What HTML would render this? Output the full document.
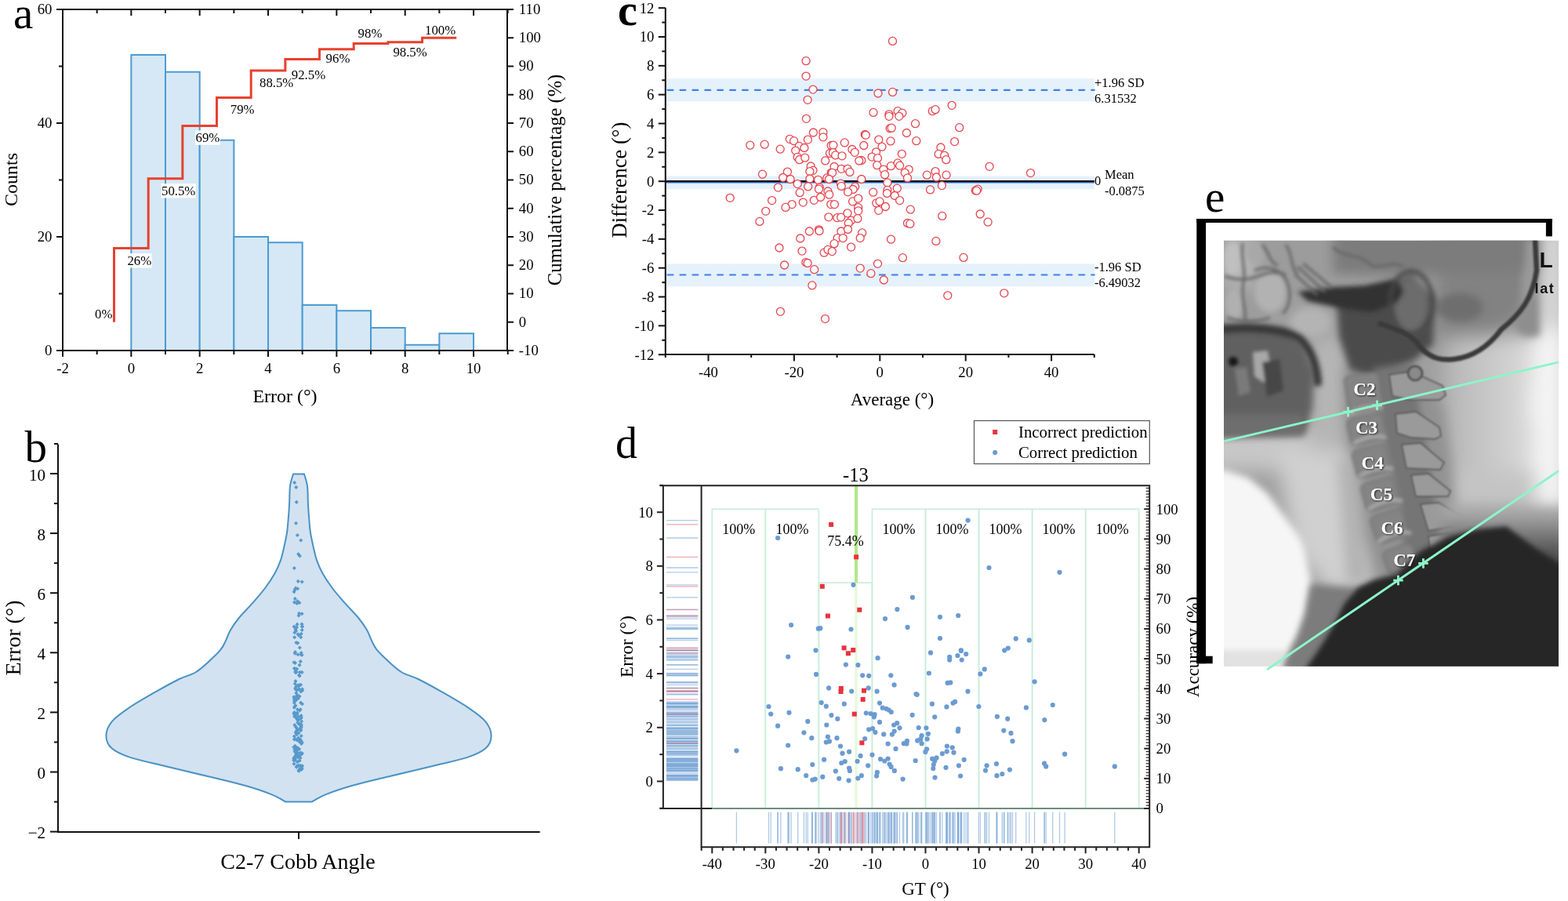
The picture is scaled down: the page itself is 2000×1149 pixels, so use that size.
<!DOCTYPE html>
<html><head><meta charset="utf-8"><title>Figure</title>
<style>html,body{margin:0;padding:0;background:#fff;} svg{display:block;}</style></head>
<body><svg width="2000" height="1149" viewBox="0 0 2000 1149">
<rect width="2000" height="1149" fill="#fff"/>
<rect x="167.34" y="70" width="43.67" height="377" fill="#d6e8f5" stroke="#4b9bd2" stroke-width="2"/>
<rect x="211.01" y="91.75" width="43.67" height="355.25" fill="#d6e8f5" stroke="#4b9bd2" stroke-width="2"/>
<rect x="254.68" y="178.75" width="43.67" height="268.25" fill="#d6e8f5" stroke="#4b9bd2" stroke-width="2"/>
<rect x="298.35" y="302" width="43.67" height="145" fill="#d6e8f5" stroke="#4b9bd2" stroke-width="2"/>
<rect x="342.02" y="309.25" width="43.67" height="137.75" fill="#d6e8f5" stroke="#4b9bd2" stroke-width="2"/>
<rect x="385.69" y="389" width="43.67" height="58" fill="#d6e8f5" stroke="#4b9bd2" stroke-width="2"/>
<rect x="429.36" y="396.25" width="43.67" height="50.75" fill="#d6e8f5" stroke="#4b9bd2" stroke-width="2"/>
<rect x="473.03" y="418" width="43.67" height="29" fill="#d6e8f5" stroke="#4b9bd2" stroke-width="2"/>
<rect x="516.7" y="439.75" width="43.67" height="7.25" fill="#d6e8f5" stroke="#4b9bd2" stroke-width="2"/>
<rect x="560.37" y="425.25" width="43.67" height="21.75" fill="#d6e8f5" stroke="#4b9bd2" stroke-width="2"/>
<path d="M80.0 12.0H647.0V447.0H80.0Z" fill="none" stroke="#111" stroke-width="2"/>
<line x1="80" y1="447.0" x2="80" y2="455.0" stroke="#111" stroke-width="2"/>
<line x1="80" y1="12.0" x2="80" y2="20.0" stroke="#111" stroke-width="2"/>
<text x="80" y="475.7" font-size="18.8" text-anchor="middle" font-family="'Liberation Serif','Times New Roman',serif">-2</text>
<line x1="123.67" y1="447.0" x2="123.67" y2="452.0" stroke="#111" stroke-width="2"/>
<line x1="123.67" y1="12.0" x2="123.67" y2="17.0" stroke="#111" stroke-width="2"/>
<line x1="167.34" y1="447.0" x2="167.34" y2="455.0" stroke="#111" stroke-width="2"/>
<line x1="167.34" y1="12.0" x2="167.34" y2="20.0" stroke="#111" stroke-width="2"/>
<text x="167.34" y="475.7" font-size="18.8" text-anchor="middle" font-family="'Liberation Serif','Times New Roman',serif">0</text>
<line x1="211.01" y1="447.0" x2="211.01" y2="452.0" stroke="#111" stroke-width="2"/>
<line x1="211.01" y1="12.0" x2="211.01" y2="17.0" stroke="#111" stroke-width="2"/>
<line x1="254.68" y1="447.0" x2="254.68" y2="455.0" stroke="#111" stroke-width="2"/>
<line x1="254.68" y1="12.0" x2="254.68" y2="20.0" stroke="#111" stroke-width="2"/>
<text x="254.68" y="475.7" font-size="18.8" text-anchor="middle" font-family="'Liberation Serif','Times New Roman',serif">2</text>
<line x1="298.35" y1="447.0" x2="298.35" y2="452.0" stroke="#111" stroke-width="2"/>
<line x1="298.35" y1="12.0" x2="298.35" y2="17.0" stroke="#111" stroke-width="2"/>
<line x1="342.02" y1="447.0" x2="342.02" y2="455.0" stroke="#111" stroke-width="2"/>
<line x1="342.02" y1="12.0" x2="342.02" y2="20.0" stroke="#111" stroke-width="2"/>
<text x="342.02" y="475.7" font-size="18.8" text-anchor="middle" font-family="'Liberation Serif','Times New Roman',serif">4</text>
<line x1="385.69" y1="447.0" x2="385.69" y2="452.0" stroke="#111" stroke-width="2"/>
<line x1="385.69" y1="12.0" x2="385.69" y2="17.0" stroke="#111" stroke-width="2"/>
<line x1="429.36" y1="447.0" x2="429.36" y2="455.0" stroke="#111" stroke-width="2"/>
<line x1="429.36" y1="12.0" x2="429.36" y2="20.0" stroke="#111" stroke-width="2"/>
<text x="429.36" y="475.7" font-size="18.8" text-anchor="middle" font-family="'Liberation Serif','Times New Roman',serif">6</text>
<line x1="473.03" y1="447.0" x2="473.03" y2="452.0" stroke="#111" stroke-width="2"/>
<line x1="473.03" y1="12.0" x2="473.03" y2="17.0" stroke="#111" stroke-width="2"/>
<line x1="516.7" y1="447.0" x2="516.7" y2="455.0" stroke="#111" stroke-width="2"/>
<line x1="516.7" y1="12.0" x2="516.7" y2="20.0" stroke="#111" stroke-width="2"/>
<text x="516.7" y="475.7" font-size="18.8" text-anchor="middle" font-family="'Liberation Serif','Times New Roman',serif">8</text>
<line x1="560.37" y1="447.0" x2="560.37" y2="452.0" stroke="#111" stroke-width="2"/>
<line x1="560.37" y1="12.0" x2="560.37" y2="17.0" stroke="#111" stroke-width="2"/>
<line x1="604.04" y1="447.0" x2="604.04" y2="455.0" stroke="#111" stroke-width="2"/>
<line x1="604.04" y1="12.0" x2="604.04" y2="20.0" stroke="#111" stroke-width="2"/>
<text x="604.04" y="475.7" font-size="18.8" text-anchor="middle" font-family="'Liberation Serif','Times New Roman',serif">10</text>
<line x1="647.71" y1="447.0" x2="647.71" y2="452.0" stroke="#111" stroke-width="2"/>
<line x1="647.71" y1="12.0" x2="647.71" y2="17.0" stroke="#111" stroke-width="2"/>
<line x1="72.0" y1="447" x2="80.0" y2="447" stroke="#111" stroke-width="2"/>
<text x="66.5" y="453.2" font-size="18.8" text-anchor="end" font-family="'Liberation Serif','Times New Roman',serif">0</text>
<line x1="75.0" y1="374.5" x2="80.0" y2="374.5" stroke="#111" stroke-width="2"/>
<line x1="72.0" y1="302" x2="80.0" y2="302" stroke="#111" stroke-width="2"/>
<text x="66.5" y="308.2" font-size="18.8" text-anchor="end" font-family="'Liberation Serif','Times New Roman',serif">20</text>
<line x1="75.0" y1="229.5" x2="80.0" y2="229.5" stroke="#111" stroke-width="2"/>
<line x1="72.0" y1="157" x2="80.0" y2="157" stroke="#111" stroke-width="2"/>
<text x="66.5" y="163.2" font-size="18.8" text-anchor="end" font-family="'Liberation Serif','Times New Roman',serif">40</text>
<line x1="75.0" y1="84.5" x2="80.0" y2="84.5" stroke="#111" stroke-width="2"/>
<line x1="72.0" y1="12" x2="80.0" y2="12" stroke="#111" stroke-width="2"/>
<text x="66.5" y="18.2" font-size="18.8" text-anchor="end" font-family="'Liberation Serif','Times New Roman',serif">60</text>
<line x1="647.0" y1="447" x2="655.0" y2="447" stroke="#111" stroke-width="2"/>
<text x="661.8" y="452.8" font-size="18.8" font-family="'Liberation Serif','Times New Roman',serif">-10</text>
<line x1="647.0" y1="410.75" x2="655.0" y2="410.75" stroke="#111" stroke-width="2"/>
<text x="661.8" y="416.55" font-size="18.8" font-family="'Liberation Serif','Times New Roman',serif">0</text>
<line x1="647.0" y1="374.5" x2="655.0" y2="374.5" stroke="#111" stroke-width="2"/>
<text x="661.8" y="380.3" font-size="18.8" font-family="'Liberation Serif','Times New Roman',serif">10</text>
<line x1="647.0" y1="338.25" x2="655.0" y2="338.25" stroke="#111" stroke-width="2"/>
<text x="661.8" y="344.05" font-size="18.8" font-family="'Liberation Serif','Times New Roman',serif">20</text>
<line x1="647.0" y1="302" x2="655.0" y2="302" stroke="#111" stroke-width="2"/>
<text x="661.8" y="307.8" font-size="18.8" font-family="'Liberation Serif','Times New Roman',serif">30</text>
<line x1="647.0" y1="265.75" x2="655.0" y2="265.75" stroke="#111" stroke-width="2"/>
<text x="661.8" y="271.55" font-size="18.8" font-family="'Liberation Serif','Times New Roman',serif">40</text>
<line x1="647.0" y1="229.5" x2="655.0" y2="229.5" stroke="#111" stroke-width="2"/>
<text x="661.8" y="235.3" font-size="18.8" font-family="'Liberation Serif','Times New Roman',serif">50</text>
<line x1="647.0" y1="193.25" x2="655.0" y2="193.25" stroke="#111" stroke-width="2"/>
<text x="661.8" y="199.05" font-size="18.8" font-family="'Liberation Serif','Times New Roman',serif">60</text>
<line x1="647.0" y1="157" x2="655.0" y2="157" stroke="#111" stroke-width="2"/>
<text x="661.8" y="162.8" font-size="18.8" font-family="'Liberation Serif','Times New Roman',serif">70</text>
<line x1="647.0" y1="120.75" x2="655.0" y2="120.75" stroke="#111" stroke-width="2"/>
<text x="661.8" y="126.55" font-size="18.8" font-family="'Liberation Serif','Times New Roman',serif">80</text>
<line x1="647.0" y1="84.5" x2="655.0" y2="84.5" stroke="#111" stroke-width="2"/>
<text x="661.8" y="90.3" font-size="18.8" font-family="'Liberation Serif','Times New Roman',serif">90</text>
<line x1="647.0" y1="48.25" x2="655.0" y2="48.25" stroke="#111" stroke-width="2"/>
<text x="661.8" y="54.05" font-size="18.8" font-family="'Liberation Serif','Times New Roman',serif">100</text>
<line x1="647.0" y1="12" x2="655.0" y2="12" stroke="#111" stroke-width="2"/>
<text x="661.8" y="17.8" font-size="18.8" font-family="'Liberation Serif','Times New Roman',serif">110</text>
<path d="M145.5 410.75V316.5H189.18V227.69H232.84V160.62H276.51V124.38H320.19V89.94H363.86V75.44H407.53V62.75H451.19V55.5H494.87V53.69H538.54V48.25H582.21" fill="none" stroke="#e8412f" stroke-width="3" stroke-linejoin="miter"/>
<text x="121" y="405.6" font-size="16.8" font-family="'Liberation Serif','Times New Roman',serif">0%</text>
<rect x="162" y="323.2" width="31.59" height="18.3" fill="#fff"/>
<text x="162.4" y="338" font-size="16.8" font-family="'Liberation Serif','Times New Roman',serif">26%</text>
<rect x="205.6" y="234.2" width="44.19" height="18.3" fill="#fff"/>
<text x="206" y="249" font-size="16.8" font-family="'Liberation Serif','Times New Roman',serif">50.5%</text>
<rect x="249.1" y="166.5" width="31.59" height="18.3" fill="#fff"/>
<text x="249.5" y="181.3" font-size="16.8" font-family="'Liberation Serif','Times New Roman',serif">69%</text>
<text x="293.8" y="145.3" font-size="16.8" font-family="'Liberation Serif','Times New Roman',serif">79%</text>
<text x="331" y="110.7" font-size="16.8" font-family="'Liberation Serif','Times New Roman',serif">88.5%</text>
<text x="371.8" y="100.5" font-size="16.8" font-family="'Liberation Serif','Times New Roman',serif">92.5%</text>
<text x="415.6" y="79.8" font-size="16.8" font-family="'Liberation Serif','Times New Roman',serif">96%</text>
<text x="456.6" y="48.4" font-size="16.8" font-family="'Liberation Serif','Times New Roman',serif">98%</text>
<text x="501.4" y="72.4" font-size="16.8" font-family="'Liberation Serif','Times New Roman',serif">98.5%</text>
<text x="542" y="43.8" font-size="16.8" font-family="'Liberation Serif','Times New Roman',serif">100%</text>
<text x="363.5" y="513" font-size="24" text-anchor="middle" font-family="'Liberation Serif','Times New Roman',serif">Error (°)</text>
<text transform="translate(21.5 229) rotate(-90)" font-size="24" text-anchor="middle" font-family="'Liberation Serif','Times New Roman',serif">Counts</text>
<text transform="translate(715.5 229.5) rotate(-90)" font-size="24.5" text-anchor="middle" font-family="'Liberation Serif','Times New Roman',serif">Cumulative percentage (%)</text>
<text x="17" y="36" font-size="57" font-family="'Liberation Serif','Times New Roman',serif">a</text>
<path d="M374 604.5C373.33 607.08 370.83 613.42 370 620C369.17 626.58 369.45 636.17 369 644C368.55 651.83 367.82 661 367.3 667C366.78 673 366.67 675.22 365.9 680C365.13 684.78 364.02 689.97 362.7 695.7C361.38 701.43 360.08 708.4 358 714.4C355.92 720.4 353.58 725.68 350.2 731.7C346.82 737.72 342.4 744.25 337.7 750.5C333 756.75 327.48 762.95 322 769.2C316.52 775.45 309.5 782.25 304.8 788C300.1 793.75 296.67 798.73 293.8 803.7C290.93 808.67 289.68 813.63 287.6 817.8C285.52 821.97 284.43 824.78 281.3 828.7C278.17 832.62 274.02 836.58 268.8 841.3C263.58 846.02 256.7 852.88 250 857C243.3 861.12 237.07 861.85 228.6 866C220.13 870.15 209.75 875.87 199.2 881.9C188.65 887.93 174.73 895.8 165.3 902.2C155.87 908.6 147.58 914.27 142.6 920.3C137.62 926.33 135.4 932.73 135.4 938.4C135.4 944.07 137.62 949.77 142.6 954.3C147.58 958.83 153.98 961.82 165.3 965.6C176.62 969.38 193.53 972.85 210.5 977C227.47 981.15 250.12 986.37 267.1 990.5C284.08 994.63 299.2 998.03 312.4 1001.8C325.6 1005.57 337.62 1009.63 346.3 1013.1C354.98 1016.57 361.47 1021.02 364.5 1022.6L397.5 1022.6C400.53 1021.02 407.02 1016.57 415.7 1013.1C424.38 1009.63 436.4 1005.57 449.6 1001.8C462.8 998.03 477.92 994.63 494.9 990.5C511.88 986.37 534.53 981.15 551.5 977C568.47 972.85 585.38 969.38 596.7 965.6C608.02 961.82 614.42 958.83 619.4 954.3C624.38 949.77 626.6 944.07 626.6 938.4C626.6 932.73 624.38 926.33 619.4 920.3C614.42 914.27 606.13 908.6 596.7 902.2C587.27 895.8 573.35 887.93 562.8 881.9C552.25 875.87 541.87 870.15 533.4 866C524.93 861.85 518.7 861.12 512 857C505.3 852.88 498.42 846.02 493.2 841.3C487.98 836.58 483.83 832.62 480.7 828.7C477.57 824.78 476.48 821.97 474.4 817.8C472.32 813.63 471.07 808.67 468.2 803.7C465.33 798.73 461.9 793.75 457.2 788C452.5 782.25 445.48 775.45 440 769.2C434.52 762.95 429 756.75 424.3 750.5C419.6 744.25 415.18 737.72 411.8 731.7C408.42 725.68 406.08 720.4 404 714.4C401.92 708.4 400.62 701.43 399.3 695.7C397.98 689.97 396.87 684.78 396.1 680C395.33 675.22 395.22 673 394.7 667C394.18 661 393.45 651.83 393 644C392.55 636.17 392.83 626.58 392 620C391.17 613.42 388.67 607.08 388 604.5Z" fill="#d2e2f1" stroke="#4a92c4" stroke-width="2"/>
<rect x="376.46" y="638.56" width="3.6" height="3.6" fill="#5799cb" transform="rotate(45 378.26 640.36)"/>
<rect x="374.56" y="761.74" width="3.6" height="3.6" fill="#5799cb" transform="rotate(45 376.36 763.54)"/>
<rect x="380.06" y="766.84" width="3.6" height="3.6" fill="#5799cb" transform="rotate(45 381.86 768.64)"/>
<rect x="373.7" y="766.29" width="3.6" height="3.6" fill="#5799cb" transform="rotate(45 375.5 768.09)"/>
<rect x="378.79" y="704.86" width="3.6" height="3.6" fill="#5799cb" transform="rotate(45 380.59 706.66)"/>
<rect x="376.92" y="767.73" width="3.6" height="3.6" fill="#5799cb" transform="rotate(45 378.72 769.53)"/>
<rect x="373.54" y="722.71" width="3.6" height="3.6" fill="#5799cb" transform="rotate(45 375.34 724.51)"/>
<rect x="378.48" y="739.57" width="3.6" height="3.6" fill="#5799cb" transform="rotate(45 380.28 741.37)"/>
<rect x="373.31" y="752.87" width="3.6" height="3.6" fill="#5799cb" transform="rotate(45 375.11 754.67)"/>
<rect x="377.67" y="764.84" width="3.6" height="3.6" fill="#5799cb" transform="rotate(45 379.47 766.64)"/>
<rect x="373.67" y="797.44" width="3.6" height="3.6" fill="#5799cb" transform="rotate(45 375.47 799.24)"/>
<rect x="373.9" y="613.73" width="3.6" height="3.6" fill="#5799cb" transform="rotate(45 375.7 615.53)"/>
<rect x="377.57" y="680.69" width="3.6" height="3.6" fill="#5799cb" transform="rotate(45 379.37 682.49)"/>
<rect x="382" y="687.13" width="3.6" height="3.6" fill="#5799cb" transform="rotate(45 383.8 688.93)"/>
<rect x="374.26" y="750.32" width="3.6" height="3.6" fill="#5799cb" transform="rotate(45 376.06 752.12)"/>
<rect x="375.36" y="748.32" width="3.6" height="3.6" fill="#5799cb" transform="rotate(45 377.16 750.12)"/>
<rect x="379.8" y="780.48" width="3.6" height="3.6" fill="#5799cb" transform="rotate(45 381.6 782.28)"/>
<rect x="383.32" y="780.92" width="3.6" height="3.6" fill="#5799cb" transform="rotate(45 385.12 782.72)"/>
<rect x="379.25" y="783.14" width="3.6" height="3.6" fill="#5799cb" transform="rotate(45 381.05 784.94)"/>
<rect x="377.26" y="794.33" width="3.6" height="3.6" fill="#5799cb" transform="rotate(45 379.06 796.13)"/>
<rect x="383.64" y="797.44" width="3.6" height="3.6" fill="#5799cb" transform="rotate(45 385.44 799.24)"/>
<rect x="373.41" y="797.44" width="3.6" height="3.6" fill="#5799cb" transform="rotate(45 375.21 799.24)"/>
<rect x="382.34" y="806.53" width="3.6" height="3.6" fill="#5799cb" transform="rotate(45 384.14 808.33)"/>
<rect x="376.09" y="817.73" width="3.6" height="3.6" fill="#5799cb" transform="rotate(45 377.89 819.53)"/>
<rect x="374.49" y="831.36" width="3.6" height="3.6" fill="#5799cb" transform="rotate(45 376.29 833.16)"/>
<rect x="374.2" y="850.77" width="3.6" height="3.6" fill="#5799cb" transform="rotate(45 376 852.57)"/>
<rect x="376.29" y="855.31" width="3.6" height="3.6" fill="#5799cb" transform="rotate(45 378.09 857.11)"/>
<rect x="381.88" y="871.5" width="3.6" height="3.6" fill="#5799cb" transform="rotate(45 383.68 873.3)"/>
<rect x="374.89" y="876.6" width="3.6" height="3.6" fill="#5799cb" transform="rotate(45 376.69 878.4)"/>
<rect x="379.3" y="873.27" width="3.6" height="3.6" fill="#5799cb" transform="rotate(45 381.1 875.07)"/>
<rect x="379.93" y="876.93" width="3.6" height="3.6" fill="#5799cb" transform="rotate(45 381.73 878.73)"/>
<rect x="377" y="887.58" width="3.6" height="3.6" fill="#5799cb" transform="rotate(45 378.8 889.38)"/>
<rect x="378.93" y="885.58" width="3.6" height="3.6" fill="#5799cb" transform="rotate(45 380.73 887.38)"/>
<rect x="373.59" y="889.24" width="3.6" height="3.6" fill="#5799cb" transform="rotate(45 375.39 891.04)"/>
<rect x="373.56" y="894.34" width="3.6" height="3.6" fill="#5799cb" transform="rotate(45 375.36 896.14)"/>
<rect x="375.17" y="897.89" width="3.6" height="3.6" fill="#5799cb" transform="rotate(45 376.97 899.69)"/>
<rect x="380.38" y="904.32" width="3.6" height="3.6" fill="#5799cb" transform="rotate(45 382.18 906.12)"/>
<rect x="377.6" y="902.99" width="3.6" height="3.6" fill="#5799cb" transform="rotate(45 379.4 904.79)"/>
<rect x="376.36" y="913.85" width="3.6" height="3.6" fill="#5799cb" transform="rotate(45 378.16 915.65)"/>
<rect x="379.34" y="921.5" width="3.6" height="3.6" fill="#5799cb" transform="rotate(45 381.14 923.3)"/>
<rect x="377.89" y="919.73" width="3.6" height="3.6" fill="#5799cb" transform="rotate(45 379.69 921.53)"/>
<rect x="376.2" y="926.16" width="3.6" height="3.6" fill="#5799cb" transform="rotate(45 378 927.96)"/>
<rect x="381.64" y="927.38" width="3.6" height="3.6" fill="#5799cb" transform="rotate(45 383.44 929.18)"/>
<rect x="380.59" y="921.5" width="3.6" height="3.6" fill="#5799cb" transform="rotate(45 382.39 923.3)"/>
<rect x="375.59" y="931.81" width="3.6" height="3.6" fill="#5799cb" transform="rotate(45 377.39 933.61)"/>
<rect x="379.22" y="932.92" width="3.6" height="3.6" fill="#5799cb" transform="rotate(45 381.02 934.72)"/>
<rect x="378.68" y="939.35" width="3.6" height="3.6" fill="#5799cb" transform="rotate(45 380.48 941.15)"/>
<rect x="382.53" y="943.12" width="3.6" height="3.6" fill="#5799cb" transform="rotate(45 384.33 944.92)"/>
<rect x="380.92" y="940.9" width="3.6" height="3.6" fill="#5799cb" transform="rotate(45 382.72 942.7)"/>
<rect x="376.07" y="951.99" width="3.6" height="3.6" fill="#5799cb" transform="rotate(45 377.87 953.79)"/>
<rect x="383.68" y="958.97" width="3.6" height="3.6" fill="#5799cb" transform="rotate(45 385.48 960.77)"/>
<rect x="374.2" y="956.76" width="3.6" height="3.6" fill="#5799cb" transform="rotate(45 376 958.56)"/>
<rect x="377.5" y="954.54" width="3.6" height="3.6" fill="#5799cb" transform="rotate(45 379.3 956.34)"/>
<rect x="381.23" y="964.74" width="3.6" height="3.6" fill="#5799cb" transform="rotate(45 383.03 966.54)"/>
<rect x="374.57" y="965.85" width="3.6" height="3.6" fill="#5799cb" transform="rotate(45 376.37 967.65)"/>
<rect x="378.28" y="964.07" width="3.6" height="3.6" fill="#5799cb" transform="rotate(45 380.08 965.87)"/>
<rect x="373.33" y="967.73" width="3.6" height="3.6" fill="#5799cb" transform="rotate(45 375.13 969.53)"/>
<rect x="380.25" y="968.29" width="3.6" height="3.6" fill="#5799cb" transform="rotate(45 382.05 970.09)"/>
<rect x="381.31" y="974.5" width="3.6" height="3.6" fill="#5799cb" transform="rotate(45 383.11 976.3)"/>
<rect x="379.2" y="980.59" width="3.6" height="3.6" fill="#5799cb" transform="rotate(45 381 982.39)"/>
<rect x="382.53" y="979.6" width="3.6" height="3.6" fill="#5799cb" transform="rotate(45 384.33 981.4)"/>
<rect x="376.35" y="976.38" width="3.6" height="3.6" fill="#5799cb" transform="rotate(45 378.15 978.18)"/>
<rect x="380.55" y="978.71" width="3.6" height="3.6" fill="#5799cb" transform="rotate(45 382.35 980.51)"/>
<rect x="379.44" y="981.48" width="3.6" height="3.6" fill="#5799cb" transform="rotate(45 381.24 983.28)"/>
<rect x="379.28" y="808.42" width="3.6" height="3.6" fill="#5799cb" transform="rotate(45 381.08 810.22)"/>
<rect x="377.92" y="818.28" width="3.6" height="3.6" fill="#5799cb" transform="rotate(45 379.72 820.08)"/>
<rect x="382.14" y="832.92" width="3.6" height="3.6" fill="#5799cb" transform="rotate(45 383.94 834.72)"/>
<rect x="383.29" y="833.47" width="3.6" height="3.6" fill="#5799cb" transform="rotate(45 385.09 835.27)"/>
<rect x="378.12" y="832.92" width="3.6" height="3.6" fill="#5799cb" transform="rotate(45 379.92 834.72)"/>
<rect x="380.21" y="846.33" width="3.6" height="3.6" fill="#5799cb" transform="rotate(45 382.01 848.13)"/>
<rect x="373.57" y="850.77" width="3.6" height="3.6" fill="#5799cb" transform="rotate(45 375.37 852.57)"/>
<rect x="380.62" y="855.53" width="3.6" height="3.6" fill="#5799cb" transform="rotate(45 382.42 857.33)"/>
<rect x="380.02" y="872.05" width="3.6" height="3.6" fill="#5799cb" transform="rotate(45 381.82 873.85)"/>
<rect x="383.82" y="878.82" width="3.6" height="3.6" fill="#5799cb" transform="rotate(45 385.62 880.62)"/>
<rect x="381.94" y="880.04" width="3.6" height="3.6" fill="#5799cb" transform="rotate(45 383.74 881.84)"/>
<rect x="376.03" y="881.92" width="3.6" height="3.6" fill="#5799cb" transform="rotate(45 377.83 883.72)"/>
<rect x="377.14" y="884.69" width="3.6" height="3.6" fill="#5799cb" transform="rotate(45 378.94 886.49)"/>
<rect x="380.26" y="886.13" width="3.6" height="3.6" fill="#5799cb" transform="rotate(45 382.06 887.93)"/>
<rect x="373.15" y="887.02" width="3.6" height="3.6" fill="#5799cb" transform="rotate(45 374.95 888.82)"/>
<rect x="377.98" y="888.02" width="3.6" height="3.6" fill="#5799cb" transform="rotate(45 379.78 889.82)"/>
<rect x="374.75" y="891.68" width="3.6" height="3.6" fill="#5799cb" transform="rotate(45 376.55 893.48)"/>
<rect x="374.19" y="898.99" width="3.6" height="3.6" fill="#5799cb" transform="rotate(45 375.99 900.79)"/>
<rect x="373.55" y="900.44" width="3.6" height="3.6" fill="#5799cb" transform="rotate(45 375.35 902.24)"/>
<rect x="381.35" y="902.99" width="3.6" height="3.6" fill="#5799cb" transform="rotate(45 383.15 904.79)"/>
<rect x="374.32" y="907.2" width="3.6" height="3.6" fill="#5799cb" transform="rotate(45 376.12 909)"/>
<rect x="375.62" y="909.42" width="3.6" height="3.6" fill="#5799cb" transform="rotate(45 377.42 911.22)"/>
<rect x="377.2" y="908.09" width="3.6" height="3.6" fill="#5799cb" transform="rotate(45 379 909.89)"/>
<rect x="382.49" y="913.3" width="3.6" height="3.6" fill="#5799cb" transform="rotate(45 384.29 915.1)"/>
<rect x="373.79" y="911.86" width="3.6" height="3.6" fill="#5799cb" transform="rotate(45 375.59 913.66)"/>
<rect x="377.84" y="916.4" width="3.6" height="3.6" fill="#5799cb" transform="rotate(45 379.64 918.2)"/>
<rect x="378.94" y="916.18" width="3.6" height="3.6" fill="#5799cb" transform="rotate(45 380.74 917.98)"/>
<rect x="382.62" y="922.39" width="3.6" height="3.6" fill="#5799cb" transform="rotate(45 384.42 924.19)"/>
<rect x="381.91" y="929.59" width="3.6" height="3.6" fill="#5799cb" transform="rotate(45 383.71 931.39)"/>
<rect x="382.4" y="936.69" width="3.6" height="3.6" fill="#5799cb" transform="rotate(45 384.2 938.49)"/>
<rect x="375.96" y="925.6" width="3.6" height="3.6" fill="#5799cb" transform="rotate(45 377.76 927.4)"/>
<rect x="377.47" y="929.26" width="3.6" height="3.6" fill="#5799cb" transform="rotate(45 379.27 931.06)"/>
<rect x="376.85" y="929.59" width="3.6" height="3.6" fill="#5799cb" transform="rotate(45 378.65 931.39)"/>
<rect x="382.63" y="946.67" width="3.6" height="3.6" fill="#5799cb" transform="rotate(45 384.43 948.47)"/>
<rect x="383.44" y="945.23" width="3.6" height="3.6" fill="#5799cb" transform="rotate(45 385.24 947.03)"/>
<rect x="374.56" y="954.32" width="3.6" height="3.6" fill="#5799cb" transform="rotate(45 376.36 956.12)"/>
<rect x="374.84" y="951.21" width="3.6" height="3.6" fill="#5799cb" transform="rotate(45 376.64 953.01)"/>
<rect x="375.45" y="953.99" width="3.6" height="3.6" fill="#5799cb" transform="rotate(45 377.25 955.79)"/>
<rect x="375.47" y="950.66" width="3.6" height="3.6" fill="#5799cb" transform="rotate(45 377.27 952.46)"/>
<rect x="378.23" y="958.53" width="3.6" height="3.6" fill="#5799cb" transform="rotate(45 380.03 960.33)"/>
<rect x="379.38" y="962.19" width="3.6" height="3.6" fill="#5799cb" transform="rotate(45 381.18 963.99)"/>
<rect x="375.79" y="960.42" width="3.6" height="3.6" fill="#5799cb" transform="rotate(45 377.59 962.22)"/>
<rect x="372.95" y="967.73" width="3.6" height="3.6" fill="#5799cb" transform="rotate(45 374.75 969.53)"/>
<rect x="377.51" y="969.95" width="3.6" height="3.6" fill="#5799cb" transform="rotate(45 379.31 971.75)"/>
<rect x="376.96" y="975.05" width="3.6" height="3.6" fill="#5799cb" transform="rotate(45 378.76 976.85)"/>
<rect x="379.13" y="974.5" width="3.6" height="3.6" fill="#5799cb" transform="rotate(45 380.93 976.3)"/>
<rect x="383.38" y="978.38" width="3.6" height="3.6" fill="#5799cb" transform="rotate(45 385.18 980.18)"/>
<rect x="380.5" y="979.6" width="3.6" height="3.6" fill="#5799cb" transform="rotate(45 382.3 981.4)"/>
<rect x="378.57" y="888.91" width="3.6" height="3.6" fill="#5799cb" transform="rotate(45 380.37 890.71)"/>
<rect x="379.69" y="859.19" width="3.6" height="3.6" fill="#5799cb" transform="rotate(45 381.49 860.99)"/>
<rect x="380.34" y="860.08" width="3.6" height="3.6" fill="#5799cb" transform="rotate(45 382.14 861.88)"/>
<rect x="373.49" y="906.87" width="3.6" height="3.6" fill="#5799cb" transform="rotate(45 375.29 908.67)"/>
<rect x="382.79" y="918.17" width="3.6" height="3.6" fill="#5799cb" transform="rotate(45 384.59 919.97)"/>
<rect x="381.48" y="922.83" width="3.6" height="3.6" fill="#5799cb" transform="rotate(45 383.28 924.63)"/>
<rect x="382.52" y="925.05" width="3.6" height="3.6" fill="#5799cb" transform="rotate(45 384.32 926.85)"/>
<rect x="381.68" y="929.26" width="3.6" height="3.6" fill="#5799cb" transform="rotate(45 383.48 931.06)"/>
<rect x="377.22" y="907.2" width="3.6" height="3.6" fill="#5799cb" transform="rotate(45 379.02 909)"/>
<rect x="377.29" y="915.51" width="3.6" height="3.6" fill="#5799cb" transform="rotate(45 379.09 917.31)"/>
<rect x="374.04" y="922.83" width="3.6" height="3.6" fill="#5799cb" transform="rotate(45 375.84 924.63)"/>
<rect x="379.88" y="953.43" width="3.6" height="3.6" fill="#5799cb" transform="rotate(45 381.68 955.23)"/>
<rect x="373.58" y="937.13" width="3.6" height="3.6" fill="#5799cb" transform="rotate(45 375.38 938.93)"/>
<rect x="373.64" y="941.12" width="3.6" height="3.6" fill="#5799cb" transform="rotate(45 375.44 942.92)"/>
<rect x="375.2" y="800.88" width="3.6" height="3.6" fill="#5799cb" transform="rotate(45 377 802.68)"/>
<rect x="374.69" y="829.81" width="3.6" height="3.6" fill="#5799cb" transform="rotate(45 376.49 831.61)"/>
<rect x="376.64" y="873.27" width="3.6" height="3.6" fill="#5799cb" transform="rotate(45 378.44 875.07)"/>
<rect x="373.48" y="891.68" width="3.6" height="3.6" fill="#5799cb" transform="rotate(45 375.28 893.48)"/>
<rect x="372.9" y="950.88" width="3.6" height="3.6" fill="#5799cb" transform="rotate(45 374.7 952.68)"/>
<rect x="374.56" y="949.44" width="3.6" height="3.6" fill="#5799cb" transform="rotate(45 376.36 951.24)"/>
<rect x="374.02" y="953.99" width="3.6" height="3.6" fill="#5799cb" transform="rotate(45 375.82 955.79)"/>
<rect x="376.9" y="959.09" width="3.6" height="3.6" fill="#5799cb" transform="rotate(45 378.7 960.89)"/>
<rect x="373.18" y="964.63" width="3.6" height="3.6" fill="#5799cb" transform="rotate(45 374.98 966.43)"/>
<rect x="382.52" y="977.27" width="3.6" height="3.6" fill="#5799cb" transform="rotate(45 384.32 979.07)"/>
<rect x="379.65" y="943.56" width="3.6" height="3.6" fill="#5799cb" transform="rotate(45 381.45 945.36)"/>
<rect x="374.53" y="940.46" width="3.6" height="3.6" fill="#5799cb" transform="rotate(45 376.33 942.26)"/>
<rect x="375.67" y="932.92" width="3.6" height="3.6" fill="#5799cb" transform="rotate(45 377.47 934.72)"/>
<rect x="376.72" y="934.92" width="3.6" height="3.6" fill="#5799cb" transform="rotate(45 378.52 936.72)"/>
<rect x="376.91" y="942.01" width="3.6" height="3.6" fill="#5799cb" transform="rotate(45 378.71 943.81)"/>
<rect x="374.25" y="963.19" width="3.6" height="3.6" fill="#5799cb" transform="rotate(45 376.05 964.99)"/>
<rect x="382.24" y="960.42" width="3.6" height="3.6" fill="#5799cb" transform="rotate(45 384.04 962.22)"/>
<rect x="383.82" y="975.05" width="3.6" height="3.6" fill="#5799cb" transform="rotate(45 385.62 976.85)"/>
<rect x="378.03" y="952.1" width="3.6" height="3.6" fill="#5799cb" transform="rotate(45 379.83 953.9)"/>
<rect x="378.22" y="806.97" width="3.6" height="3.6" fill="#5799cb" transform="rotate(45 380.02 808.77)"/>
<rect x="373.84" y="810.97" width="3.6" height="3.6" fill="#5799cb" transform="rotate(45 375.64 812.77)"/>
<rect x="374.02" y="804.87" width="3.6" height="3.6" fill="#5799cb" transform="rotate(45 375.82 806.67)"/>
<rect x="376.67" y="798.1" width="3.6" height="3.6" fill="#5799cb" transform="rotate(45 378.47 799.9)"/>
<rect x="375.81" y="802.76" width="3.6" height="3.6" fill="#5799cb" transform="rotate(45 377.61 804.56)"/>
<rect x="382.02" y="810.97" width="3.6" height="3.6" fill="#5799cb" transform="rotate(45 383.82 812.77)"/>
<rect x="374.68" y="843.56" width="3.6" height="3.6" fill="#5799cb" transform="rotate(45 376.48 845.36)"/>
<rect x="373.15" y="843.01" width="3.6" height="3.6" fill="#5799cb" transform="rotate(45 374.95 844.81)"/>
<rect x="383.36" y="855.53" width="3.6" height="3.6" fill="#5799cb" transform="rotate(45 385.16 857.33)"/>
<rect x="378.71" y="872.05" width="3.6" height="3.6" fill="#5799cb" transform="rotate(45 380.51 873.85)"/>
<rect x="374.51" y="870.17" width="3.6" height="3.6" fill="#5799cb" transform="rotate(45 376.31 871.97)"/>
<rect x="378.87" y="877.38" width="3.6" height="3.6" fill="#5799cb" transform="rotate(45 380.67 879.18)"/>
<rect x="373.2" y="908.64" width="3.6" height="3.6" fill="#5799cb" transform="rotate(45 375 910.44)"/>
<rect x="378.71" y="911.86" width="3.6" height="3.6" fill="#5799cb" transform="rotate(45 380.51 913.66)"/>
<rect x="383.66" y="876.93" width="3.6" height="3.6" fill="#5799cb" transform="rotate(45 385.46 878.73)"/>
<rect x="382.4" y="830.81" width="3.6" height="3.6" fill="#5799cb" transform="rotate(45 384.2 832.61)"/>
<rect x="380.56" y="824.16" width="3.6" height="3.6" fill="#5799cb" transform="rotate(45 382.36 825.96)"/>
<rect x="375.77" y="891.12" width="3.6" height="3.6" fill="#5799cb" transform="rotate(45 377.57 892.92)"/>
<rect x="376.93" y="960.42" width="3.6" height="3.6" fill="#5799cb" transform="rotate(45 378.73 962.22)"/>
<rect x="374.74" y="967.4" width="3.6" height="3.6" fill="#5799cb" transform="rotate(45 376.54 969.2)"/>
<rect x="381.39" y="957.98" width="3.6" height="3.6" fill="#5799cb" transform="rotate(45 383.19 959.78)"/>
<rect x="378.76" y="974.72" width="3.6" height="3.6" fill="#5799cb" transform="rotate(45 380.56 976.52)"/>
<rect x="381.47" y="841.79" width="3.6" height="3.6" fill="#5799cb" transform="rotate(45 383.27 843.59)"/>
<rect x="376.53" y="878.48" width="3.6" height="3.6" fill="#5799cb" transform="rotate(45 378.33 880.28)"/>
<rect x="375.35" y="874.71" width="3.6" height="3.6" fill="#5799cb" transform="rotate(45 377.15 876.51)"/>
<rect x="381.83" y="894.34" width="3.6" height="3.6" fill="#5799cb" transform="rotate(45 383.63 896.14)"/>
<rect x="383.73" y="895.89" width="3.6" height="3.6" fill="#5799cb" transform="rotate(45 385.53 897.69)"/>
<rect x="382.28" y="910.86" width="3.6" height="3.6" fill="#5799cb" transform="rotate(45 384.08 912.66)"/>
<rect x="381.77" y="914.52" width="3.6" height="3.6" fill="#5799cb" transform="rotate(45 383.57 916.32)"/>
<rect x="381.9" y="925.94" width="3.6" height="3.6" fill="#5799cb" transform="rotate(45 383.7 927.74)"/>
<rect x="381.04" y="944.23" width="3.6" height="3.6" fill="#5799cb" transform="rotate(45 382.84 946.03)"/>
<rect x="375.39" y="957.31" width="3.6" height="3.6" fill="#5799cb" transform="rotate(45 377.19 959.11)"/>
<rect x="378.59" y="961.64" width="3.6" height="3.6" fill="#5799cb" transform="rotate(45 380.39 963.44)"/>
<rect x="376.81" y="961.64" width="3.6" height="3.6" fill="#5799cb" transform="rotate(45 378.61 963.44)"/>
<rect x="373.22" y="966.29" width="3.6" height="3.6" fill="#5799cb" transform="rotate(45 375.02 968.09)"/>
<rect x="373.21" y="972.28" width="3.6" height="3.6" fill="#5799cb" transform="rotate(45 375.01 974.08)"/>
<rect x="375.97" y="619.61" width="3.6" height="3.6" fill="#5799cb" transform="rotate(45 377.77 621.41)"/>
<rect x="375.75" y="665.51" width="3.6" height="3.6" fill="#5799cb" transform="rotate(45 377.55 667.31)"/>
<rect x="380.52" y="707.08" width="3.6" height="3.6" fill="#5799cb" transform="rotate(45 382.32 708.88)"/>
<rect x="383.42" y="740.23" width="3.6" height="3.6" fill="#5799cb" transform="rotate(45 385.22 742.03)"/>
<rect x="377.82" y="748.88" width="3.6" height="3.6" fill="#5799cb" transform="rotate(45 379.62 750.68)"/>
<rect x="383.21" y="794.11" width="3.6" height="3.6" fill="#5799cb" transform="rotate(45 385.01 795.91)"/>
<rect x="383.77" y="797.11" width="3.6" height="3.6" fill="#5799cb" transform="rotate(45 385.57 798.91)"/>
<rect x="383.41" y="801.76" width="3.6" height="3.6" fill="#5799cb" transform="rotate(45 385.21 803.56)"/>
<rect x="376.91" y="851.32" width="3.6" height="3.6" fill="#5799cb" transform="rotate(45 378.71 853.12)"/>
<rect x="375.33" y="855.87" width="3.6" height="3.6" fill="#5799cb" transform="rotate(45 377.13 857.67)"/>
<rect x="375.4" y="887.58" width="3.6" height="3.6" fill="#5799cb" transform="rotate(45 377.2 889.38)"/>
<rect x="375.06" y="854.43" width="3.6" height="3.6" fill="#5799cb" transform="rotate(45 376.86 856.23)"/>
<rect x="375.15" y="866.84" width="3.6" height="3.6" fill="#5799cb" transform="rotate(45 376.95 868.64)"/>
<rect x="379.76" y="928.26" width="3.6" height="3.6" fill="#5799cb" transform="rotate(45 381.56 930.06)"/>
<path d="M74.0 566.5V1061.0H688.6" fill="none" stroke="#111" stroke-width="2"/>
<line x1="64.0" y1="1060.6" x2="74.0" y2="1060.6" stroke="#111" stroke-width="2"/>
<text x="58" y="1069.2" font-size="21" text-anchor="end" font-family="'Liberation Serif','Times New Roman',serif">−2</text>
<line x1="69.0" y1="1022.55" x2="74.0" y2="1022.55" stroke="#111" stroke-width="2"/>
<line x1="64.0" y1="984.5" x2="74.0" y2="984.5" stroke="#111" stroke-width="2"/>
<text x="58" y="993.1" font-size="21" text-anchor="end" font-family="'Liberation Serif','Times New Roman',serif">0</text>
<line x1="69.0" y1="946.45" x2="74.0" y2="946.45" stroke="#111" stroke-width="2"/>
<line x1="64.0" y1="908.4" x2="74.0" y2="908.4" stroke="#111" stroke-width="2"/>
<text x="58" y="917" font-size="21" text-anchor="end" font-family="'Liberation Serif','Times New Roman',serif">2</text>
<line x1="69.0" y1="870.35" x2="74.0" y2="870.35" stroke="#111" stroke-width="2"/>
<line x1="64.0" y1="832.3" x2="74.0" y2="832.3" stroke="#111" stroke-width="2"/>
<text x="58" y="840.9" font-size="21" text-anchor="end" font-family="'Liberation Serif','Times New Roman',serif">4</text>
<line x1="69.0" y1="794.25" x2="74.0" y2="794.25" stroke="#111" stroke-width="2"/>
<line x1="64.0" y1="756.2" x2="74.0" y2="756.2" stroke="#111" stroke-width="2"/>
<text x="58" y="764.8" font-size="21" text-anchor="end" font-family="'Liberation Serif','Times New Roman',serif">6</text>
<line x1="69.0" y1="718.15" x2="74.0" y2="718.15" stroke="#111" stroke-width="2"/>
<line x1="64.0" y1="680.1" x2="74.0" y2="680.1" stroke="#111" stroke-width="2"/>
<text x="58" y="688.7" font-size="21" text-anchor="end" font-family="'Liberation Serif','Times New Roman',serif">8</text>
<line x1="69.0" y1="642.05" x2="74.0" y2="642.05" stroke="#111" stroke-width="2"/>
<line x1="64.0" y1="604" x2="74.0" y2="604" stroke="#111" stroke-width="2"/>
<text x="58" y="612.6" font-size="21" text-anchor="end" font-family="'Liberation Serif','Times New Roman',serif">10</text>
<line x1="69.0" y1="565.95" x2="74.0" y2="565.95" stroke="#111" stroke-width="2"/>
<line x1="381.0" y1="1061.0" x2="381.0" y2="1070.0" stroke="#111" stroke-width="2"/>
<text x="380" y="1107.6" font-size="28" text-anchor="middle" font-family="'Liberation Serif','Times New Roman',serif">C2-7 Cobb Angle</text>
<text transform="translate(25.5 813.5) rotate(-90)" font-size="28" text-anchor="middle" font-family="'Liberation Serif','Times New Roman',serif">Error (°)</text>
<text x="31.5" y="588.5" font-size="57" font-family="'Liberation Serif','Times New Roman',serif">b</text>
<rect x="848.8" y="100.4" width="547" height="28.8" fill="#e5f1fb"/>
<rect x="848.8" y="224.5" width="547" height="16.7" fill="#e5f1fb"/>
<rect x="848.8" y="336.5" width="547" height="28.8" fill="#e5f1fb"/>
<line x1="848.8" y1="114.8" x2="1395.8" y2="114.8" stroke="#3f7fe6" stroke-width="2.2" stroke-dasharray="6.9 9" stroke-dashoffset="13.1" stroke-linecap="round"/>
<line x1="848.8" y1="350.5" x2="1395.8" y2="350.5" stroke="#3f7fe6" stroke-width="2.2" stroke-dasharray="6.9 9" stroke-dashoffset="13.1" stroke-linecap="round"/>
<line x1="848.8" y1="232.6" x2="1395.8" y2="232.6" stroke="#2d6fd6" stroke-width="2"/>
<line x1="848.8" y1="231.2" x2="1395.8" y2="231.2" stroke="#111" stroke-width="2.2"/>
<circle cx="1028.1" cy="77.7" r="5" fill="#fff" stroke="#e5454f" stroke-width="1.3"/>
<circle cx="1028.1" cy="97.1" r="5" fill="#fff" stroke="#e5454f" stroke-width="1.3"/>
<circle cx="1037" cy="114.1" r="5" fill="#fff" stroke="#e5454f" stroke-width="1.3"/>
<circle cx="1030.1" cy="127.3" r="5" fill="#fff" stroke="#e5454f" stroke-width="1.3"/>
<circle cx="1028.4" cy="151.3" r="5" fill="#fff" stroke="#e5454f" stroke-width="1.3"/>
<circle cx="1037.4" cy="169" r="5" fill="#fff" stroke="#e5454f" stroke-width="1.3"/>
<circle cx="1049.9" cy="168.7" r="5" fill="#fff" stroke="#e5454f" stroke-width="1.3"/>
<circle cx="1049.9" cy="174.8" r="5" fill="#fff" stroke="#e5454f" stroke-width="1.3"/>
<circle cx="1030.4" cy="178.1" r="5" fill="#fff" stroke="#e5454f" stroke-width="1.3"/>
<circle cx="1007.3" cy="177.3" r="5" fill="#fff" stroke="#e5454f" stroke-width="1.3"/>
<circle cx="1012.6" cy="179.7" r="5" fill="#fff" stroke="#e5454f" stroke-width="1.3"/>
<circle cx="956.8" cy="185.2" r="5" fill="#fff" stroke="#e5454f" stroke-width="1.3"/>
<circle cx="975.2" cy="184.2" r="5" fill="#fff" stroke="#e5454f" stroke-width="1.3"/>
<circle cx="995.2" cy="190.2" r="5" fill="#fff" stroke="#e5454f" stroke-width="1.3"/>
<circle cx="1019.3" cy="186.4" r="5" fill="#fff" stroke="#e5454f" stroke-width="1.3"/>
<circle cx="1025.9" cy="188.5" r="5" fill="#fff" stroke="#e5454f" stroke-width="1.3"/>
<circle cx="1014.7" cy="192.1" r="5" fill="#fff" stroke="#e5454f" stroke-width="1.3"/>
<circle cx="1017.2" cy="200.4" r="5" fill="#fff" stroke="#e5454f" stroke-width="1.3"/>
<circle cx="1019.7" cy="203.7" r="5" fill="#fff" stroke="#e5454f" stroke-width="1.3"/>
<circle cx="1026.8" cy="201.2" r="5" fill="#fff" stroke="#e5454f" stroke-width="1.3"/>
<circle cx="1052.7" cy="204.9" r="5" fill="#fff" stroke="#e5454f" stroke-width="1.3"/>
<circle cx="1060.2" cy="185.5" r="5" fill="#fff" stroke="#e5454f" stroke-width="1.3"/>
<circle cx="1058.5" cy="195.4" r="5" fill="#fff" stroke="#e5454f" stroke-width="1.3"/>
<circle cx="1034.2" cy="212" r="5" fill="#fff" stroke="#e5454f" stroke-width="1.3"/>
<circle cx="1037" cy="217.3" r="5" fill="#fff" stroke="#e5454f" stroke-width="1.3"/>
<circle cx="1032.9" cy="218.6" r="5" fill="#fff" stroke="#e5454f" stroke-width="1.3"/>
<circle cx="972.5" cy="222.2" r="5" fill="#fff" stroke="#e5454f" stroke-width="1.3"/>
<circle cx="1004.4" cy="219.1" r="5" fill="#fff" stroke="#e5454f" stroke-width="1.3"/>
<circle cx="998.7" cy="226.5" r="5" fill="#fff" stroke="#e5454f" stroke-width="1.3"/>
<circle cx="1008.1" cy="228.5" r="5" fill="#fff" stroke="#e5454f" stroke-width="1.3"/>
<circle cx="1032.9" cy="228" r="5" fill="#fff" stroke="#e5454f" stroke-width="1.3"/>
<circle cx="1043.6" cy="229.3" r="5" fill="#fff" stroke="#e5454f" stroke-width="1.3"/>
<circle cx="1054.9" cy="226.9" r="5" fill="#fff" stroke="#e5454f" stroke-width="1.3"/>
<circle cx="1060.2" cy="220.3" r="5" fill="#fff" stroke="#e5454f" stroke-width="1.3"/>
<circle cx="1138.5" cy="52.4" r="5" fill="#fff" stroke="#e5454f" stroke-width="1.3"/>
<circle cx="1120" cy="119" r="5" fill="#fff" stroke="#e5454f" stroke-width="1.3"/>
<circle cx="1138.5" cy="117.4" r="5" fill="#fff" stroke="#e5454f" stroke-width="1.3"/>
<circle cx="1114" cy="143.4" r="5" fill="#fff" stroke="#e5454f" stroke-width="1.3"/>
<circle cx="1134" cy="145.8" r="5" fill="#fff" stroke="#e5454f" stroke-width="1.3"/>
<circle cx="1134" cy="148.3" r="5" fill="#fff" stroke="#e5454f" stroke-width="1.3"/>
<circle cx="1145.1" cy="141.7" r="5" fill="#fff" stroke="#e5454f" stroke-width="1.3"/>
<circle cx="1150.9" cy="144.2" r="5" fill="#fff" stroke="#e5454f" stroke-width="1.3"/>
<circle cx="1146.8" cy="148.3" r="5" fill="#fff" stroke="#e5454f" stroke-width="1.3"/>
<circle cx="1189.3" cy="141.7" r="5" fill="#fff" stroke="#e5454f" stroke-width="1.3"/>
<circle cx="1193.1" cy="139.7" r="5" fill="#fff" stroke="#e5454f" stroke-width="1.3"/>
<circle cx="1214.1" cy="134.3" r="5" fill="#fff" stroke="#e5454f" stroke-width="1.3"/>
<circle cx="1167.5" cy="157.7" r="5" fill="#fff" stroke="#e5454f" stroke-width="1.3"/>
<circle cx="1223.7" cy="162.7" r="5" fill="#fff" stroke="#e5454f" stroke-width="1.3"/>
<circle cx="1135.2" cy="163.7" r="5" fill="#fff" stroke="#e5454f" stroke-width="1.3"/>
<circle cx="1137.2" cy="163.2" r="5" fill="#fff" stroke="#e5454f" stroke-width="1.3"/>
<circle cx="1156.4" cy="169.5" r="5" fill="#fff" stroke="#e5454f" stroke-width="1.3"/>
<circle cx="1103.3" cy="171.5" r="5" fill="#fff" stroke="#e5454f" stroke-width="1.3"/>
<circle cx="1104.3" cy="172.3" r="5" fill="#fff" stroke="#e5454f" stroke-width="1.3"/>
<circle cx="1120.8" cy="178.1" r="5" fill="#fff" stroke="#e5454f" stroke-width="1.3"/>
<circle cx="1136" cy="179.9" r="5" fill="#fff" stroke="#e5454f" stroke-width="1.3"/>
<circle cx="1168.8" cy="179.7" r="5" fill="#fff" stroke="#e5454f" stroke-width="1.3"/>
<circle cx="1217.6" cy="180.6" r="5" fill="#fff" stroke="#e5454f" stroke-width="1.3"/>
<circle cx="1077.3" cy="181.9" r="5" fill="#fff" stroke="#e5454f" stroke-width="1.3"/>
<circle cx="1062.9" cy="185.2" r="5" fill="#fff" stroke="#e5454f" stroke-width="1.3"/>
<circle cx="1101.8" cy="185.5" r="5" fill="#fff" stroke="#e5454f" stroke-width="1.3"/>
<circle cx="1125" cy="187.2" r="5" fill="#fff" stroke="#e5454f" stroke-width="1.3"/>
<circle cx="1086.9" cy="190.5" r="5" fill="#fff" stroke="#e5454f" stroke-width="1.3"/>
<circle cx="1090.2" cy="194.3" r="5" fill="#fff" stroke="#e5454f" stroke-width="1.3"/>
<circle cx="1062.4" cy="194.6" r="5" fill="#fff" stroke="#e5454f" stroke-width="1.3"/>
<circle cx="1065.7" cy="197.9" r="5" fill="#fff" stroke="#e5454f" stroke-width="1.3"/>
<circle cx="1074" cy="198.8" r="5" fill="#fff" stroke="#e5454f" stroke-width="1.3"/>
<circle cx="1199.9" cy="188" r="5" fill="#fff" stroke="#e5454f" stroke-width="1.3"/>
<circle cx="1197.2" cy="196.4" r="5" fill="#fff" stroke="#e5454f" stroke-width="1.3"/>
<circle cx="1204.7" cy="198.3" r="5" fill="#fff" stroke="#e5454f" stroke-width="1.3"/>
<circle cx="1206.8" cy="203.7" r="5" fill="#fff" stroke="#e5454f" stroke-width="1.3"/>
<circle cx="1150.3" cy="196.3" r="5" fill="#fff" stroke="#e5454f" stroke-width="1.3"/>
<circle cx="1117.5" cy="193.8" r="5" fill="#fff" stroke="#e5454f" stroke-width="1.3"/>
<circle cx="1112.1" cy="200.1" r="5" fill="#fff" stroke="#e5454f" stroke-width="1.3"/>
<circle cx="1119.5" cy="201.7" r="5" fill="#fff" stroke="#e5454f" stroke-width="1.3"/>
<circle cx="1098.8" cy="204.5" r="5" fill="#fff" stroke="#e5454f" stroke-width="1.3"/>
<circle cx="1095.8" cy="205" r="5" fill="#fff" stroke="#e5454f" stroke-width="1.3"/>
<circle cx="1118.7" cy="210.7" r="5" fill="#fff" stroke="#e5454f" stroke-width="1.3"/>
<circle cx="1136.4" cy="211.7" r="5" fill="#fff" stroke="#e5454f" stroke-width="1.3"/>
<circle cx="1145.1" cy="207.9" r="5" fill="#fff" stroke="#e5454f" stroke-width="1.3"/>
<circle cx="1147.6" cy="211.2" r="5" fill="#fff" stroke="#e5454f" stroke-width="1.3"/>
<circle cx="1159.2" cy="216.1" r="5" fill="#fff" stroke="#e5454f" stroke-width="1.3"/>
<circle cx="1154.2" cy="220.3" r="5" fill="#fff" stroke="#e5454f" stroke-width="1.3"/>
<circle cx="1126.9" cy="216.1" r="5" fill="#fff" stroke="#e5454f" stroke-width="1.3"/>
<circle cx="1128.6" cy="222.7" r="5" fill="#fff" stroke="#e5454f" stroke-width="1.3"/>
<circle cx="1064.1" cy="212.5" r="5" fill="#fff" stroke="#e5454f" stroke-width="1.3"/>
<circle cx="1073.2" cy="215.3" r="5" fill="#fff" stroke="#e5454f" stroke-width="1.3"/>
<circle cx="1081.1" cy="215.3" r="5" fill="#fff" stroke="#e5454f" stroke-width="1.3"/>
<circle cx="1083.9" cy="219.4" r="5" fill="#fff" stroke="#e5454f" stroke-width="1.3"/>
<circle cx="1061.6" cy="220.3" r="5" fill="#fff" stroke="#e5454f" stroke-width="1.3"/>
<circle cx="1182.3" cy="223.2" r="5" fill="#fff" stroke="#e5454f" stroke-width="1.3"/>
<circle cx="1193.1" cy="218.6" r="5" fill="#fff" stroke="#e5454f" stroke-width="1.3"/>
<circle cx="1194.4" cy="226" r="5" fill="#fff" stroke="#e5454f" stroke-width="1.3"/>
<circle cx="1207.1" cy="223.2" r="5" fill="#fff" stroke="#e5454f" stroke-width="1.3"/>
<circle cx="1157.5" cy="226.9" r="5" fill="#fff" stroke="#e5454f" stroke-width="1.3"/>
<circle cx="1098.8" cy="228.5" r="5" fill="#fff" stroke="#e5454f" stroke-width="1.3"/>
<circle cx="1057.5" cy="228.5" r="5" fill="#fff" stroke="#e5454f" stroke-width="1.3"/>
<circle cx="1262.1" cy="212.3" r="5" fill="#fff" stroke="#e5454f" stroke-width="1.3"/>
<circle cx="1314.5" cy="220.6" r="5" fill="#fff" stroke="#e5454f" stroke-width="1.3"/>
<circle cx="992.4" cy="239.1" r="5" fill="#fff" stroke="#e5454f" stroke-width="1.3"/>
<circle cx="1017.2" cy="234.6" r="5" fill="#fff" stroke="#e5454f" stroke-width="1.3"/>
<circle cx="1030.7" cy="237.9" r="5" fill="#fff" stroke="#e5454f" stroke-width="1.3"/>
<circle cx="1045.3" cy="239.1" r="5" fill="#fff" stroke="#e5454f" stroke-width="1.3"/>
<circle cx="1044.5" cy="241.2" r="5" fill="#fff" stroke="#e5454f" stroke-width="1.3"/>
<circle cx="1056" cy="244" r="5" fill="#fff" stroke="#e5454f" stroke-width="1.3"/>
<circle cx="1057.7" cy="248.2" r="5" fill="#fff" stroke="#e5454f" stroke-width="1.3"/>
<circle cx="1020.2" cy="245.7" r="5" fill="#fff" stroke="#e5454f" stroke-width="1.3"/>
<circle cx="931.2" cy="252.3" r="5" fill="#fff" stroke="#e5454f" stroke-width="1.3"/>
<circle cx="984.6" cy="255.6" r="5" fill="#fff" stroke="#e5454f" stroke-width="1.3"/>
<circle cx="1010.2" cy="260.6" r="5" fill="#fff" stroke="#e5454f" stroke-width="1.3"/>
<circle cx="1002" cy="264.4" r="5" fill="#fff" stroke="#e5454f" stroke-width="1.3"/>
<circle cx="1024.3" cy="258.1" r="5" fill="#fff" stroke="#e5454f" stroke-width="1.3"/>
<circle cx="1038.3" cy="255.3" r="5" fill="#fff" stroke="#e5454f" stroke-width="1.3"/>
<circle cx="1046.6" cy="251.5" r="5" fill="#fff" stroke="#e5454f" stroke-width="1.3"/>
<circle cx="976.7" cy="269.3" r="5" fill="#fff" stroke="#e5454f" stroke-width="1.3"/>
<circle cx="968.9" cy="282.4" r="5" fill="#fff" stroke="#e5454f" stroke-width="1.3"/>
<circle cx="1056.9" cy="276.8" r="5" fill="#fff" stroke="#e5454f" stroke-width="1.3"/>
<circle cx="1059.8" cy="260.6" r="5" fill="#fff" stroke="#e5454f" stroke-width="1.3"/>
<circle cx="1032.4" cy="295" r="5" fill="#fff" stroke="#e5454f" stroke-width="1.3"/>
<circle cx="1044.5" cy="292.8" r="5" fill="#fff" stroke="#e5454f" stroke-width="1.3"/>
<circle cx="1045" cy="294.5" r="5" fill="#fff" stroke="#e5454f" stroke-width="1.3"/>
<circle cx="1020.8" cy="304" r="5" fill="#fff" stroke="#e5454f" stroke-width="1.3"/>
<circle cx="994" cy="316" r="5" fill="#fff" stroke="#e5454f" stroke-width="1.3"/>
<circle cx="1023" cy="320.1" r="5" fill="#fff" stroke="#e5454f" stroke-width="1.3"/>
<circle cx="1051.1" cy="322.2" r="5" fill="#fff" stroke="#e5454f" stroke-width="1.3"/>
<circle cx="1056" cy="318.4" r="5" fill="#fff" stroke="#e5454f" stroke-width="1.3"/>
<circle cx="1027.9" cy="334.6" r="5" fill="#fff" stroke="#e5454f" stroke-width="1.3"/>
<circle cx="1030.1" cy="335.5" r="5" fill="#fff" stroke="#e5454f" stroke-width="1.3"/>
<circle cx="1000.6" cy="338" r="5" fill="#fff" stroke="#e5454f" stroke-width="1.3"/>
<circle cx="1038.7" cy="343.7" r="5" fill="#fff" stroke="#e5454f" stroke-width="1.3"/>
<circle cx="1035.9" cy="363.9" r="5" fill="#fff" stroke="#e5454f" stroke-width="1.3"/>
<circle cx="995.4" cy="397.3" r="5" fill="#fff" stroke="#e5454f" stroke-width="1.3"/>
<circle cx="1052.5" cy="406.6" r="5" fill="#fff" stroke="#e5454f" stroke-width="1.3"/>
<circle cx="1072.4" cy="234.1" r="5" fill="#fff" stroke="#e5454f" stroke-width="1.3"/>
<circle cx="1073.2" cy="237.4" r="5" fill="#fff" stroke="#e5454f" stroke-width="1.3"/>
<circle cx="1090.6" cy="238.2" r="5" fill="#fff" stroke="#e5454f" stroke-width="1.3"/>
<circle cx="1088.1" cy="241.5" r="5" fill="#fff" stroke="#e5454f" stroke-width="1.3"/>
<circle cx="1081.5" cy="244.8" r="5" fill="#fff" stroke="#e5454f" stroke-width="1.3"/>
<circle cx="1113.7" cy="245.2" r="5" fill="#fff" stroke="#e5454f" stroke-width="1.3"/>
<circle cx="1131.9" cy="232.9" r="5" fill="#fff" stroke="#e5454f" stroke-width="1.3"/>
<circle cx="1131.9" cy="242.4" r="5" fill="#fff" stroke="#e5454f" stroke-width="1.3"/>
<circle cx="1131.4" cy="246.5" r="5" fill="#fff" stroke="#e5454f" stroke-width="1.3"/>
<circle cx="1144.3" cy="240.2" r="5" fill="#fff" stroke="#e5454f" stroke-width="1.3"/>
<circle cx="1141.3" cy="249.5" r="5" fill="#fff" stroke="#e5454f" stroke-width="1.3"/>
<circle cx="1147.6" cy="255.6" r="5" fill="#fff" stroke="#e5454f" stroke-width="1.3"/>
<circle cx="1186.5" cy="241.9" r="5" fill="#fff" stroke="#e5454f" stroke-width="1.3"/>
<circle cx="1201.4" cy="236.6" r="5" fill="#fff" stroke="#e5454f" stroke-width="1.3"/>
<circle cx="1244.3" cy="242.9" r="5" fill="#fff" stroke="#e5454f" stroke-width="1.3"/>
<circle cx="1064.4" cy="260.6" r="5" fill="#fff" stroke="#e5454f" stroke-width="1.3"/>
<circle cx="1087.6" cy="256.9" r="5" fill="#fff" stroke="#e5454f" stroke-width="1.3"/>
<circle cx="1094.7" cy="253.1" r="5" fill="#fff" stroke="#e5454f" stroke-width="1.3"/>
<circle cx="1094.7" cy="264.7" r="5" fill="#fff" stroke="#e5454f" stroke-width="1.3"/>
<circle cx="1094.7" cy="268.8" r="5" fill="#fff" stroke="#e5454f" stroke-width="1.3"/>
<circle cx="1117.8" cy="258.9" r="5" fill="#fff" stroke="#e5454f" stroke-width="1.3"/>
<circle cx="1122" cy="256.9" r="5" fill="#fff" stroke="#e5454f" stroke-width="1.3"/>
<circle cx="1120.7" cy="268.3" r="5" fill="#fff" stroke="#e5454f" stroke-width="1.3"/>
<circle cx="1129.4" cy="263.5" r="5" fill="#fff" stroke="#e5454f" stroke-width="1.3"/>
<circle cx="1161.3" cy="267.2" r="5" fill="#fff" stroke="#e5454f" stroke-width="1.3"/>
<circle cx="1201.8" cy="275.4" r="5" fill="#fff" stroke="#e5454f" stroke-width="1.3"/>
<circle cx="1067.9" cy="277.6" r="5" fill="#fff" stroke="#e5454f" stroke-width="1.3"/>
<circle cx="1072.7" cy="277.1" r="5" fill="#fff" stroke="#e5454f" stroke-width="1.3"/>
<circle cx="1081" cy="271.8" r="5" fill="#fff" stroke="#e5454f" stroke-width="1.3"/>
<circle cx="1085.6" cy="281.2" r="5" fill="#fff" stroke="#e5454f" stroke-width="1.3"/>
<circle cx="1093.9" cy="278.7" r="5" fill="#fff" stroke="#e5454f" stroke-width="1.3"/>
<circle cx="1082.3" cy="284.5" r="5" fill="#fff" stroke="#e5454f" stroke-width="1.3"/>
<circle cx="1157.5" cy="284.5" r="5" fill="#fff" stroke="#e5454f" stroke-width="1.3"/>
<circle cx="1160.8" cy="285.4" r="5" fill="#fff" stroke="#e5454f" stroke-width="1.3"/>
<circle cx="1072.9" cy="295" r="5" fill="#fff" stroke="#e5454f" stroke-width="1.3"/>
<circle cx="1081.5" cy="292.5" r="5" fill="#fff" stroke="#e5454f" stroke-width="1.3"/>
<circle cx="1099.7" cy="296.9" r="5" fill="#fff" stroke="#e5454f" stroke-width="1.3"/>
<circle cx="1097.2" cy="303.6" r="5" fill="#fff" stroke="#e5454f" stroke-width="1.3"/>
<circle cx="1068.2" cy="303.6" r="5" fill="#fff" stroke="#e5454f" stroke-width="1.3"/>
<circle cx="1075.2" cy="303.6" r="5" fill="#fff" stroke="#e5454f" stroke-width="1.3"/>
<circle cx="1064.1" cy="310.7" r="5" fill="#fff" stroke="#e5454f" stroke-width="1.3"/>
<circle cx="1061.3" cy="320.6" r="5" fill="#fff" stroke="#e5454f" stroke-width="1.3"/>
<circle cx="1085.6" cy="315.1" r="5" fill="#fff" stroke="#e5454f" stroke-width="1.3"/>
<circle cx="1136.5" cy="305.2" r="5" fill="#fff" stroke="#e5454f" stroke-width="1.3"/>
<circle cx="1193.9" cy="307.4" r="5" fill="#fff" stroke="#e5454f" stroke-width="1.3"/>
<circle cx="1151.4" cy="328.7" r="5" fill="#fff" stroke="#e5454f" stroke-width="1.3"/>
<circle cx="1229" cy="328.4" r="5" fill="#fff" stroke="#e5454f" stroke-width="1.3"/>
<circle cx="1119.5" cy="336.3" r="5" fill="#fff" stroke="#e5454f" stroke-width="1.3"/>
<circle cx="1097.2" cy="342.1" r="5" fill="#fff" stroke="#e5454f" stroke-width="1.3"/>
<circle cx="1110.9" cy="348.7" r="5" fill="#fff" stroke="#e5454f" stroke-width="1.3"/>
<circle cx="1127.3" cy="357" r="5" fill="#fff" stroke="#e5454f" stroke-width="1.3"/>
<circle cx="1208.8" cy="376.8" r="5" fill="#fff" stroke="#e5454f" stroke-width="1.3"/>
<circle cx="1247.2" cy="241.2" r="5" fill="#fff" stroke="#e5454f" stroke-width="1.3"/>
<circle cx="1245.6" cy="243.2" r="5" fill="#fff" stroke="#e5454f" stroke-width="1.3"/>
<circle cx="1250.2" cy="273" r="5" fill="#fff" stroke="#e5454f" stroke-width="1.3"/>
<circle cx="1260.1" cy="283.2" r="5" fill="#fff" stroke="#e5454f" stroke-width="1.3"/>
<circle cx="1280.8" cy="373.8" r="5" fill="#fff" stroke="#e5454f" stroke-width="1.3"/>
<path d="M848.8 10.0V452.0H1395.8" fill="none" stroke="#111" stroke-width="2"/>
<line x1="839.8" y1="452.24" x2="848.8" y2="452.24" stroke="#111" stroke-width="2"/>
<text x="834.5" y="458.64" font-size="18.8" text-anchor="end" font-family="'Liberation Serif','Times New Roman',serif">-12</text>
<line x1="844.3" y1="433.82" x2="848.8" y2="433.82" stroke="#111" stroke-width="2"/>
<line x1="839.8" y1="415.4" x2="848.8" y2="415.4" stroke="#111" stroke-width="2"/>
<text x="834.5" y="421.8" font-size="18.8" text-anchor="end" font-family="'Liberation Serif','Times New Roman',serif">-10</text>
<line x1="844.3" y1="396.98" x2="848.8" y2="396.98" stroke="#111" stroke-width="2"/>
<line x1="839.8" y1="378.56" x2="848.8" y2="378.56" stroke="#111" stroke-width="2"/>
<text x="834.5" y="384.96" font-size="18.8" text-anchor="end" font-family="'Liberation Serif','Times New Roman',serif">-8</text>
<line x1="844.3" y1="360.14" x2="848.8" y2="360.14" stroke="#111" stroke-width="2"/>
<line x1="839.8" y1="341.72" x2="848.8" y2="341.72" stroke="#111" stroke-width="2"/>
<text x="834.5" y="348.12" font-size="18.8" text-anchor="end" font-family="'Liberation Serif','Times New Roman',serif">-6</text>
<line x1="844.3" y1="323.3" x2="848.8" y2="323.3" stroke="#111" stroke-width="2"/>
<line x1="839.8" y1="304.88" x2="848.8" y2="304.88" stroke="#111" stroke-width="2"/>
<text x="834.5" y="311.28" font-size="18.8" text-anchor="end" font-family="'Liberation Serif','Times New Roman',serif">-4</text>
<line x1="844.3" y1="286.46" x2="848.8" y2="286.46" stroke="#111" stroke-width="2"/>
<line x1="839.8" y1="268.04" x2="848.8" y2="268.04" stroke="#111" stroke-width="2"/>
<text x="834.5" y="274.44" font-size="18.8" text-anchor="end" font-family="'Liberation Serif','Times New Roman',serif">-2</text>
<line x1="844.3" y1="249.62" x2="848.8" y2="249.62" stroke="#111" stroke-width="2"/>
<line x1="839.8" y1="231.2" x2="848.8" y2="231.2" stroke="#111" stroke-width="2"/>
<text x="834.5" y="237.6" font-size="18.8" text-anchor="end" font-family="'Liberation Serif','Times New Roman',serif">0</text>
<line x1="844.3" y1="212.78" x2="848.8" y2="212.78" stroke="#111" stroke-width="2"/>
<line x1="839.8" y1="194.36" x2="848.8" y2="194.36" stroke="#111" stroke-width="2"/>
<text x="834.5" y="200.76" font-size="18.8" text-anchor="end" font-family="'Liberation Serif','Times New Roman',serif">2</text>
<line x1="844.3" y1="175.94" x2="848.8" y2="175.94" stroke="#111" stroke-width="2"/>
<line x1="839.8" y1="157.52" x2="848.8" y2="157.52" stroke="#111" stroke-width="2"/>
<text x="834.5" y="163.92" font-size="18.8" text-anchor="end" font-family="'Liberation Serif','Times New Roman',serif">4</text>
<line x1="844.3" y1="139.1" x2="848.8" y2="139.1" stroke="#111" stroke-width="2"/>
<line x1="839.8" y1="120.68" x2="848.8" y2="120.68" stroke="#111" stroke-width="2"/>
<text x="834.5" y="127.08" font-size="18.8" text-anchor="end" font-family="'Liberation Serif','Times New Roman',serif">6</text>
<line x1="844.3" y1="102.26" x2="848.8" y2="102.26" stroke="#111" stroke-width="2"/>
<line x1="839.8" y1="83.84" x2="848.8" y2="83.84" stroke="#111" stroke-width="2"/>
<text x="834.5" y="90.24" font-size="18.8" text-anchor="end" font-family="'Liberation Serif','Times New Roman',serif">8</text>
<line x1="844.3" y1="65.42" x2="848.8" y2="65.42" stroke="#111" stroke-width="2"/>
<line x1="839.8" y1="47" x2="848.8" y2="47" stroke="#111" stroke-width="2"/>
<text x="834.5" y="53.4" font-size="18.8" text-anchor="end" font-family="'Liberation Serif','Times New Roman',serif">10</text>
<line x1="844.3" y1="28.58" x2="848.8" y2="28.58" stroke="#111" stroke-width="2"/>
<line x1="839.8" y1="10.16" x2="848.8" y2="10.16" stroke="#111" stroke-width="2"/>
<text x="834.5" y="16.56" font-size="18.8" text-anchor="end" font-family="'Liberation Serif','Times New Roman',serif">12</text>
<line x1="848.8" y1="452.0" x2="848.8" y2="456" stroke="#111" stroke-width="2"/>
<line x1="903.5" y1="452.0" x2="903.5" y2="460.5" stroke="#111" stroke-width="2"/>
<text x="903.5" y="480.8" font-size="18.8" text-anchor="middle" font-family="'Liberation Serif','Times New Roman',serif">-40</text>
<line x1="958.2" y1="452.0" x2="958.2" y2="456" stroke="#111" stroke-width="2"/>
<line x1="1012.9" y1="452.0" x2="1012.9" y2="460.5" stroke="#111" stroke-width="2"/>
<text x="1012.9" y="480.8" font-size="18.8" text-anchor="middle" font-family="'Liberation Serif','Times New Roman',serif">-20</text>
<line x1="1067.6" y1="452.0" x2="1067.6" y2="456" stroke="#111" stroke-width="2"/>
<line x1="1122.3" y1="452.0" x2="1122.3" y2="460.5" stroke="#111" stroke-width="2"/>
<text x="1122.3" y="480.8" font-size="18.8" text-anchor="middle" font-family="'Liberation Serif','Times New Roman',serif">0</text>
<line x1="1177" y1="452.0" x2="1177" y2="456" stroke="#111" stroke-width="2"/>
<line x1="1231.7" y1="452.0" x2="1231.7" y2="460.5" stroke="#111" stroke-width="2"/>
<text x="1231.7" y="480.8" font-size="18.8" text-anchor="middle" font-family="'Liberation Serif','Times New Roman',serif">20</text>
<line x1="1286.4" y1="452.0" x2="1286.4" y2="456" stroke="#111" stroke-width="2"/>
<line x1="1341.1" y1="452.0" x2="1341.1" y2="460.5" stroke="#111" stroke-width="2"/>
<text x="1341.1" y="480.8" font-size="18.8" text-anchor="middle" font-family="'Liberation Serif','Times New Roman',serif">40</text>
<line x1="1395.8" y1="452.0" x2="1395.8" y2="456" stroke="#111" stroke-width="2"/>
<text x="1138" y="517.2" font-size="23" text-anchor="middle" font-family="'Liberation Serif','Times New Roman',serif">Average (°)</text>
<text transform="translate(798.5 229.6) rotate(-90)" font-size="26.5" text-anchor="middle" font-family="'Liberation Serif','Times New Roman',serif">Difference (°)</text>
<text x="1396" y="110.8" font-size="16.5" font-family="'Liberation Serif','Times New Roman',serif">+1.96 SD</text>
<text x="1396" y="131" font-size="16.5" font-family="'Liberation Serif','Times New Roman',serif">6.31532</text>
<text x="1396" y="236.2" font-size="16.5" font-family="'Liberation Serif','Times New Roman',serif">0</text>
<text x="1409" y="228.4" font-size="16.5" font-family="'Liberation Serif','Times New Roman',serif">Mean</text>
<text x="1409" y="248.5" font-size="16.5" font-family="'Liberation Serif','Times New Roman',serif">-0.0875</text>
<text x="1396" y="346" font-size="16.5" font-family="'Liberation Serif','Times New Roman',serif">-1.96 SD</text>
<text x="1396" y="366" font-size="16.5" font-family="'Liberation Serif','Times New Roman',serif">-6.49032</text>
<text x="788" y="32" font-size="56" font-weight="bold" font-family="'Liberation Serif','Times New Roman',serif">c</text>
<rect x="908.3" y="649.2" width="68.05" height="381.8" fill="none" stroke="#c9eedb" stroke-width="1.6"/>
<rect x="976.35" y="649.2" width="68.05" height="381.8" fill="none" stroke="#c9eedb" stroke-width="1.6"/>
<rect x="1044.4" y="743.12" width="68.05" height="287.88" fill="none" stroke="#c9eedb" stroke-width="1.6"/>
<rect x="1112.45" y="649.2" width="68.05" height="381.8" fill="none" stroke="#c9eedb" stroke-width="1.6"/>
<rect x="1180.5" y="649.2" width="68.05" height="381.8" fill="none" stroke="#c9eedb" stroke-width="1.6"/>
<rect x="1248.55" y="649.2" width="68.05" height="381.8" fill="none" stroke="#c9eedb" stroke-width="1.6"/>
<rect x="1316.6" y="649.2" width="68.05" height="381.8" fill="none" stroke="#c9eedb" stroke-width="1.6"/>
<rect x="1384.65" y="649.2" width="68.05" height="381.8" fill="none" stroke="#c9eedb" stroke-width="1.6"/>
<line x1="1092.04" y1="743.12" x2="1092.04" y2="1031.0" stroke="#e6f9dc" stroke-width="3.3"/>
<line x1="1092.04" y1="619.2" x2="1092.04" y2="743.12" stroke="#aeea86" stroke-width="4"/>
<text x="942.33" y="681" font-size="18" text-anchor="middle" font-family="'Liberation Serif','Times New Roman',serif">100%</text>
<text x="1010.38" y="681" font-size="18" text-anchor="middle" font-family="'Liberation Serif','Times New Roman',serif">100%</text>
<text x="1078.5" y="696.2" font-size="18" text-anchor="middle" font-family="'Liberation Serif','Times New Roman',serif">75.4%</text>
<text x="1146.47" y="681" font-size="18" text-anchor="middle" font-family="'Liberation Serif','Times New Roman',serif">100%</text>
<text x="1214.53" y="681" font-size="18" text-anchor="middle" font-family="'Liberation Serif','Times New Roman',serif">100%</text>
<text x="1282.57" y="681" font-size="18" text-anchor="middle" font-family="'Liberation Serif','Times New Roman',serif">100%</text>
<text x="1350.62" y="681" font-size="18" text-anchor="middle" font-family="'Liberation Serif','Times New Roman',serif">100%</text>
<text x="1418.68" y="681" font-size="18" text-anchor="middle" font-family="'Liberation Serif','Times New Roman',serif">100%</text>
<circle cx="992.1" cy="686" r="3.1" fill="#6b9bd2"/>
<circle cx="1009.1" cy="797.1" r="3.1" fill="#6b9bd2"/>
<circle cx="1043.8" cy="801.7" r="3.1" fill="#6b9bd2"/>
<circle cx="1046.3" cy="801.2" r="3.1" fill="#6b9bd2"/>
<circle cx="1088.5" cy="745.8" r="3.1" fill="#6b9bd2"/>
<circle cx="1085.5" cy="802.5" r="3.1" fill="#6b9bd2"/>
<circle cx="1163.9" cy="761.9" r="3.1" fill="#6b9bd2"/>
<circle cx="1144.4" cy="777.1" r="3.1" fill="#6b9bd2"/>
<circle cx="1129" cy="789.1" r="3.1" fill="#6b9bd2"/>
<circle cx="1157.6" cy="799.9" r="3.1" fill="#6b9bd2"/>
<circle cx="1040.5" cy="829.3" r="3.1" fill="#6b9bd2"/>
<circle cx="1234.6" cy="663.6" r="3.1" fill="#6b9bd2"/>
<circle cx="1261.5" cy="724" r="3.1" fill="#6b9bd2"/>
<circle cx="1351.5" cy="729.8" r="3.1" fill="#6b9bd2"/>
<circle cx="1199" cy="786.8" r="3.1" fill="#6b9bd2"/>
<circle cx="1222.2" cy="785" r="3.1" fill="#6b9bd2"/>
<circle cx="1199" cy="814" r="3.1" fill="#6b9bd2"/>
<circle cx="1295.7" cy="814.4" r="3.1" fill="#6b9bd2"/>
<circle cx="1312.8" cy="816.4" r="3.1" fill="#6b9bd2"/>
<circle cx="1285.8" cy="826.5" r="3.1" fill="#6b9bd2"/>
<circle cx="1281.2" cy="829.3" r="3.1" fill="#6b9bd2"/>
<circle cx="1225.8" cy="829.3" r="3.1" fill="#6b9bd2"/>
<circle cx="1005.2" cy="837.5" r="3.1" fill="#6b9bd2"/>
<circle cx="1078.9" cy="847.6" r="3.1" fill="#6b9bd2"/>
<circle cx="1041.1" cy="859.9" r="3.1" fill="#6b9bd2"/>
<circle cx="1057.1" cy="877.4" r="3.1" fill="#6b9bd2"/>
<circle cx="1086.2" cy="881.5" r="3.1" fill="#6b9bd2"/>
<circle cx="1047.7" cy="896.1" r="3.1" fill="#6b9bd2"/>
<circle cx="1053.8" cy="900.7" r="3.1" fill="#6b9bd2"/>
<circle cx="1076.8" cy="897.7" r="3.1" fill="#6b9bd2"/>
<circle cx="980.5" cy="901" r="3.1" fill="#6b9bd2"/>
<circle cx="983.2" cy="910.6" r="3.1" fill="#6b9bd2"/>
<circle cx="1006.5" cy="908.8" r="3.1" fill="#6b9bd2"/>
<circle cx="1060.4" cy="912.1" r="3.1" fill="#6b9bd2"/>
<circle cx="1068.3" cy="916.7" r="3.1" fill="#6b9bd2"/>
<circle cx="1030.3" cy="919.9" r="3.1" fill="#6b9bd2"/>
<circle cx="992.1" cy="925.7" r="3.1" fill="#6b9bd2"/>
<circle cx="1054.3" cy="924.5" r="3.1" fill="#6b9bd2"/>
<circle cx="1025.4" cy="934.3" r="3.1" fill="#6b9bd2"/>
<circle cx="1035.3" cy="941.2" r="3.1" fill="#6b9bd2"/>
<circle cx="1055.9" cy="939.6" r="3.1" fill="#6b9bd2"/>
<circle cx="1057.9" cy="945.4" r="3.1" fill="#6b9bd2"/>
<circle cx="1053.8" cy="946.5" r="3.1" fill="#6b9bd2"/>
<circle cx="1067.5" cy="941.2" r="3.1" fill="#6b9bd2"/>
<circle cx="1005.2" cy="950.5" r="3.1" fill="#6b9bd2"/>
<circle cx="1072" cy="951.5" r="3.1" fill="#6b9bd2"/>
<circle cx="939.4" cy="957.3" r="3.1" fill="#6b9bd2"/>
<circle cx="1074.5" cy="960.7" r="3.1" fill="#6b9bd2"/>
<circle cx="1083.1" cy="958.7" r="3.1" fill="#6b9bd2"/>
<circle cx="1051.1" cy="968.7" r="3.1" fill="#6b9bd2"/>
<circle cx="1036.3" cy="975" r="3.1" fill="#6b9bd2"/>
<circle cx="1073.3" cy="973" r="3.1" fill="#6b9bd2"/>
<circle cx="1077.8" cy="971" r="3.1" fill="#6b9bd2"/>
<circle cx="995.9" cy="980.2" r="3.1" fill="#6b9bd2"/>
<circle cx="1017.7" cy="981.2" r="3.1" fill="#6b9bd2"/>
<circle cx="1083.1" cy="979.6" r="3.1" fill="#6b9bd2"/>
<circle cx="1083.9" cy="982.9" r="3.1" fill="#6b9bd2"/>
<circle cx="1065.9" cy="983.4" r="3.1" fill="#6b9bd2"/>
<circle cx="1028.2" cy="989" r="3.1" fill="#6b9bd2"/>
<circle cx="1036.4" cy="994.5" r="3.1" fill="#6b9bd2"/>
<circle cx="1039.7" cy="993.6" r="3.1" fill="#6b9bd2"/>
<circle cx="1049.3" cy="990.7" r="3.1" fill="#6b9bd2"/>
<circle cx="1070.2" cy="992.8" r="3.1" fill="#6b9bd2"/>
<circle cx="1082.6" cy="995.3" r="3.1" fill="#6b9bd2"/>
<circle cx="1119.6" cy="839.2" r="3.1" fill="#6b9bd2"/>
<circle cx="1094.4" cy="848.1" r="3.1" fill="#6b9bd2"/>
<circle cx="1100.2" cy="861.3" r="3.1" fill="#6b9bd2"/>
<circle cx="1108.2" cy="861.8" r="3.1" fill="#6b9bd2"/>
<circle cx="1136.3" cy="861.3" r="3.1" fill="#6b9bd2"/>
<circle cx="1140.6" cy="873.4" r="3.1" fill="#6b9bd2"/>
<circle cx="1107.7" cy="877.4" r="3.1" fill="#6b9bd2"/>
<circle cx="1118.6" cy="881.7" r="3.1" fill="#6b9bd2"/>
<circle cx="1122" cy="896.6" r="3.1" fill="#6b9bd2"/>
<circle cx="1125.7" cy="902.7" r="3.1" fill="#6b9bd2"/>
<circle cx="1130.5" cy="903.8" r="3.1" fill="#6b9bd2"/>
<circle cx="1133.8" cy="905.5" r="3.1" fill="#6b9bd2"/>
<circle cx="1136.8" cy="908" r="3.1" fill="#6b9bd2"/>
<circle cx="1104.8" cy="909.3" r="3.1" fill="#6b9bd2"/>
<circle cx="1110.6" cy="910.1" r="3.1" fill="#6b9bd2"/>
<circle cx="1115.6" cy="911" r="3.1" fill="#6b9bd2"/>
<circle cx="1114.8" cy="914.3" r="3.1" fill="#6b9bd2"/>
<circle cx="1122" cy="920.9" r="3.1" fill="#6b9bd2"/>
<circle cx="1144.2" cy="922.2" r="3.1" fill="#6b9bd2"/>
<circle cx="1140.1" cy="924.5" r="3.1" fill="#6b9bd2"/>
<circle cx="1147.5" cy="928.3" r="3.1" fill="#6b9bd2"/>
<circle cx="1108.2" cy="930.3" r="3.1" fill="#6b9bd2"/>
<circle cx="1113.1" cy="929.1" r="3.1" fill="#6b9bd2"/>
<circle cx="1116.4" cy="933.8" r="3.1" fill="#6b9bd2"/>
<circle cx="1140.7" cy="932.5" r="3.1" fill="#6b9bd2"/>
<circle cx="1137.9" cy="936.6" r="3.1" fill="#6b9bd2"/>
<circle cx="1127.2" cy="936.4" r="3.1" fill="#6b9bd2"/>
<circle cx="1103.2" cy="942" r="3.1" fill="#6b9bd2"/>
<circle cx="1132.6" cy="948.5" r="3.1" fill="#6b9bd2"/>
<circle cx="1142.5" cy="954.9" r="3.1" fill="#6b9bd2"/>
<circle cx="1156.9" cy="944.9" r="3.1" fill="#6b9bd2"/>
<circle cx="1152.8" cy="948.2" r="3.1" fill="#6b9bd2"/>
<circle cx="1156.4" cy="948.5" r="3.1" fill="#6b9bd2"/>
<circle cx="1097.6" cy="963.9" r="3.1" fill="#6b9bd2"/>
<circle cx="1112.5" cy="962.6" r="3.1" fill="#6b9bd2"/>
<circle cx="1093.6" cy="970.8" r="3.1" fill="#6b9bd2"/>
<circle cx="1123" cy="968" r="3.1" fill="#6b9bd2"/>
<circle cx="1128.3" cy="970.5" r="3.1" fill="#6b9bd2"/>
<circle cx="1132.6" cy="967.5" r="3.1" fill="#6b9bd2"/>
<circle cx="1134.6" cy="974.6" r="3.1" fill="#6b9bd2"/>
<circle cx="1136.6" cy="977.9" r="3.1" fill="#6b9bd2"/>
<circle cx="1107.2" cy="976.3" r="3.1" fill="#6b9bd2"/>
<circle cx="1140.9" cy="982.9" r="3.1" fill="#6b9bd2"/>
<circle cx="1118.9" cy="984.9" r="3.1" fill="#6b9bd2"/>
<circle cx="1118.1" cy="989.5" r="3.1" fill="#6b9bd2"/>
<circle cx="1098.9" cy="989" r="3.1" fill="#6b9bd2"/>
<circle cx="1094.3" cy="992.5" r="3.1" fill="#6b9bd2"/>
<circle cx="1151.6" cy="993.6" r="3.1" fill="#6b9bd2"/>
<circle cx="1163.7" cy="911.8" r="3.1" fill="#6b9bd2"/>
<circle cx="1168.5" cy="885" r="3.1" fill="#6b9bd2"/>
<circle cx="1169.7" cy="885.8" r="3.1" fill="#6b9bd2"/>
<circle cx="1171.7" cy="928" r="3.1" fill="#6b9bd2"/>
<circle cx="1175.6" cy="938.2" r="3.1" fill="#6b9bd2"/>
<circle cx="1174.3" cy="942.4" r="3.1" fill="#6b9bd2"/>
<circle cx="1170.2" cy="944.4" r="3.1" fill="#6b9bd2"/>
<circle cx="1175.6" cy="948.2" r="3.1" fill="#6b9bd2"/>
<circle cx="1181.4" cy="928.3" r="3.1" fill="#6b9bd2"/>
<circle cx="1183.9" cy="935.8" r="3.1" fill="#6b9bd2"/>
<circle cx="1182.6" cy="942.4" r="3.1" fill="#6b9bd2"/>
<circle cx="1167.7" cy="970" r="3.1" fill="#6b9bd2"/>
<circle cx="1182.1" cy="955.3" r="3.1" fill="#6b9bd2"/>
<circle cx="1180.4" cy="958.9" r="3.1" fill="#6b9bd2"/>
<circle cx="1187" cy="832.4" r="3.1" fill="#6b9bd2"/>
<circle cx="1184.9" cy="858.5" r="3.1" fill="#6b9bd2"/>
<circle cx="1188.9" cy="897.7" r="3.1" fill="#6b9bd2"/>
<circle cx="1192.2" cy="914.3" r="3.1" fill="#6b9bd2"/>
<circle cx="1189.2" cy="967.7" r="3.1" fill="#6b9bd2"/>
<circle cx="1194.5" cy="966.4" r="3.1" fill="#6b9bd2"/>
<circle cx="1192.2" cy="970.5" r="3.1" fill="#6b9bd2"/>
<circle cx="1190.8" cy="975.1" r="3.1" fill="#6b9bd2"/>
<circle cx="1190.3" cy="980.1" r="3.1" fill="#6b9bd2"/>
<circle cx="1192.5" cy="991.5" r="3.1" fill="#6b9bd2"/>
<circle cx="1201.9" cy="961.1" r="3.1" fill="#6b9bd2"/>
<circle cx="1207.7" cy="958.3" r="3.1" fill="#6b9bd2"/>
<circle cx="1207.9" cy="951.5" r="3.1" fill="#6b9bd2"/>
<circle cx="1214.7" cy="953.3" r="3.1" fill="#6b9bd2"/>
<circle cx="1216.5" cy="959.7" r="3.1" fill="#6b9bd2"/>
<circle cx="1206.5" cy="978.8" r="3.1" fill="#6b9bd2"/>
<circle cx="1222.9" cy="976.3" r="3.1" fill="#6b9bd2"/>
<circle cx="1225.1" cy="989.5" r="3.1" fill="#6b9bd2"/>
<circle cx="1229.7" cy="968.8" r="3.1" fill="#6b9bd2"/>
<circle cx="1211.2" cy="837.9" r="3.1" fill="#6b9bd2"/>
<circle cx="1211.2" cy="841.5" r="3.1" fill="#6b9bd2"/>
<circle cx="1221.4" cy="836" r="3.1" fill="#6b9bd2"/>
<circle cx="1225.9" cy="829.9" r="3.1" fill="#6b9bd2"/>
<circle cx="1232.2" cy="834.1" r="3.1" fill="#6b9bd2"/>
<circle cx="1226.7" cy="841.5" r="3.1" fill="#6b9bd2"/>
<circle cx="1208.7" cy="870.9" r="3.1" fill="#6b9bd2"/>
<circle cx="1212.3" cy="870.4" r="3.1" fill="#6b9bd2"/>
<circle cx="1234.5" cy="881.7" r="3.1" fill="#6b9bd2"/>
<circle cx="1215.6" cy="896.6" r="3.1" fill="#6b9bd2"/>
<circle cx="1218.1" cy="894.9" r="3.1" fill="#6b9bd2"/>
<circle cx="1207.4" cy="901.4" r="3.1" fill="#6b9bd2"/>
<circle cx="1222.3" cy="929.6" r="3.1" fill="#6b9bd2"/>
<circle cx="1221.9" cy="932.5" r="3.1" fill="#6b9bd2"/>
<circle cx="1248.4" cy="901" r="3.1" fill="#6b9bd2"/>
<circle cx="1250.4" cy="859.4" r="3.1" fill="#6b9bd2"/>
<circle cx="1255.8" cy="853.4" r="3.1" fill="#6b9bd2"/>
<circle cx="1271.9" cy="913.8" r="3.1" fill="#6b9bd2"/>
<circle cx="1258.6" cy="976.3" r="3.1" fill="#6b9bd2"/>
<circle cx="1257" cy="982.6" r="3.1" fill="#6b9bd2"/>
<circle cx="1271" cy="974.1" r="3.1" fill="#6b9bd2"/>
<circle cx="1271.5" cy="989.2" r="3.1" fill="#6b9bd2"/>
<circle cx="1319.6" cy="869.3" r="3.1" fill="#6b9bd2"/>
<circle cx="1308.9" cy="902.4" r="3.1" fill="#6b9bd2"/>
<circle cx="1342.8" cy="899" r="3.1" fill="#6b9bd2"/>
<circle cx="1285.2" cy="916.7" r="3.1" fill="#6b9bd2"/>
<circle cx="1332.3" cy="918.1" r="3.1" fill="#6b9bd2"/>
<circle cx="1280.3" cy="931.6" r="3.1" fill="#6b9bd2"/>
<circle cx="1289.5" cy="934.9" r="3.1" fill="#6b9bd2"/>
<circle cx="1291.5" cy="945.2" r="3.1" fill="#6b9bd2"/>
<circle cx="1358.1" cy="961.7" r="3.1" fill="#6b9bd2"/>
<circle cx="1332" cy="973.5" r="3.1" fill="#6b9bd2"/>
<circle cx="1334.2" cy="977.4" r="3.1" fill="#6b9bd2"/>
<circle cx="1421.8" cy="977.4" r="3.1" fill="#6b9bd2"/>
<circle cx="1287.9" cy="981.6" r="3.1" fill="#6b9bd2"/>
<circle cx="1278.3" cy="987" r="3.1" fill="#6b9bd2"/>
<rect x="1057.1" y="665.9" width="6" height="6" fill="#e8333d"/>
<rect x="1089.1" y="707.3" width="6" height="6" fill="#e8333d"/>
<rect x="1045.8" y="744.8" width="6" height="6" fill="#e8333d"/>
<rect x="1093.3" y="774.7" width="6" height="6" fill="#e8333d"/>
<rect x="1052.9" y="782.5" width="6" height="6" fill="#e8333d"/>
<rect x="1073.6" y="823.3" width="6" height="6" fill="#e8333d"/>
<rect x="1085.2" y="826" width="6" height="6" fill="#e8333d"/>
<rect x="1078.9" y="830.2" width="6" height="6" fill="#e8333d"/>
<rect x="1069.8" y="874.9" width="6" height="6" fill="#e8333d"/>
<rect x="1069.5" y="879" width="6" height="6" fill="#e8333d"/>
<rect x="1086.8" y="907.6" width="6" height="6" fill="#e8333d"/>
<rect x="1099" y="877.7" width="6" height="6" fill="#e8333d"/>
<rect x="1097.7" y="888.9" width="6" height="6" fill="#e8333d"/>
<rect x="1096.4" y="944.3" width="6" height="6" fill="#e8333d"/>
<line x1="850" y1="686" x2="890.3" y2="686" stroke="#6f9fd4" stroke-width="1.3" stroke-opacity="0.55"/>
<line x1="992.1" y1="1035.7" x2="992.1" y2="1075.6" stroke="#6f9fd4" stroke-width="1.3" stroke-opacity="0.55"/>
<line x1="850" y1="797.1" x2="890.3" y2="797.1" stroke="#6f9fd4" stroke-width="1.3" stroke-opacity="0.55"/>
<line x1="1009.1" y1="1035.7" x2="1009.1" y2="1075.6" stroke="#6f9fd4" stroke-width="1.3" stroke-opacity="0.55"/>
<line x1="850" y1="801.7" x2="890.3" y2="801.7" stroke="#6f9fd4" stroke-width="1.3" stroke-opacity="0.55"/>
<line x1="1043.8" y1="1035.7" x2="1043.8" y2="1075.6" stroke="#6f9fd4" stroke-width="1.3" stroke-opacity="0.55"/>
<line x1="850" y1="801.2" x2="890.3" y2="801.2" stroke="#6f9fd4" stroke-width="1.3" stroke-opacity="0.55"/>
<line x1="1046.3" y1="1035.7" x2="1046.3" y2="1075.6" stroke="#6f9fd4" stroke-width="1.3" stroke-opacity="0.55"/>
<line x1="850" y1="745.8" x2="890.3" y2="745.8" stroke="#6f9fd4" stroke-width="1.3" stroke-opacity="0.55"/>
<line x1="1088.5" y1="1035.7" x2="1088.5" y2="1075.6" stroke="#6f9fd4" stroke-width="1.3" stroke-opacity="0.55"/>
<line x1="850" y1="802.5" x2="890.3" y2="802.5" stroke="#6f9fd4" stroke-width="1.3" stroke-opacity="0.55"/>
<line x1="1085.5" y1="1035.7" x2="1085.5" y2="1075.6" stroke="#6f9fd4" stroke-width="1.3" stroke-opacity="0.55"/>
<line x1="850" y1="761.9" x2="890.3" y2="761.9" stroke="#6f9fd4" stroke-width="1.3" stroke-opacity="0.55"/>
<line x1="1163.9" y1="1035.7" x2="1163.9" y2="1075.6" stroke="#6f9fd4" stroke-width="1.3" stroke-opacity="0.55"/>
<line x1="850" y1="777.1" x2="890.3" y2="777.1" stroke="#6f9fd4" stroke-width="1.3" stroke-opacity="0.55"/>
<line x1="1144.4" y1="1035.7" x2="1144.4" y2="1075.6" stroke="#6f9fd4" stroke-width="1.3" stroke-opacity="0.55"/>
<line x1="850" y1="789.1" x2="890.3" y2="789.1" stroke="#6f9fd4" stroke-width="1.3" stroke-opacity="0.55"/>
<line x1="1129" y1="1035.7" x2="1129" y2="1075.6" stroke="#6f9fd4" stroke-width="1.3" stroke-opacity="0.55"/>
<line x1="850" y1="799.9" x2="890.3" y2="799.9" stroke="#6f9fd4" stroke-width="1.3" stroke-opacity="0.55"/>
<line x1="1157.6" y1="1035.7" x2="1157.6" y2="1075.6" stroke="#6f9fd4" stroke-width="1.3" stroke-opacity="0.55"/>
<line x1="850" y1="829.3" x2="890.3" y2="829.3" stroke="#6f9fd4" stroke-width="1.3" stroke-opacity="0.55"/>
<line x1="1040.5" y1="1035.7" x2="1040.5" y2="1075.6" stroke="#6f9fd4" stroke-width="1.3" stroke-opacity="0.55"/>
<line x1="850" y1="663.6" x2="890.3" y2="663.6" stroke="#6f9fd4" stroke-width="1.3" stroke-opacity="0.55"/>
<line x1="1234.6" y1="1035.7" x2="1234.6" y2="1075.6" stroke="#6f9fd4" stroke-width="1.3" stroke-opacity="0.55"/>
<line x1="850" y1="724" x2="890.3" y2="724" stroke="#6f9fd4" stroke-width="1.3" stroke-opacity="0.55"/>
<line x1="1261.5" y1="1035.7" x2="1261.5" y2="1075.6" stroke="#6f9fd4" stroke-width="1.3" stroke-opacity="0.55"/>
<line x1="850" y1="729.8" x2="890.3" y2="729.8" stroke="#6f9fd4" stroke-width="1.3" stroke-opacity="0.55"/>
<line x1="1351.5" y1="1035.7" x2="1351.5" y2="1075.6" stroke="#6f9fd4" stroke-width="1.3" stroke-opacity="0.55"/>
<line x1="850" y1="786.8" x2="890.3" y2="786.8" stroke="#6f9fd4" stroke-width="1.3" stroke-opacity="0.55"/>
<line x1="1199" y1="1035.7" x2="1199" y2="1075.6" stroke="#6f9fd4" stroke-width="1.3" stroke-opacity="0.55"/>
<line x1="850" y1="785" x2="890.3" y2="785" stroke="#6f9fd4" stroke-width="1.3" stroke-opacity="0.55"/>
<line x1="1222.2" y1="1035.7" x2="1222.2" y2="1075.6" stroke="#6f9fd4" stroke-width="1.3" stroke-opacity="0.55"/>
<line x1="850" y1="814" x2="890.3" y2="814" stroke="#6f9fd4" stroke-width="1.3" stroke-opacity="0.55"/>
<line x1="1199" y1="1035.7" x2="1199" y2="1075.6" stroke="#6f9fd4" stroke-width="1.3" stroke-opacity="0.55"/>
<line x1="850" y1="814.4" x2="890.3" y2="814.4" stroke="#6f9fd4" stroke-width="1.3" stroke-opacity="0.55"/>
<line x1="1295.7" y1="1035.7" x2="1295.7" y2="1075.6" stroke="#6f9fd4" stroke-width="1.3" stroke-opacity="0.55"/>
<line x1="850" y1="816.4" x2="890.3" y2="816.4" stroke="#6f9fd4" stroke-width="1.3" stroke-opacity="0.55"/>
<line x1="1312.8" y1="1035.7" x2="1312.8" y2="1075.6" stroke="#6f9fd4" stroke-width="1.3" stroke-opacity="0.55"/>
<line x1="850" y1="826.5" x2="890.3" y2="826.5" stroke="#6f9fd4" stroke-width="1.3" stroke-opacity="0.55"/>
<line x1="1285.8" y1="1035.7" x2="1285.8" y2="1075.6" stroke="#6f9fd4" stroke-width="1.3" stroke-opacity="0.55"/>
<line x1="850" y1="829.3" x2="890.3" y2="829.3" stroke="#6f9fd4" stroke-width="1.3" stroke-opacity="0.55"/>
<line x1="1281.2" y1="1035.7" x2="1281.2" y2="1075.6" stroke="#6f9fd4" stroke-width="1.3" stroke-opacity="0.55"/>
<line x1="850" y1="829.3" x2="890.3" y2="829.3" stroke="#6f9fd4" stroke-width="1.3" stroke-opacity="0.55"/>
<line x1="1225.8" y1="1035.7" x2="1225.8" y2="1075.6" stroke="#6f9fd4" stroke-width="1.3" stroke-opacity="0.55"/>
<line x1="850" y1="837.5" x2="890.3" y2="837.5" stroke="#6f9fd4" stroke-width="1.3" stroke-opacity="0.55"/>
<line x1="1005.2" y1="1035.7" x2="1005.2" y2="1075.6" stroke="#6f9fd4" stroke-width="1.3" stroke-opacity="0.55"/>
<line x1="850" y1="847.6" x2="890.3" y2="847.6" stroke="#6f9fd4" stroke-width="1.3" stroke-opacity="0.55"/>
<line x1="1078.9" y1="1035.7" x2="1078.9" y2="1075.6" stroke="#6f9fd4" stroke-width="1.3" stroke-opacity="0.55"/>
<line x1="850" y1="859.9" x2="890.3" y2="859.9" stroke="#6f9fd4" stroke-width="1.3" stroke-opacity="0.55"/>
<line x1="1041.1" y1="1035.7" x2="1041.1" y2="1075.6" stroke="#6f9fd4" stroke-width="1.3" stroke-opacity="0.55"/>
<line x1="850" y1="877.4" x2="890.3" y2="877.4" stroke="#6f9fd4" stroke-width="1.3" stroke-opacity="0.55"/>
<line x1="1057.1" y1="1035.7" x2="1057.1" y2="1075.6" stroke="#6f9fd4" stroke-width="1.3" stroke-opacity="0.55"/>
<line x1="850" y1="881.5" x2="890.3" y2="881.5" stroke="#6f9fd4" stroke-width="1.3" stroke-opacity="0.55"/>
<line x1="1086.2" y1="1035.7" x2="1086.2" y2="1075.6" stroke="#6f9fd4" stroke-width="1.3" stroke-opacity="0.55"/>
<line x1="850" y1="896.1" x2="890.3" y2="896.1" stroke="#6f9fd4" stroke-width="1.3" stroke-opacity="0.55"/>
<line x1="1047.7" y1="1035.7" x2="1047.7" y2="1075.6" stroke="#6f9fd4" stroke-width="1.3" stroke-opacity="0.55"/>
<line x1="850" y1="900.7" x2="890.3" y2="900.7" stroke="#6f9fd4" stroke-width="1.3" stroke-opacity="0.55"/>
<line x1="1053.8" y1="1035.7" x2="1053.8" y2="1075.6" stroke="#6f9fd4" stroke-width="1.3" stroke-opacity="0.55"/>
<line x1="850" y1="897.7" x2="890.3" y2="897.7" stroke="#6f9fd4" stroke-width="1.3" stroke-opacity="0.55"/>
<line x1="1076.8" y1="1035.7" x2="1076.8" y2="1075.6" stroke="#6f9fd4" stroke-width="1.3" stroke-opacity="0.55"/>
<line x1="850" y1="901" x2="890.3" y2="901" stroke="#6f9fd4" stroke-width="1.3" stroke-opacity="0.55"/>
<line x1="980.5" y1="1035.7" x2="980.5" y2="1075.6" stroke="#6f9fd4" stroke-width="1.3" stroke-opacity="0.55"/>
<line x1="850" y1="910.6" x2="890.3" y2="910.6" stroke="#6f9fd4" stroke-width="1.3" stroke-opacity="0.55"/>
<line x1="983.2" y1="1035.7" x2="983.2" y2="1075.6" stroke="#6f9fd4" stroke-width="1.3" stroke-opacity="0.55"/>
<line x1="850" y1="908.8" x2="890.3" y2="908.8" stroke="#6f9fd4" stroke-width="1.3" stroke-opacity="0.55"/>
<line x1="1006.5" y1="1035.7" x2="1006.5" y2="1075.6" stroke="#6f9fd4" stroke-width="1.3" stroke-opacity="0.55"/>
<line x1="850" y1="912.1" x2="890.3" y2="912.1" stroke="#6f9fd4" stroke-width="1.3" stroke-opacity="0.55"/>
<line x1="1060.4" y1="1035.7" x2="1060.4" y2="1075.6" stroke="#6f9fd4" stroke-width="1.3" stroke-opacity="0.55"/>
<line x1="850" y1="916.7" x2="890.3" y2="916.7" stroke="#6f9fd4" stroke-width="1.3" stroke-opacity="0.55"/>
<line x1="1068.3" y1="1035.7" x2="1068.3" y2="1075.6" stroke="#6f9fd4" stroke-width="1.3" stroke-opacity="0.55"/>
<line x1="850" y1="919.9" x2="890.3" y2="919.9" stroke="#6f9fd4" stroke-width="1.3" stroke-opacity="0.55"/>
<line x1="1030.3" y1="1035.7" x2="1030.3" y2="1075.6" stroke="#6f9fd4" stroke-width="1.3" stroke-opacity="0.55"/>
<line x1="850" y1="925.7" x2="890.3" y2="925.7" stroke="#6f9fd4" stroke-width="1.3" stroke-opacity="0.55"/>
<line x1="992.1" y1="1035.7" x2="992.1" y2="1075.6" stroke="#6f9fd4" stroke-width="1.3" stroke-opacity="0.55"/>
<line x1="850" y1="924.5" x2="890.3" y2="924.5" stroke="#6f9fd4" stroke-width="1.3" stroke-opacity="0.55"/>
<line x1="1054.3" y1="1035.7" x2="1054.3" y2="1075.6" stroke="#6f9fd4" stroke-width="1.3" stroke-opacity="0.55"/>
<line x1="850" y1="934.3" x2="890.3" y2="934.3" stroke="#6f9fd4" stroke-width="1.3" stroke-opacity="0.55"/>
<line x1="1025.4" y1="1035.7" x2="1025.4" y2="1075.6" stroke="#6f9fd4" stroke-width="1.3" stroke-opacity="0.55"/>
<line x1="850" y1="941.2" x2="890.3" y2="941.2" stroke="#6f9fd4" stroke-width="1.3" stroke-opacity="0.55"/>
<line x1="1035.3" y1="1035.7" x2="1035.3" y2="1075.6" stroke="#6f9fd4" stroke-width="1.3" stroke-opacity="0.55"/>
<line x1="850" y1="939.6" x2="890.3" y2="939.6" stroke="#6f9fd4" stroke-width="1.3" stroke-opacity="0.55"/>
<line x1="1055.9" y1="1035.7" x2="1055.9" y2="1075.6" stroke="#6f9fd4" stroke-width="1.3" stroke-opacity="0.55"/>
<line x1="850" y1="945.4" x2="890.3" y2="945.4" stroke="#6f9fd4" stroke-width="1.3" stroke-opacity="0.55"/>
<line x1="1057.9" y1="1035.7" x2="1057.9" y2="1075.6" stroke="#6f9fd4" stroke-width="1.3" stroke-opacity="0.55"/>
<line x1="850" y1="946.5" x2="890.3" y2="946.5" stroke="#6f9fd4" stroke-width="1.3" stroke-opacity="0.55"/>
<line x1="1053.8" y1="1035.7" x2="1053.8" y2="1075.6" stroke="#6f9fd4" stroke-width="1.3" stroke-opacity="0.55"/>
<line x1="850" y1="941.2" x2="890.3" y2="941.2" stroke="#6f9fd4" stroke-width="1.3" stroke-opacity="0.55"/>
<line x1="1067.5" y1="1035.7" x2="1067.5" y2="1075.6" stroke="#6f9fd4" stroke-width="1.3" stroke-opacity="0.55"/>
<line x1="850" y1="950.5" x2="890.3" y2="950.5" stroke="#6f9fd4" stroke-width="1.3" stroke-opacity="0.55"/>
<line x1="1005.2" y1="1035.7" x2="1005.2" y2="1075.6" stroke="#6f9fd4" stroke-width="1.3" stroke-opacity="0.55"/>
<line x1="850" y1="951.5" x2="890.3" y2="951.5" stroke="#6f9fd4" stroke-width="1.3" stroke-opacity="0.55"/>
<line x1="1072" y1="1035.7" x2="1072" y2="1075.6" stroke="#6f9fd4" stroke-width="1.3" stroke-opacity="0.55"/>
<line x1="850" y1="957.3" x2="890.3" y2="957.3" stroke="#6f9fd4" stroke-width="1.3" stroke-opacity="0.55"/>
<line x1="939.4" y1="1035.7" x2="939.4" y2="1075.6" stroke="#6f9fd4" stroke-width="1.3" stroke-opacity="0.55"/>
<line x1="850" y1="960.7" x2="890.3" y2="960.7" stroke="#6f9fd4" stroke-width="1.3" stroke-opacity="0.55"/>
<line x1="1074.5" y1="1035.7" x2="1074.5" y2="1075.6" stroke="#6f9fd4" stroke-width="1.3" stroke-opacity="0.55"/>
<line x1="850" y1="958.7" x2="890.3" y2="958.7" stroke="#6f9fd4" stroke-width="1.3" stroke-opacity="0.55"/>
<line x1="1083.1" y1="1035.7" x2="1083.1" y2="1075.6" stroke="#6f9fd4" stroke-width="1.3" stroke-opacity="0.55"/>
<line x1="850" y1="968.7" x2="890.3" y2="968.7" stroke="#6f9fd4" stroke-width="1.3" stroke-opacity="0.55"/>
<line x1="1051.1" y1="1035.7" x2="1051.1" y2="1075.6" stroke="#6f9fd4" stroke-width="1.3" stroke-opacity="0.55"/>
<line x1="850" y1="975" x2="890.3" y2="975" stroke="#6f9fd4" stroke-width="1.3" stroke-opacity="0.55"/>
<line x1="1036.3" y1="1035.7" x2="1036.3" y2="1075.6" stroke="#6f9fd4" stroke-width="1.3" stroke-opacity="0.55"/>
<line x1="850" y1="973" x2="890.3" y2="973" stroke="#6f9fd4" stroke-width="1.3" stroke-opacity="0.55"/>
<line x1="1073.3" y1="1035.7" x2="1073.3" y2="1075.6" stroke="#6f9fd4" stroke-width="1.3" stroke-opacity="0.55"/>
<line x1="850" y1="971" x2="890.3" y2="971" stroke="#6f9fd4" stroke-width="1.3" stroke-opacity="0.55"/>
<line x1="1077.8" y1="1035.7" x2="1077.8" y2="1075.6" stroke="#6f9fd4" stroke-width="1.3" stroke-opacity="0.55"/>
<line x1="850" y1="980.2" x2="890.3" y2="980.2" stroke="#6f9fd4" stroke-width="1.3" stroke-opacity="0.55"/>
<line x1="995.9" y1="1035.7" x2="995.9" y2="1075.6" stroke="#6f9fd4" stroke-width="1.3" stroke-opacity="0.55"/>
<line x1="850" y1="981.2" x2="890.3" y2="981.2" stroke="#6f9fd4" stroke-width="1.3" stroke-opacity="0.55"/>
<line x1="1017.7" y1="1035.7" x2="1017.7" y2="1075.6" stroke="#6f9fd4" stroke-width="1.3" stroke-opacity="0.55"/>
<line x1="850" y1="979.6" x2="890.3" y2="979.6" stroke="#6f9fd4" stroke-width="1.3" stroke-opacity="0.55"/>
<line x1="1083.1" y1="1035.7" x2="1083.1" y2="1075.6" stroke="#6f9fd4" stroke-width="1.3" stroke-opacity="0.55"/>
<line x1="850" y1="982.9" x2="890.3" y2="982.9" stroke="#6f9fd4" stroke-width="1.3" stroke-opacity="0.55"/>
<line x1="1083.9" y1="1035.7" x2="1083.9" y2="1075.6" stroke="#6f9fd4" stroke-width="1.3" stroke-opacity="0.55"/>
<line x1="850" y1="983.4" x2="890.3" y2="983.4" stroke="#6f9fd4" stroke-width="1.3" stroke-opacity="0.55"/>
<line x1="1065.9" y1="1035.7" x2="1065.9" y2="1075.6" stroke="#6f9fd4" stroke-width="1.3" stroke-opacity="0.55"/>
<line x1="850" y1="989" x2="890.3" y2="989" stroke="#6f9fd4" stroke-width="1.3" stroke-opacity="0.55"/>
<line x1="1028.2" y1="1035.7" x2="1028.2" y2="1075.6" stroke="#6f9fd4" stroke-width="1.3" stroke-opacity="0.55"/>
<line x1="850" y1="994.5" x2="890.3" y2="994.5" stroke="#6f9fd4" stroke-width="1.3" stroke-opacity="0.55"/>
<line x1="1036.4" y1="1035.7" x2="1036.4" y2="1075.6" stroke="#6f9fd4" stroke-width="1.3" stroke-opacity="0.55"/>
<line x1="850" y1="993.6" x2="890.3" y2="993.6" stroke="#6f9fd4" stroke-width="1.3" stroke-opacity="0.55"/>
<line x1="1039.7" y1="1035.7" x2="1039.7" y2="1075.6" stroke="#6f9fd4" stroke-width="1.3" stroke-opacity="0.55"/>
<line x1="850" y1="990.7" x2="890.3" y2="990.7" stroke="#6f9fd4" stroke-width="1.3" stroke-opacity="0.55"/>
<line x1="1049.3" y1="1035.7" x2="1049.3" y2="1075.6" stroke="#6f9fd4" stroke-width="1.3" stroke-opacity="0.55"/>
<line x1="850" y1="992.8" x2="890.3" y2="992.8" stroke="#6f9fd4" stroke-width="1.3" stroke-opacity="0.55"/>
<line x1="1070.2" y1="1035.7" x2="1070.2" y2="1075.6" stroke="#6f9fd4" stroke-width="1.3" stroke-opacity="0.55"/>
<line x1="850" y1="995.3" x2="890.3" y2="995.3" stroke="#6f9fd4" stroke-width="1.3" stroke-opacity="0.55"/>
<line x1="1082.6" y1="1035.7" x2="1082.6" y2="1075.6" stroke="#6f9fd4" stroke-width="1.3" stroke-opacity="0.55"/>
<line x1="850" y1="839.2" x2="890.3" y2="839.2" stroke="#6f9fd4" stroke-width="1.3" stroke-opacity="0.55"/>
<line x1="1119.6" y1="1035.7" x2="1119.6" y2="1075.6" stroke="#6f9fd4" stroke-width="1.3" stroke-opacity="0.55"/>
<line x1="850" y1="848.1" x2="890.3" y2="848.1" stroke="#6f9fd4" stroke-width="1.3" stroke-opacity="0.55"/>
<line x1="1094.4" y1="1035.7" x2="1094.4" y2="1075.6" stroke="#6f9fd4" stroke-width="1.3" stroke-opacity="0.55"/>
<line x1="850" y1="861.3" x2="890.3" y2="861.3" stroke="#6f9fd4" stroke-width="1.3" stroke-opacity="0.55"/>
<line x1="1100.2" y1="1035.7" x2="1100.2" y2="1075.6" stroke="#6f9fd4" stroke-width="1.3" stroke-opacity="0.55"/>
<line x1="850" y1="861.8" x2="890.3" y2="861.8" stroke="#6f9fd4" stroke-width="1.3" stroke-opacity="0.55"/>
<line x1="1108.2" y1="1035.7" x2="1108.2" y2="1075.6" stroke="#6f9fd4" stroke-width="1.3" stroke-opacity="0.55"/>
<line x1="850" y1="861.3" x2="890.3" y2="861.3" stroke="#6f9fd4" stroke-width="1.3" stroke-opacity="0.55"/>
<line x1="1136.3" y1="1035.7" x2="1136.3" y2="1075.6" stroke="#6f9fd4" stroke-width="1.3" stroke-opacity="0.55"/>
<line x1="850" y1="873.4" x2="890.3" y2="873.4" stroke="#6f9fd4" stroke-width="1.3" stroke-opacity="0.55"/>
<line x1="1140.6" y1="1035.7" x2="1140.6" y2="1075.6" stroke="#6f9fd4" stroke-width="1.3" stroke-opacity="0.55"/>
<line x1="850" y1="877.4" x2="890.3" y2="877.4" stroke="#6f9fd4" stroke-width="1.3" stroke-opacity="0.55"/>
<line x1="1107.7" y1="1035.7" x2="1107.7" y2="1075.6" stroke="#6f9fd4" stroke-width="1.3" stroke-opacity="0.55"/>
<line x1="850" y1="881.7" x2="890.3" y2="881.7" stroke="#6f9fd4" stroke-width="1.3" stroke-opacity="0.55"/>
<line x1="1118.6" y1="1035.7" x2="1118.6" y2="1075.6" stroke="#6f9fd4" stroke-width="1.3" stroke-opacity="0.55"/>
<line x1="850" y1="896.6" x2="890.3" y2="896.6" stroke="#6f9fd4" stroke-width="1.3" stroke-opacity="0.55"/>
<line x1="1122" y1="1035.7" x2="1122" y2="1075.6" stroke="#6f9fd4" stroke-width="1.3" stroke-opacity="0.55"/>
<line x1="850" y1="902.7" x2="890.3" y2="902.7" stroke="#6f9fd4" stroke-width="1.3" stroke-opacity="0.55"/>
<line x1="1125.7" y1="1035.7" x2="1125.7" y2="1075.6" stroke="#6f9fd4" stroke-width="1.3" stroke-opacity="0.55"/>
<line x1="850" y1="903.8" x2="890.3" y2="903.8" stroke="#6f9fd4" stroke-width="1.3" stroke-opacity="0.55"/>
<line x1="1130.5" y1="1035.7" x2="1130.5" y2="1075.6" stroke="#6f9fd4" stroke-width="1.3" stroke-opacity="0.55"/>
<line x1="850" y1="905.5" x2="890.3" y2="905.5" stroke="#6f9fd4" stroke-width="1.3" stroke-opacity="0.55"/>
<line x1="1133.8" y1="1035.7" x2="1133.8" y2="1075.6" stroke="#6f9fd4" stroke-width="1.3" stroke-opacity="0.55"/>
<line x1="850" y1="908" x2="890.3" y2="908" stroke="#6f9fd4" stroke-width="1.3" stroke-opacity="0.55"/>
<line x1="1136.8" y1="1035.7" x2="1136.8" y2="1075.6" stroke="#6f9fd4" stroke-width="1.3" stroke-opacity="0.55"/>
<line x1="850" y1="909.3" x2="890.3" y2="909.3" stroke="#6f9fd4" stroke-width="1.3" stroke-opacity="0.55"/>
<line x1="1104.8" y1="1035.7" x2="1104.8" y2="1075.6" stroke="#6f9fd4" stroke-width="1.3" stroke-opacity="0.55"/>
<line x1="850" y1="910.1" x2="890.3" y2="910.1" stroke="#6f9fd4" stroke-width="1.3" stroke-opacity="0.55"/>
<line x1="1110.6" y1="1035.7" x2="1110.6" y2="1075.6" stroke="#6f9fd4" stroke-width="1.3" stroke-opacity="0.55"/>
<line x1="850" y1="911" x2="890.3" y2="911" stroke="#6f9fd4" stroke-width="1.3" stroke-opacity="0.55"/>
<line x1="1115.6" y1="1035.7" x2="1115.6" y2="1075.6" stroke="#6f9fd4" stroke-width="1.3" stroke-opacity="0.55"/>
<line x1="850" y1="914.3" x2="890.3" y2="914.3" stroke="#6f9fd4" stroke-width="1.3" stroke-opacity="0.55"/>
<line x1="1114.8" y1="1035.7" x2="1114.8" y2="1075.6" stroke="#6f9fd4" stroke-width="1.3" stroke-opacity="0.55"/>
<line x1="850" y1="920.9" x2="890.3" y2="920.9" stroke="#6f9fd4" stroke-width="1.3" stroke-opacity="0.55"/>
<line x1="1122" y1="1035.7" x2="1122" y2="1075.6" stroke="#6f9fd4" stroke-width="1.3" stroke-opacity="0.55"/>
<line x1="850" y1="922.2" x2="890.3" y2="922.2" stroke="#6f9fd4" stroke-width="1.3" stroke-opacity="0.55"/>
<line x1="1144.2" y1="1035.7" x2="1144.2" y2="1075.6" stroke="#6f9fd4" stroke-width="1.3" stroke-opacity="0.55"/>
<line x1="850" y1="924.5" x2="890.3" y2="924.5" stroke="#6f9fd4" stroke-width="1.3" stroke-opacity="0.55"/>
<line x1="1140.1" y1="1035.7" x2="1140.1" y2="1075.6" stroke="#6f9fd4" stroke-width="1.3" stroke-opacity="0.55"/>
<line x1="850" y1="928.3" x2="890.3" y2="928.3" stroke="#6f9fd4" stroke-width="1.3" stroke-opacity="0.55"/>
<line x1="1147.5" y1="1035.7" x2="1147.5" y2="1075.6" stroke="#6f9fd4" stroke-width="1.3" stroke-opacity="0.55"/>
<line x1="850" y1="930.3" x2="890.3" y2="930.3" stroke="#6f9fd4" stroke-width="1.3" stroke-opacity="0.55"/>
<line x1="1108.2" y1="1035.7" x2="1108.2" y2="1075.6" stroke="#6f9fd4" stroke-width="1.3" stroke-opacity="0.55"/>
<line x1="850" y1="929.1" x2="890.3" y2="929.1" stroke="#6f9fd4" stroke-width="1.3" stroke-opacity="0.55"/>
<line x1="1113.1" y1="1035.7" x2="1113.1" y2="1075.6" stroke="#6f9fd4" stroke-width="1.3" stroke-opacity="0.55"/>
<line x1="850" y1="933.8" x2="890.3" y2="933.8" stroke="#6f9fd4" stroke-width="1.3" stroke-opacity="0.55"/>
<line x1="1116.4" y1="1035.7" x2="1116.4" y2="1075.6" stroke="#6f9fd4" stroke-width="1.3" stroke-opacity="0.55"/>
<line x1="850" y1="932.5" x2="890.3" y2="932.5" stroke="#6f9fd4" stroke-width="1.3" stroke-opacity="0.55"/>
<line x1="1140.7" y1="1035.7" x2="1140.7" y2="1075.6" stroke="#6f9fd4" stroke-width="1.3" stroke-opacity="0.55"/>
<line x1="850" y1="936.6" x2="890.3" y2="936.6" stroke="#6f9fd4" stroke-width="1.3" stroke-opacity="0.55"/>
<line x1="1137.9" y1="1035.7" x2="1137.9" y2="1075.6" stroke="#6f9fd4" stroke-width="1.3" stroke-opacity="0.55"/>
<line x1="850" y1="936.4" x2="890.3" y2="936.4" stroke="#6f9fd4" stroke-width="1.3" stroke-opacity="0.55"/>
<line x1="1127.2" y1="1035.7" x2="1127.2" y2="1075.6" stroke="#6f9fd4" stroke-width="1.3" stroke-opacity="0.55"/>
<line x1="850" y1="942" x2="890.3" y2="942" stroke="#6f9fd4" stroke-width="1.3" stroke-opacity="0.55"/>
<line x1="1103.2" y1="1035.7" x2="1103.2" y2="1075.6" stroke="#6f9fd4" stroke-width="1.3" stroke-opacity="0.55"/>
<line x1="850" y1="948.5" x2="890.3" y2="948.5" stroke="#6f9fd4" stroke-width="1.3" stroke-opacity="0.55"/>
<line x1="1132.6" y1="1035.7" x2="1132.6" y2="1075.6" stroke="#6f9fd4" stroke-width="1.3" stroke-opacity="0.55"/>
<line x1="850" y1="954.9" x2="890.3" y2="954.9" stroke="#6f9fd4" stroke-width="1.3" stroke-opacity="0.55"/>
<line x1="1142.5" y1="1035.7" x2="1142.5" y2="1075.6" stroke="#6f9fd4" stroke-width="1.3" stroke-opacity="0.55"/>
<line x1="850" y1="944.9" x2="890.3" y2="944.9" stroke="#6f9fd4" stroke-width="1.3" stroke-opacity="0.55"/>
<line x1="1156.9" y1="1035.7" x2="1156.9" y2="1075.6" stroke="#6f9fd4" stroke-width="1.3" stroke-opacity="0.55"/>
<line x1="850" y1="948.2" x2="890.3" y2="948.2" stroke="#6f9fd4" stroke-width="1.3" stroke-opacity="0.55"/>
<line x1="1152.8" y1="1035.7" x2="1152.8" y2="1075.6" stroke="#6f9fd4" stroke-width="1.3" stroke-opacity="0.55"/>
<line x1="850" y1="948.5" x2="890.3" y2="948.5" stroke="#6f9fd4" stroke-width="1.3" stroke-opacity="0.55"/>
<line x1="1156.4" y1="1035.7" x2="1156.4" y2="1075.6" stroke="#6f9fd4" stroke-width="1.3" stroke-opacity="0.55"/>
<line x1="850" y1="963.9" x2="890.3" y2="963.9" stroke="#6f9fd4" stroke-width="1.3" stroke-opacity="0.55"/>
<line x1="1097.6" y1="1035.7" x2="1097.6" y2="1075.6" stroke="#6f9fd4" stroke-width="1.3" stroke-opacity="0.55"/>
<line x1="850" y1="962.6" x2="890.3" y2="962.6" stroke="#6f9fd4" stroke-width="1.3" stroke-opacity="0.55"/>
<line x1="1112.5" y1="1035.7" x2="1112.5" y2="1075.6" stroke="#6f9fd4" stroke-width="1.3" stroke-opacity="0.55"/>
<line x1="850" y1="970.8" x2="890.3" y2="970.8" stroke="#6f9fd4" stroke-width="1.3" stroke-opacity="0.55"/>
<line x1="1093.6" y1="1035.7" x2="1093.6" y2="1075.6" stroke="#6f9fd4" stroke-width="1.3" stroke-opacity="0.55"/>
<line x1="850" y1="968" x2="890.3" y2="968" stroke="#6f9fd4" stroke-width="1.3" stroke-opacity="0.55"/>
<line x1="1123" y1="1035.7" x2="1123" y2="1075.6" stroke="#6f9fd4" stroke-width="1.3" stroke-opacity="0.55"/>
<line x1="850" y1="970.5" x2="890.3" y2="970.5" stroke="#6f9fd4" stroke-width="1.3" stroke-opacity="0.55"/>
<line x1="1128.3" y1="1035.7" x2="1128.3" y2="1075.6" stroke="#6f9fd4" stroke-width="1.3" stroke-opacity="0.55"/>
<line x1="850" y1="967.5" x2="890.3" y2="967.5" stroke="#6f9fd4" stroke-width="1.3" stroke-opacity="0.55"/>
<line x1="1132.6" y1="1035.7" x2="1132.6" y2="1075.6" stroke="#6f9fd4" stroke-width="1.3" stroke-opacity="0.55"/>
<line x1="850" y1="974.6" x2="890.3" y2="974.6" stroke="#6f9fd4" stroke-width="1.3" stroke-opacity="0.55"/>
<line x1="1134.6" y1="1035.7" x2="1134.6" y2="1075.6" stroke="#6f9fd4" stroke-width="1.3" stroke-opacity="0.55"/>
<line x1="850" y1="977.9" x2="890.3" y2="977.9" stroke="#6f9fd4" stroke-width="1.3" stroke-opacity="0.55"/>
<line x1="1136.6" y1="1035.7" x2="1136.6" y2="1075.6" stroke="#6f9fd4" stroke-width="1.3" stroke-opacity="0.55"/>
<line x1="850" y1="976.3" x2="890.3" y2="976.3" stroke="#6f9fd4" stroke-width="1.3" stroke-opacity="0.55"/>
<line x1="1107.2" y1="1035.7" x2="1107.2" y2="1075.6" stroke="#6f9fd4" stroke-width="1.3" stroke-opacity="0.55"/>
<line x1="850" y1="982.9" x2="890.3" y2="982.9" stroke="#6f9fd4" stroke-width="1.3" stroke-opacity="0.55"/>
<line x1="1140.9" y1="1035.7" x2="1140.9" y2="1075.6" stroke="#6f9fd4" stroke-width="1.3" stroke-opacity="0.55"/>
<line x1="850" y1="984.9" x2="890.3" y2="984.9" stroke="#6f9fd4" stroke-width="1.3" stroke-opacity="0.55"/>
<line x1="1118.9" y1="1035.7" x2="1118.9" y2="1075.6" stroke="#6f9fd4" stroke-width="1.3" stroke-opacity="0.55"/>
<line x1="850" y1="989.5" x2="890.3" y2="989.5" stroke="#6f9fd4" stroke-width="1.3" stroke-opacity="0.55"/>
<line x1="1118.1" y1="1035.7" x2="1118.1" y2="1075.6" stroke="#6f9fd4" stroke-width="1.3" stroke-opacity="0.55"/>
<line x1="850" y1="989" x2="890.3" y2="989" stroke="#6f9fd4" stroke-width="1.3" stroke-opacity="0.55"/>
<line x1="1098.9" y1="1035.7" x2="1098.9" y2="1075.6" stroke="#6f9fd4" stroke-width="1.3" stroke-opacity="0.55"/>
<line x1="850" y1="992.5" x2="890.3" y2="992.5" stroke="#6f9fd4" stroke-width="1.3" stroke-opacity="0.55"/>
<line x1="1094.3" y1="1035.7" x2="1094.3" y2="1075.6" stroke="#6f9fd4" stroke-width="1.3" stroke-opacity="0.55"/>
<line x1="850" y1="993.6" x2="890.3" y2="993.6" stroke="#6f9fd4" stroke-width="1.3" stroke-opacity="0.55"/>
<line x1="1151.6" y1="1035.7" x2="1151.6" y2="1075.6" stroke="#6f9fd4" stroke-width="1.3" stroke-opacity="0.55"/>
<line x1="850" y1="911.8" x2="890.3" y2="911.8" stroke="#6f9fd4" stroke-width="1.3" stroke-opacity="0.55"/>
<line x1="1163.7" y1="1035.7" x2="1163.7" y2="1075.6" stroke="#6f9fd4" stroke-width="1.3" stroke-opacity="0.55"/>
<line x1="850" y1="885" x2="890.3" y2="885" stroke="#6f9fd4" stroke-width="1.3" stroke-opacity="0.55"/>
<line x1="1168.5" y1="1035.7" x2="1168.5" y2="1075.6" stroke="#6f9fd4" stroke-width="1.3" stroke-opacity="0.55"/>
<line x1="850" y1="885.8" x2="890.3" y2="885.8" stroke="#6f9fd4" stroke-width="1.3" stroke-opacity="0.55"/>
<line x1="1169.7" y1="1035.7" x2="1169.7" y2="1075.6" stroke="#6f9fd4" stroke-width="1.3" stroke-opacity="0.55"/>
<line x1="850" y1="928" x2="890.3" y2="928" stroke="#6f9fd4" stroke-width="1.3" stroke-opacity="0.55"/>
<line x1="1171.7" y1="1035.7" x2="1171.7" y2="1075.6" stroke="#6f9fd4" stroke-width="1.3" stroke-opacity="0.55"/>
<line x1="850" y1="938.2" x2="890.3" y2="938.2" stroke="#6f9fd4" stroke-width="1.3" stroke-opacity="0.55"/>
<line x1="1175.6" y1="1035.7" x2="1175.6" y2="1075.6" stroke="#6f9fd4" stroke-width="1.3" stroke-opacity="0.55"/>
<line x1="850" y1="942.4" x2="890.3" y2="942.4" stroke="#6f9fd4" stroke-width="1.3" stroke-opacity="0.55"/>
<line x1="1174.3" y1="1035.7" x2="1174.3" y2="1075.6" stroke="#6f9fd4" stroke-width="1.3" stroke-opacity="0.55"/>
<line x1="850" y1="944.4" x2="890.3" y2="944.4" stroke="#6f9fd4" stroke-width="1.3" stroke-opacity="0.55"/>
<line x1="1170.2" y1="1035.7" x2="1170.2" y2="1075.6" stroke="#6f9fd4" stroke-width="1.3" stroke-opacity="0.55"/>
<line x1="850" y1="948.2" x2="890.3" y2="948.2" stroke="#6f9fd4" stroke-width="1.3" stroke-opacity="0.55"/>
<line x1="1175.6" y1="1035.7" x2="1175.6" y2="1075.6" stroke="#6f9fd4" stroke-width="1.3" stroke-opacity="0.55"/>
<line x1="850" y1="928.3" x2="890.3" y2="928.3" stroke="#6f9fd4" stroke-width="1.3" stroke-opacity="0.55"/>
<line x1="1181.4" y1="1035.7" x2="1181.4" y2="1075.6" stroke="#6f9fd4" stroke-width="1.3" stroke-opacity="0.55"/>
<line x1="850" y1="935.8" x2="890.3" y2="935.8" stroke="#6f9fd4" stroke-width="1.3" stroke-opacity="0.55"/>
<line x1="1183.9" y1="1035.7" x2="1183.9" y2="1075.6" stroke="#6f9fd4" stroke-width="1.3" stroke-opacity="0.55"/>
<line x1="850" y1="942.4" x2="890.3" y2="942.4" stroke="#6f9fd4" stroke-width="1.3" stroke-opacity="0.55"/>
<line x1="1182.6" y1="1035.7" x2="1182.6" y2="1075.6" stroke="#6f9fd4" stroke-width="1.3" stroke-opacity="0.55"/>
<line x1="850" y1="970" x2="890.3" y2="970" stroke="#6f9fd4" stroke-width="1.3" stroke-opacity="0.55"/>
<line x1="1167.7" y1="1035.7" x2="1167.7" y2="1075.6" stroke="#6f9fd4" stroke-width="1.3" stroke-opacity="0.55"/>
<line x1="850" y1="955.3" x2="890.3" y2="955.3" stroke="#6f9fd4" stroke-width="1.3" stroke-opacity="0.55"/>
<line x1="1182.1" y1="1035.7" x2="1182.1" y2="1075.6" stroke="#6f9fd4" stroke-width="1.3" stroke-opacity="0.55"/>
<line x1="850" y1="958.9" x2="890.3" y2="958.9" stroke="#6f9fd4" stroke-width="1.3" stroke-opacity="0.55"/>
<line x1="1180.4" y1="1035.7" x2="1180.4" y2="1075.6" stroke="#6f9fd4" stroke-width="1.3" stroke-opacity="0.55"/>
<line x1="850" y1="832.4" x2="890.3" y2="832.4" stroke="#6f9fd4" stroke-width="1.3" stroke-opacity="0.55"/>
<line x1="1187" y1="1035.7" x2="1187" y2="1075.6" stroke="#6f9fd4" stroke-width="1.3" stroke-opacity="0.55"/>
<line x1="850" y1="858.5" x2="890.3" y2="858.5" stroke="#6f9fd4" stroke-width="1.3" stroke-opacity="0.55"/>
<line x1="1184.9" y1="1035.7" x2="1184.9" y2="1075.6" stroke="#6f9fd4" stroke-width="1.3" stroke-opacity="0.55"/>
<line x1="850" y1="897.7" x2="890.3" y2="897.7" stroke="#6f9fd4" stroke-width="1.3" stroke-opacity="0.55"/>
<line x1="1188.9" y1="1035.7" x2="1188.9" y2="1075.6" stroke="#6f9fd4" stroke-width="1.3" stroke-opacity="0.55"/>
<line x1="850" y1="914.3" x2="890.3" y2="914.3" stroke="#6f9fd4" stroke-width="1.3" stroke-opacity="0.55"/>
<line x1="1192.2" y1="1035.7" x2="1192.2" y2="1075.6" stroke="#6f9fd4" stroke-width="1.3" stroke-opacity="0.55"/>
<line x1="850" y1="967.7" x2="890.3" y2="967.7" stroke="#6f9fd4" stroke-width="1.3" stroke-opacity="0.55"/>
<line x1="1189.2" y1="1035.7" x2="1189.2" y2="1075.6" stroke="#6f9fd4" stroke-width="1.3" stroke-opacity="0.55"/>
<line x1="850" y1="966.4" x2="890.3" y2="966.4" stroke="#6f9fd4" stroke-width="1.3" stroke-opacity="0.55"/>
<line x1="1194.5" y1="1035.7" x2="1194.5" y2="1075.6" stroke="#6f9fd4" stroke-width="1.3" stroke-opacity="0.55"/>
<line x1="850" y1="970.5" x2="890.3" y2="970.5" stroke="#6f9fd4" stroke-width="1.3" stroke-opacity="0.55"/>
<line x1="1192.2" y1="1035.7" x2="1192.2" y2="1075.6" stroke="#6f9fd4" stroke-width="1.3" stroke-opacity="0.55"/>
<line x1="850" y1="975.1" x2="890.3" y2="975.1" stroke="#6f9fd4" stroke-width="1.3" stroke-opacity="0.55"/>
<line x1="1190.8" y1="1035.7" x2="1190.8" y2="1075.6" stroke="#6f9fd4" stroke-width="1.3" stroke-opacity="0.55"/>
<line x1="850" y1="980.1" x2="890.3" y2="980.1" stroke="#6f9fd4" stroke-width="1.3" stroke-opacity="0.55"/>
<line x1="1190.3" y1="1035.7" x2="1190.3" y2="1075.6" stroke="#6f9fd4" stroke-width="1.3" stroke-opacity="0.55"/>
<line x1="850" y1="991.5" x2="890.3" y2="991.5" stroke="#6f9fd4" stroke-width="1.3" stroke-opacity="0.55"/>
<line x1="1192.5" y1="1035.7" x2="1192.5" y2="1075.6" stroke="#6f9fd4" stroke-width="1.3" stroke-opacity="0.55"/>
<line x1="850" y1="961.1" x2="890.3" y2="961.1" stroke="#6f9fd4" stroke-width="1.3" stroke-opacity="0.55"/>
<line x1="1201.9" y1="1035.7" x2="1201.9" y2="1075.6" stroke="#6f9fd4" stroke-width="1.3" stroke-opacity="0.55"/>
<line x1="850" y1="958.3" x2="890.3" y2="958.3" stroke="#6f9fd4" stroke-width="1.3" stroke-opacity="0.55"/>
<line x1="1207.7" y1="1035.7" x2="1207.7" y2="1075.6" stroke="#6f9fd4" stroke-width="1.3" stroke-opacity="0.55"/>
<line x1="850" y1="951.5" x2="890.3" y2="951.5" stroke="#6f9fd4" stroke-width="1.3" stroke-opacity="0.55"/>
<line x1="1207.9" y1="1035.7" x2="1207.9" y2="1075.6" stroke="#6f9fd4" stroke-width="1.3" stroke-opacity="0.55"/>
<line x1="850" y1="953.3" x2="890.3" y2="953.3" stroke="#6f9fd4" stroke-width="1.3" stroke-opacity="0.55"/>
<line x1="1214.7" y1="1035.7" x2="1214.7" y2="1075.6" stroke="#6f9fd4" stroke-width="1.3" stroke-opacity="0.55"/>
<line x1="850" y1="959.7" x2="890.3" y2="959.7" stroke="#6f9fd4" stroke-width="1.3" stroke-opacity="0.55"/>
<line x1="1216.5" y1="1035.7" x2="1216.5" y2="1075.6" stroke="#6f9fd4" stroke-width="1.3" stroke-opacity="0.55"/>
<line x1="850" y1="978.8" x2="890.3" y2="978.8" stroke="#6f9fd4" stroke-width="1.3" stroke-opacity="0.55"/>
<line x1="1206.5" y1="1035.7" x2="1206.5" y2="1075.6" stroke="#6f9fd4" stroke-width="1.3" stroke-opacity="0.55"/>
<line x1="850" y1="976.3" x2="890.3" y2="976.3" stroke="#6f9fd4" stroke-width="1.3" stroke-opacity="0.55"/>
<line x1="1222.9" y1="1035.7" x2="1222.9" y2="1075.6" stroke="#6f9fd4" stroke-width="1.3" stroke-opacity="0.55"/>
<line x1="850" y1="989.5" x2="890.3" y2="989.5" stroke="#6f9fd4" stroke-width="1.3" stroke-opacity="0.55"/>
<line x1="1225.1" y1="1035.7" x2="1225.1" y2="1075.6" stroke="#6f9fd4" stroke-width="1.3" stroke-opacity="0.55"/>
<line x1="850" y1="968.8" x2="890.3" y2="968.8" stroke="#6f9fd4" stroke-width="1.3" stroke-opacity="0.55"/>
<line x1="1229.7" y1="1035.7" x2="1229.7" y2="1075.6" stroke="#6f9fd4" stroke-width="1.3" stroke-opacity="0.55"/>
<line x1="850" y1="837.9" x2="890.3" y2="837.9" stroke="#6f9fd4" stroke-width="1.3" stroke-opacity="0.55"/>
<line x1="1211.2" y1="1035.7" x2="1211.2" y2="1075.6" stroke="#6f9fd4" stroke-width="1.3" stroke-opacity="0.55"/>
<line x1="850" y1="841.5" x2="890.3" y2="841.5" stroke="#6f9fd4" stroke-width="1.3" stroke-opacity="0.55"/>
<line x1="1211.2" y1="1035.7" x2="1211.2" y2="1075.6" stroke="#6f9fd4" stroke-width="1.3" stroke-opacity="0.55"/>
<line x1="850" y1="836" x2="890.3" y2="836" stroke="#6f9fd4" stroke-width="1.3" stroke-opacity="0.55"/>
<line x1="1221.4" y1="1035.7" x2="1221.4" y2="1075.6" stroke="#6f9fd4" stroke-width="1.3" stroke-opacity="0.55"/>
<line x1="850" y1="829.9" x2="890.3" y2="829.9" stroke="#6f9fd4" stroke-width="1.3" stroke-opacity="0.55"/>
<line x1="1225.9" y1="1035.7" x2="1225.9" y2="1075.6" stroke="#6f9fd4" stroke-width="1.3" stroke-opacity="0.55"/>
<line x1="850" y1="834.1" x2="890.3" y2="834.1" stroke="#6f9fd4" stroke-width="1.3" stroke-opacity="0.55"/>
<line x1="1232.2" y1="1035.7" x2="1232.2" y2="1075.6" stroke="#6f9fd4" stroke-width="1.3" stroke-opacity="0.55"/>
<line x1="850" y1="841.5" x2="890.3" y2="841.5" stroke="#6f9fd4" stroke-width="1.3" stroke-opacity="0.55"/>
<line x1="1226.7" y1="1035.7" x2="1226.7" y2="1075.6" stroke="#6f9fd4" stroke-width="1.3" stroke-opacity="0.55"/>
<line x1="850" y1="870.9" x2="890.3" y2="870.9" stroke="#6f9fd4" stroke-width="1.3" stroke-opacity="0.55"/>
<line x1="1208.7" y1="1035.7" x2="1208.7" y2="1075.6" stroke="#6f9fd4" stroke-width="1.3" stroke-opacity="0.55"/>
<line x1="850" y1="870.4" x2="890.3" y2="870.4" stroke="#6f9fd4" stroke-width="1.3" stroke-opacity="0.55"/>
<line x1="1212.3" y1="1035.7" x2="1212.3" y2="1075.6" stroke="#6f9fd4" stroke-width="1.3" stroke-opacity="0.55"/>
<line x1="850" y1="881.7" x2="890.3" y2="881.7" stroke="#6f9fd4" stroke-width="1.3" stroke-opacity="0.55"/>
<line x1="1234.5" y1="1035.7" x2="1234.5" y2="1075.6" stroke="#6f9fd4" stroke-width="1.3" stroke-opacity="0.55"/>
<line x1="850" y1="896.6" x2="890.3" y2="896.6" stroke="#6f9fd4" stroke-width="1.3" stroke-opacity="0.55"/>
<line x1="1215.6" y1="1035.7" x2="1215.6" y2="1075.6" stroke="#6f9fd4" stroke-width="1.3" stroke-opacity="0.55"/>
<line x1="850" y1="894.9" x2="890.3" y2="894.9" stroke="#6f9fd4" stroke-width="1.3" stroke-opacity="0.55"/>
<line x1="1218.1" y1="1035.7" x2="1218.1" y2="1075.6" stroke="#6f9fd4" stroke-width="1.3" stroke-opacity="0.55"/>
<line x1="850" y1="901.4" x2="890.3" y2="901.4" stroke="#6f9fd4" stroke-width="1.3" stroke-opacity="0.55"/>
<line x1="1207.4" y1="1035.7" x2="1207.4" y2="1075.6" stroke="#6f9fd4" stroke-width="1.3" stroke-opacity="0.55"/>
<line x1="850" y1="929.6" x2="890.3" y2="929.6" stroke="#6f9fd4" stroke-width="1.3" stroke-opacity="0.55"/>
<line x1="1222.3" y1="1035.7" x2="1222.3" y2="1075.6" stroke="#6f9fd4" stroke-width="1.3" stroke-opacity="0.55"/>
<line x1="850" y1="932.5" x2="890.3" y2="932.5" stroke="#6f9fd4" stroke-width="1.3" stroke-opacity="0.55"/>
<line x1="1221.9" y1="1035.7" x2="1221.9" y2="1075.6" stroke="#6f9fd4" stroke-width="1.3" stroke-opacity="0.55"/>
<line x1="850" y1="901" x2="890.3" y2="901" stroke="#6f9fd4" stroke-width="1.3" stroke-opacity="0.55"/>
<line x1="1248.4" y1="1035.7" x2="1248.4" y2="1075.6" stroke="#6f9fd4" stroke-width="1.3" stroke-opacity="0.55"/>
<line x1="850" y1="859.4" x2="890.3" y2="859.4" stroke="#6f9fd4" stroke-width="1.3" stroke-opacity="0.55"/>
<line x1="1250.4" y1="1035.7" x2="1250.4" y2="1075.6" stroke="#6f9fd4" stroke-width="1.3" stroke-opacity="0.55"/>
<line x1="850" y1="853.4" x2="890.3" y2="853.4" stroke="#6f9fd4" stroke-width="1.3" stroke-opacity="0.55"/>
<line x1="1255.8" y1="1035.7" x2="1255.8" y2="1075.6" stroke="#6f9fd4" stroke-width="1.3" stroke-opacity="0.55"/>
<line x1="850" y1="913.8" x2="890.3" y2="913.8" stroke="#6f9fd4" stroke-width="1.3" stroke-opacity="0.55"/>
<line x1="1271.9" y1="1035.7" x2="1271.9" y2="1075.6" stroke="#6f9fd4" stroke-width="1.3" stroke-opacity="0.55"/>
<line x1="850" y1="976.3" x2="890.3" y2="976.3" stroke="#6f9fd4" stroke-width="1.3" stroke-opacity="0.55"/>
<line x1="1258.6" y1="1035.7" x2="1258.6" y2="1075.6" stroke="#6f9fd4" stroke-width="1.3" stroke-opacity="0.55"/>
<line x1="850" y1="982.6" x2="890.3" y2="982.6" stroke="#6f9fd4" stroke-width="1.3" stroke-opacity="0.55"/>
<line x1="1257" y1="1035.7" x2="1257" y2="1075.6" stroke="#6f9fd4" stroke-width="1.3" stroke-opacity="0.55"/>
<line x1="850" y1="974.1" x2="890.3" y2="974.1" stroke="#6f9fd4" stroke-width="1.3" stroke-opacity="0.55"/>
<line x1="1271" y1="1035.7" x2="1271" y2="1075.6" stroke="#6f9fd4" stroke-width="1.3" stroke-opacity="0.55"/>
<line x1="850" y1="989.2" x2="890.3" y2="989.2" stroke="#6f9fd4" stroke-width="1.3" stroke-opacity="0.55"/>
<line x1="1271.5" y1="1035.7" x2="1271.5" y2="1075.6" stroke="#6f9fd4" stroke-width="1.3" stroke-opacity="0.55"/>
<line x1="850" y1="869.3" x2="890.3" y2="869.3" stroke="#6f9fd4" stroke-width="1.3" stroke-opacity="0.55"/>
<line x1="1319.6" y1="1035.7" x2="1319.6" y2="1075.6" stroke="#6f9fd4" stroke-width="1.3" stroke-opacity="0.55"/>
<line x1="850" y1="902.4" x2="890.3" y2="902.4" stroke="#6f9fd4" stroke-width="1.3" stroke-opacity="0.55"/>
<line x1="1308.9" y1="1035.7" x2="1308.9" y2="1075.6" stroke="#6f9fd4" stroke-width="1.3" stroke-opacity="0.55"/>
<line x1="850" y1="899" x2="890.3" y2="899" stroke="#6f9fd4" stroke-width="1.3" stroke-opacity="0.55"/>
<line x1="1342.8" y1="1035.7" x2="1342.8" y2="1075.6" stroke="#6f9fd4" stroke-width="1.3" stroke-opacity="0.55"/>
<line x1="850" y1="916.7" x2="890.3" y2="916.7" stroke="#6f9fd4" stroke-width="1.3" stroke-opacity="0.55"/>
<line x1="1285.2" y1="1035.7" x2="1285.2" y2="1075.6" stroke="#6f9fd4" stroke-width="1.3" stroke-opacity="0.55"/>
<line x1="850" y1="918.1" x2="890.3" y2="918.1" stroke="#6f9fd4" stroke-width="1.3" stroke-opacity="0.55"/>
<line x1="1332.3" y1="1035.7" x2="1332.3" y2="1075.6" stroke="#6f9fd4" stroke-width="1.3" stroke-opacity="0.55"/>
<line x1="850" y1="931.6" x2="890.3" y2="931.6" stroke="#6f9fd4" stroke-width="1.3" stroke-opacity="0.55"/>
<line x1="1280.3" y1="1035.7" x2="1280.3" y2="1075.6" stroke="#6f9fd4" stroke-width="1.3" stroke-opacity="0.55"/>
<line x1="850" y1="934.9" x2="890.3" y2="934.9" stroke="#6f9fd4" stroke-width="1.3" stroke-opacity="0.55"/>
<line x1="1289.5" y1="1035.7" x2="1289.5" y2="1075.6" stroke="#6f9fd4" stroke-width="1.3" stroke-opacity="0.55"/>
<line x1="850" y1="945.2" x2="890.3" y2="945.2" stroke="#6f9fd4" stroke-width="1.3" stroke-opacity="0.55"/>
<line x1="1291.5" y1="1035.7" x2="1291.5" y2="1075.6" stroke="#6f9fd4" stroke-width="1.3" stroke-opacity="0.55"/>
<line x1="850" y1="961.7" x2="890.3" y2="961.7" stroke="#6f9fd4" stroke-width="1.3" stroke-opacity="0.55"/>
<line x1="1358.1" y1="1035.7" x2="1358.1" y2="1075.6" stroke="#6f9fd4" stroke-width="1.3" stroke-opacity="0.55"/>
<line x1="850" y1="973.5" x2="890.3" y2="973.5" stroke="#6f9fd4" stroke-width="1.3" stroke-opacity="0.55"/>
<line x1="1332" y1="1035.7" x2="1332" y2="1075.6" stroke="#6f9fd4" stroke-width="1.3" stroke-opacity="0.55"/>
<line x1="850" y1="977.4" x2="890.3" y2="977.4" stroke="#6f9fd4" stroke-width="1.3" stroke-opacity="0.55"/>
<line x1="1334.2" y1="1035.7" x2="1334.2" y2="1075.6" stroke="#6f9fd4" stroke-width="1.3" stroke-opacity="0.55"/>
<line x1="850" y1="977.4" x2="890.3" y2="977.4" stroke="#6f9fd4" stroke-width="1.3" stroke-opacity="0.55"/>
<line x1="1421.8" y1="1035.7" x2="1421.8" y2="1075.6" stroke="#6f9fd4" stroke-width="1.3" stroke-opacity="0.55"/>
<line x1="850" y1="981.6" x2="890.3" y2="981.6" stroke="#6f9fd4" stroke-width="1.3" stroke-opacity="0.55"/>
<line x1="1287.9" y1="1035.7" x2="1287.9" y2="1075.6" stroke="#6f9fd4" stroke-width="1.3" stroke-opacity="0.55"/>
<line x1="850" y1="987" x2="890.3" y2="987" stroke="#6f9fd4" stroke-width="1.3" stroke-opacity="0.55"/>
<line x1="1278.3" y1="1035.7" x2="1278.3" y2="1075.6" stroke="#6f9fd4" stroke-width="1.3" stroke-opacity="0.55"/>
<line x1="850" y1="668.9" x2="890.3" y2="668.9" stroke="#e26d7a" stroke-width="1.3" stroke-opacity="0.6"/>
<line x1="1060.1" y1="1035.7" x2="1060.1" y2="1075.6" stroke="#e26d7a" stroke-width="1.3" stroke-opacity="0.6"/>
<line x1="850" y1="710.3" x2="890.3" y2="710.3" stroke="#e26d7a" stroke-width="1.3" stroke-opacity="0.6"/>
<line x1="1092.1" y1="1035.7" x2="1092.1" y2="1075.6" stroke="#e26d7a" stroke-width="1.3" stroke-opacity="0.6"/>
<line x1="850" y1="747.8" x2="890.3" y2="747.8" stroke="#e26d7a" stroke-width="1.3" stroke-opacity="0.6"/>
<line x1="1048.8" y1="1035.7" x2="1048.8" y2="1075.6" stroke="#e26d7a" stroke-width="1.3" stroke-opacity="0.6"/>
<line x1="850" y1="777.7" x2="890.3" y2="777.7" stroke="#e26d7a" stroke-width="1.3" stroke-opacity="0.6"/>
<line x1="1096.3" y1="1035.7" x2="1096.3" y2="1075.6" stroke="#e26d7a" stroke-width="1.3" stroke-opacity="0.6"/>
<line x1="850" y1="785.5" x2="890.3" y2="785.5" stroke="#e26d7a" stroke-width="1.3" stroke-opacity="0.6"/>
<line x1="1055.9" y1="1035.7" x2="1055.9" y2="1075.6" stroke="#e26d7a" stroke-width="1.3" stroke-opacity="0.6"/>
<line x1="850" y1="826.3" x2="890.3" y2="826.3" stroke="#e26d7a" stroke-width="1.3" stroke-opacity="0.6"/>
<line x1="1076.6" y1="1035.7" x2="1076.6" y2="1075.6" stroke="#e26d7a" stroke-width="1.3" stroke-opacity="0.6"/>
<line x1="850" y1="829" x2="890.3" y2="829" stroke="#e26d7a" stroke-width="1.3" stroke-opacity="0.6"/>
<line x1="1088.2" y1="1035.7" x2="1088.2" y2="1075.6" stroke="#e26d7a" stroke-width="1.3" stroke-opacity="0.6"/>
<line x1="850" y1="833.2" x2="890.3" y2="833.2" stroke="#e26d7a" stroke-width="1.3" stroke-opacity="0.6"/>
<line x1="1081.9" y1="1035.7" x2="1081.9" y2="1075.6" stroke="#e26d7a" stroke-width="1.3" stroke-opacity="0.6"/>
<line x1="850" y1="877.9" x2="890.3" y2="877.9" stroke="#e26d7a" stroke-width="1.3" stroke-opacity="0.6"/>
<line x1="1072.8" y1="1035.7" x2="1072.8" y2="1075.6" stroke="#e26d7a" stroke-width="1.3" stroke-opacity="0.6"/>
<line x1="850" y1="882" x2="890.3" y2="882" stroke="#e26d7a" stroke-width="1.3" stroke-opacity="0.6"/>
<line x1="1072.5" y1="1035.7" x2="1072.5" y2="1075.6" stroke="#e26d7a" stroke-width="1.3" stroke-opacity="0.6"/>
<line x1="850" y1="910.6" x2="890.3" y2="910.6" stroke="#e26d7a" stroke-width="1.3" stroke-opacity="0.6"/>
<line x1="1089.8" y1="1035.7" x2="1089.8" y2="1075.6" stroke="#e26d7a" stroke-width="1.3" stroke-opacity="0.6"/>
<line x1="850" y1="880.7" x2="890.3" y2="880.7" stroke="#e26d7a" stroke-width="1.3" stroke-opacity="0.6"/>
<line x1="1102" y1="1035.7" x2="1102" y2="1075.6" stroke="#e26d7a" stroke-width="1.3" stroke-opacity="0.6"/>
<line x1="850" y1="891.9" x2="890.3" y2="891.9" stroke="#e26d7a" stroke-width="1.3" stroke-opacity="0.6"/>
<line x1="1100.7" y1="1035.7" x2="1100.7" y2="1075.6" stroke="#e26d7a" stroke-width="1.3" stroke-opacity="0.6"/>
<line x1="850" y1="947.3" x2="890.3" y2="947.3" stroke="#e26d7a" stroke-width="1.3" stroke-opacity="0.6"/>
<line x1="1099.4" y1="1035.7" x2="1099.4" y2="1075.6" stroke="#e26d7a" stroke-width="1.3" stroke-opacity="0.6"/>
<path d="M845.9 619.2V1031.0" stroke="#222" stroke-width="2" fill="none"/>
<path d="M841.5 619.2H1466.2V1080.3H894.6V619.2" stroke="#222" stroke-width="2" fill="none"/>
<line x1="841.5" y1="1031.0" x2="908.3" y2="1031.0" stroke="#222" stroke-width="2"/>
<line x1="908.3" y1="1031.0" x2="1466.2" y2="1031.0" stroke="#6f8c7c" stroke-width="2"/>
<line x1="841.4" y1="1030.72" x2="845.9" y2="1030.72" stroke="#222" stroke-width="2"/>
<line x1="837.9" y1="996.4" x2="845.9" y2="996.4" stroke="#222" stroke-width="2"/>
<text x="833" y="1002.8" font-size="18.8" text-anchor="end" font-family="'Liberation Serif','Times New Roman',serif">0</text>
<line x1="841.4" y1="962.08" x2="845.9" y2="962.08" stroke="#222" stroke-width="2"/>
<line x1="837.9" y1="927.76" x2="845.9" y2="927.76" stroke="#222" stroke-width="2"/>
<text x="833" y="934.16" font-size="18.8" text-anchor="end" font-family="'Liberation Serif','Times New Roman',serif">2</text>
<line x1="841.4" y1="893.44" x2="845.9" y2="893.44" stroke="#222" stroke-width="2"/>
<line x1="837.9" y1="859.12" x2="845.9" y2="859.12" stroke="#222" stroke-width="2"/>
<text x="833" y="865.52" font-size="18.8" text-anchor="end" font-family="'Liberation Serif','Times New Roman',serif">4</text>
<line x1="841.4" y1="824.8" x2="845.9" y2="824.8" stroke="#222" stroke-width="2"/>
<line x1="837.9" y1="790.48" x2="845.9" y2="790.48" stroke="#222" stroke-width="2"/>
<text x="833" y="796.88" font-size="18.8" text-anchor="end" font-family="'Liberation Serif','Times New Roman',serif">6</text>
<line x1="841.4" y1="756.16" x2="845.9" y2="756.16" stroke="#222" stroke-width="2"/>
<line x1="837.9" y1="721.84" x2="845.9" y2="721.84" stroke="#222" stroke-width="2"/>
<text x="833" y="728.24" font-size="18.8" text-anchor="end" font-family="'Liberation Serif','Times New Roman',serif">8</text>
<line x1="841.4" y1="687.52" x2="845.9" y2="687.52" stroke="#222" stroke-width="2"/>
<line x1="837.9" y1="653.2" x2="845.9" y2="653.2" stroke="#222" stroke-width="2"/>
<text x="833" y="659.6" font-size="18.8" text-anchor="end" font-family="'Liberation Serif','Times New Roman',serif">10</text>
<line x1="841.4" y1="618.88" x2="845.9" y2="618.88" stroke="#222" stroke-width="2"/>
<line x1="894.69" y1="1080.3" x2="894.69" y2="1084.8" stroke="#222" stroke-width="2"/>
<line x1="908.3" y1="1080.3" x2="908.3" y2="1088.3" stroke="#222" stroke-width="2"/>
<text x="908.3" y="1108.3" font-size="18.8" text-anchor="middle" font-family="'Liberation Serif','Times New Roman',serif">-40</text>
<line x1="921.91" y1="1080.3" x2="921.91" y2="1084.8" stroke="#222" stroke-width="2"/>
<line x1="935.52" y1="1080.3" x2="935.52" y2="1084.8" stroke="#222" stroke-width="2"/>
<line x1="949.13" y1="1080.3" x2="949.13" y2="1084.8" stroke="#222" stroke-width="2"/>
<line x1="962.74" y1="1080.3" x2="962.74" y2="1084.8" stroke="#222" stroke-width="2"/>
<line x1="976.35" y1="1080.3" x2="976.35" y2="1088.3" stroke="#222" stroke-width="2"/>
<text x="976.35" y="1108.3" font-size="18.8" text-anchor="middle" font-family="'Liberation Serif','Times New Roman',serif">-30</text>
<line x1="989.96" y1="1080.3" x2="989.96" y2="1084.8" stroke="#222" stroke-width="2"/>
<line x1="1003.57" y1="1080.3" x2="1003.57" y2="1084.8" stroke="#222" stroke-width="2"/>
<line x1="1017.18" y1="1080.3" x2="1017.18" y2="1084.8" stroke="#222" stroke-width="2"/>
<line x1="1030.79" y1="1080.3" x2="1030.79" y2="1084.8" stroke="#222" stroke-width="2"/>
<line x1="1044.4" y1="1080.3" x2="1044.4" y2="1088.3" stroke="#222" stroke-width="2"/>
<text x="1044.4" y="1108.3" font-size="18.8" text-anchor="middle" font-family="'Liberation Serif','Times New Roman',serif">-20</text>
<line x1="1058.01" y1="1080.3" x2="1058.01" y2="1084.8" stroke="#222" stroke-width="2"/>
<line x1="1071.62" y1="1080.3" x2="1071.62" y2="1084.8" stroke="#222" stroke-width="2"/>
<line x1="1085.23" y1="1080.3" x2="1085.23" y2="1084.8" stroke="#222" stroke-width="2"/>
<line x1="1098.84" y1="1080.3" x2="1098.84" y2="1084.8" stroke="#222" stroke-width="2"/>
<line x1="1112.45" y1="1080.3" x2="1112.45" y2="1088.3" stroke="#222" stroke-width="2"/>
<text x="1112.45" y="1108.3" font-size="18.8" text-anchor="middle" font-family="'Liberation Serif','Times New Roman',serif">-10</text>
<line x1="1126.06" y1="1080.3" x2="1126.06" y2="1084.8" stroke="#222" stroke-width="2"/>
<line x1="1139.67" y1="1080.3" x2="1139.67" y2="1084.8" stroke="#222" stroke-width="2"/>
<line x1="1153.28" y1="1080.3" x2="1153.28" y2="1084.8" stroke="#222" stroke-width="2"/>
<line x1="1166.89" y1="1080.3" x2="1166.89" y2="1084.8" stroke="#222" stroke-width="2"/>
<line x1="1180.5" y1="1080.3" x2="1180.5" y2="1088.3" stroke="#222" stroke-width="2"/>
<text x="1180.5" y="1108.3" font-size="18.8" text-anchor="middle" font-family="'Liberation Serif','Times New Roman',serif">0</text>
<line x1="1194.11" y1="1080.3" x2="1194.11" y2="1084.8" stroke="#222" stroke-width="2"/>
<line x1="1207.72" y1="1080.3" x2="1207.72" y2="1084.8" stroke="#222" stroke-width="2"/>
<line x1="1221.33" y1="1080.3" x2="1221.33" y2="1084.8" stroke="#222" stroke-width="2"/>
<line x1="1234.94" y1="1080.3" x2="1234.94" y2="1084.8" stroke="#222" stroke-width="2"/>
<line x1="1248.55" y1="1080.3" x2="1248.55" y2="1088.3" stroke="#222" stroke-width="2"/>
<text x="1248.55" y="1108.3" font-size="18.8" text-anchor="middle" font-family="'Liberation Serif','Times New Roman',serif">10</text>
<line x1="1262.16" y1="1080.3" x2="1262.16" y2="1084.8" stroke="#222" stroke-width="2"/>
<line x1="1275.77" y1="1080.3" x2="1275.77" y2="1084.8" stroke="#222" stroke-width="2"/>
<line x1="1289.38" y1="1080.3" x2="1289.38" y2="1084.8" stroke="#222" stroke-width="2"/>
<line x1="1302.99" y1="1080.3" x2="1302.99" y2="1084.8" stroke="#222" stroke-width="2"/>
<line x1="1316.6" y1="1080.3" x2="1316.6" y2="1088.3" stroke="#222" stroke-width="2"/>
<text x="1316.6" y="1108.3" font-size="18.8" text-anchor="middle" font-family="'Liberation Serif','Times New Roman',serif">20</text>
<line x1="1330.21" y1="1080.3" x2="1330.21" y2="1084.8" stroke="#222" stroke-width="2"/>
<line x1="1343.82" y1="1080.3" x2="1343.82" y2="1084.8" stroke="#222" stroke-width="2"/>
<line x1="1357.43" y1="1080.3" x2="1357.43" y2="1084.8" stroke="#222" stroke-width="2"/>
<line x1="1371.04" y1="1080.3" x2="1371.04" y2="1084.8" stroke="#222" stroke-width="2"/>
<line x1="1384.65" y1="1080.3" x2="1384.65" y2="1088.3" stroke="#222" stroke-width="2"/>
<text x="1384.65" y="1108.3" font-size="18.8" text-anchor="middle" font-family="'Liberation Serif','Times New Roman',serif">30</text>
<line x1="1398.26" y1="1080.3" x2="1398.26" y2="1084.8" stroke="#222" stroke-width="2"/>
<line x1="1411.87" y1="1080.3" x2="1411.87" y2="1084.8" stroke="#222" stroke-width="2"/>
<line x1="1425.48" y1="1080.3" x2="1425.48" y2="1084.8" stroke="#222" stroke-width="2"/>
<line x1="1439.09" y1="1080.3" x2="1439.09" y2="1084.8" stroke="#222" stroke-width="2"/>
<line x1="1452.7" y1="1080.3" x2="1452.7" y2="1088.3" stroke="#222" stroke-width="2"/>
<text x="1452.7" y="1108.3" font-size="18.8" text-anchor="middle" font-family="'Liberation Serif','Times New Roman',serif">40</text>
<line x1="1459.2" y1="1031" x2="1466.2" y2="1031" stroke="#222" stroke-width="2"/>
<text x="1474.5" y="1037.4" font-size="18.8" font-family="'Liberation Serif','Times New Roman',serif">0</text>
<line x1="1461.7" y1="1027.18" x2="1466.2" y2="1027.18" stroke="#222" stroke-width="1.2"/>
<line x1="1461.7" y1="1023.36" x2="1466.2" y2="1023.36" stroke="#222" stroke-width="1.2"/>
<line x1="1461.7" y1="1019.55" x2="1466.2" y2="1019.55" stroke="#222" stroke-width="1.2"/>
<line x1="1461.7" y1="1015.73" x2="1466.2" y2="1015.73" stroke="#222" stroke-width="1.2"/>
<line x1="1461.7" y1="1011.91" x2="1466.2" y2="1011.91" stroke="#222" stroke-width="1.2"/>
<line x1="1461.7" y1="1008.09" x2="1466.2" y2="1008.09" stroke="#222" stroke-width="1.2"/>
<line x1="1461.7" y1="1004.27" x2="1466.2" y2="1004.27" stroke="#222" stroke-width="1.2"/>
<line x1="1461.7" y1="1000.46" x2="1466.2" y2="1000.46" stroke="#222" stroke-width="1.2"/>
<line x1="1461.7" y1="996.64" x2="1466.2" y2="996.64" stroke="#222" stroke-width="1.2"/>
<line x1="1459.2" y1="992.82" x2="1466.2" y2="992.82" stroke="#222" stroke-width="2"/>
<text x="1474.5" y="999.22" font-size="18.8" font-family="'Liberation Serif','Times New Roman',serif">10</text>
<line x1="1461.7" y1="989" x2="1466.2" y2="989" stroke="#222" stroke-width="1.2"/>
<line x1="1461.7" y1="985.18" x2="1466.2" y2="985.18" stroke="#222" stroke-width="1.2"/>
<line x1="1461.7" y1="981.37" x2="1466.2" y2="981.37" stroke="#222" stroke-width="1.2"/>
<line x1="1461.7" y1="977.55" x2="1466.2" y2="977.55" stroke="#222" stroke-width="1.2"/>
<line x1="1461.7" y1="973.73" x2="1466.2" y2="973.73" stroke="#222" stroke-width="1.2"/>
<line x1="1461.7" y1="969.91" x2="1466.2" y2="969.91" stroke="#222" stroke-width="1.2"/>
<line x1="1461.7" y1="966.09" x2="1466.2" y2="966.09" stroke="#222" stroke-width="1.2"/>
<line x1="1461.7" y1="962.28" x2="1466.2" y2="962.28" stroke="#222" stroke-width="1.2"/>
<line x1="1461.7" y1="958.46" x2="1466.2" y2="958.46" stroke="#222" stroke-width="1.2"/>
<line x1="1459.2" y1="954.64" x2="1466.2" y2="954.64" stroke="#222" stroke-width="2"/>
<text x="1474.5" y="961.04" font-size="18.8" font-family="'Liberation Serif','Times New Roman',serif">20</text>
<line x1="1461.7" y1="950.82" x2="1466.2" y2="950.82" stroke="#222" stroke-width="1.2"/>
<line x1="1461.7" y1="947" x2="1466.2" y2="947" stroke="#222" stroke-width="1.2"/>
<line x1="1461.7" y1="943.19" x2="1466.2" y2="943.19" stroke="#222" stroke-width="1.2"/>
<line x1="1461.7" y1="939.37" x2="1466.2" y2="939.37" stroke="#222" stroke-width="1.2"/>
<line x1="1461.7" y1="935.55" x2="1466.2" y2="935.55" stroke="#222" stroke-width="1.2"/>
<line x1="1461.7" y1="931.73" x2="1466.2" y2="931.73" stroke="#222" stroke-width="1.2"/>
<line x1="1461.7" y1="927.91" x2="1466.2" y2="927.91" stroke="#222" stroke-width="1.2"/>
<line x1="1461.7" y1="924.1" x2="1466.2" y2="924.1" stroke="#222" stroke-width="1.2"/>
<line x1="1461.7" y1="920.28" x2="1466.2" y2="920.28" stroke="#222" stroke-width="1.2"/>
<line x1="1459.2" y1="916.46" x2="1466.2" y2="916.46" stroke="#222" stroke-width="2"/>
<text x="1474.5" y="922.86" font-size="18.8" font-family="'Liberation Serif','Times New Roman',serif">30</text>
<line x1="1461.7" y1="912.64" x2="1466.2" y2="912.64" stroke="#222" stroke-width="1.2"/>
<line x1="1461.7" y1="908.82" x2="1466.2" y2="908.82" stroke="#222" stroke-width="1.2"/>
<line x1="1461.7" y1="905.01" x2="1466.2" y2="905.01" stroke="#222" stroke-width="1.2"/>
<line x1="1461.7" y1="901.19" x2="1466.2" y2="901.19" stroke="#222" stroke-width="1.2"/>
<line x1="1461.7" y1="897.37" x2="1466.2" y2="897.37" stroke="#222" stroke-width="1.2"/>
<line x1="1461.7" y1="893.55" x2="1466.2" y2="893.55" stroke="#222" stroke-width="1.2"/>
<line x1="1461.7" y1="889.73" x2="1466.2" y2="889.73" stroke="#222" stroke-width="1.2"/>
<line x1="1461.7" y1="885.92" x2="1466.2" y2="885.92" stroke="#222" stroke-width="1.2"/>
<line x1="1461.7" y1="882.1" x2="1466.2" y2="882.1" stroke="#222" stroke-width="1.2"/>
<line x1="1459.2" y1="878.28" x2="1466.2" y2="878.28" stroke="#222" stroke-width="2"/>
<text x="1474.5" y="884.68" font-size="18.8" font-family="'Liberation Serif','Times New Roman',serif">40</text>
<line x1="1461.7" y1="874.46" x2="1466.2" y2="874.46" stroke="#222" stroke-width="1.2"/>
<line x1="1461.7" y1="870.64" x2="1466.2" y2="870.64" stroke="#222" stroke-width="1.2"/>
<line x1="1461.7" y1="866.83" x2="1466.2" y2="866.83" stroke="#222" stroke-width="1.2"/>
<line x1="1461.7" y1="863.01" x2="1466.2" y2="863.01" stroke="#222" stroke-width="1.2"/>
<line x1="1461.7" y1="859.19" x2="1466.2" y2="859.19" stroke="#222" stroke-width="1.2"/>
<line x1="1461.7" y1="855.37" x2="1466.2" y2="855.37" stroke="#222" stroke-width="1.2"/>
<line x1="1461.7" y1="851.55" x2="1466.2" y2="851.55" stroke="#222" stroke-width="1.2"/>
<line x1="1461.7" y1="847.74" x2="1466.2" y2="847.74" stroke="#222" stroke-width="1.2"/>
<line x1="1461.7" y1="843.92" x2="1466.2" y2="843.92" stroke="#222" stroke-width="1.2"/>
<line x1="1459.2" y1="840.1" x2="1466.2" y2="840.1" stroke="#222" stroke-width="2"/>
<text x="1474.5" y="846.5" font-size="18.8" font-family="'Liberation Serif','Times New Roman',serif">50</text>
<line x1="1461.7" y1="836.28" x2="1466.2" y2="836.28" stroke="#222" stroke-width="1.2"/>
<line x1="1461.7" y1="832.46" x2="1466.2" y2="832.46" stroke="#222" stroke-width="1.2"/>
<line x1="1461.7" y1="828.65" x2="1466.2" y2="828.65" stroke="#222" stroke-width="1.2"/>
<line x1="1461.7" y1="824.83" x2="1466.2" y2="824.83" stroke="#222" stroke-width="1.2"/>
<line x1="1461.7" y1="821.01" x2="1466.2" y2="821.01" stroke="#222" stroke-width="1.2"/>
<line x1="1461.7" y1="817.19" x2="1466.2" y2="817.19" stroke="#222" stroke-width="1.2"/>
<line x1="1461.7" y1="813.37" x2="1466.2" y2="813.37" stroke="#222" stroke-width="1.2"/>
<line x1="1461.7" y1="809.56" x2="1466.2" y2="809.56" stroke="#222" stroke-width="1.2"/>
<line x1="1461.7" y1="805.74" x2="1466.2" y2="805.74" stroke="#222" stroke-width="1.2"/>
<line x1="1459.2" y1="801.92" x2="1466.2" y2="801.92" stroke="#222" stroke-width="2"/>
<text x="1474.5" y="808.32" font-size="18.8" font-family="'Liberation Serif','Times New Roman',serif">60</text>
<line x1="1461.7" y1="798.1" x2="1466.2" y2="798.1" stroke="#222" stroke-width="1.2"/>
<line x1="1461.7" y1="794.28" x2="1466.2" y2="794.28" stroke="#222" stroke-width="1.2"/>
<line x1="1461.7" y1="790.47" x2="1466.2" y2="790.47" stroke="#222" stroke-width="1.2"/>
<line x1="1461.7" y1="786.65" x2="1466.2" y2="786.65" stroke="#222" stroke-width="1.2"/>
<line x1="1461.7" y1="782.83" x2="1466.2" y2="782.83" stroke="#222" stroke-width="1.2"/>
<line x1="1461.7" y1="779.01" x2="1466.2" y2="779.01" stroke="#222" stroke-width="1.2"/>
<line x1="1461.7" y1="775.19" x2="1466.2" y2="775.19" stroke="#222" stroke-width="1.2"/>
<line x1="1461.7" y1="771.38" x2="1466.2" y2="771.38" stroke="#222" stroke-width="1.2"/>
<line x1="1461.7" y1="767.56" x2="1466.2" y2="767.56" stroke="#222" stroke-width="1.2"/>
<line x1="1459.2" y1="763.74" x2="1466.2" y2="763.74" stroke="#222" stroke-width="2"/>
<text x="1474.5" y="770.14" font-size="18.8" font-family="'Liberation Serif','Times New Roman',serif">70</text>
<line x1="1461.7" y1="759.92" x2="1466.2" y2="759.92" stroke="#222" stroke-width="1.2"/>
<line x1="1461.7" y1="756.1" x2="1466.2" y2="756.1" stroke="#222" stroke-width="1.2"/>
<line x1="1461.7" y1="752.29" x2="1466.2" y2="752.29" stroke="#222" stroke-width="1.2"/>
<line x1="1461.7" y1="748.47" x2="1466.2" y2="748.47" stroke="#222" stroke-width="1.2"/>
<line x1="1461.7" y1="744.65" x2="1466.2" y2="744.65" stroke="#222" stroke-width="1.2"/>
<line x1="1461.7" y1="740.83" x2="1466.2" y2="740.83" stroke="#222" stroke-width="1.2"/>
<line x1="1461.7" y1="737.01" x2="1466.2" y2="737.01" stroke="#222" stroke-width="1.2"/>
<line x1="1461.7" y1="733.2" x2="1466.2" y2="733.2" stroke="#222" stroke-width="1.2"/>
<line x1="1461.7" y1="729.38" x2="1466.2" y2="729.38" stroke="#222" stroke-width="1.2"/>
<line x1="1459.2" y1="725.56" x2="1466.2" y2="725.56" stroke="#222" stroke-width="2"/>
<text x="1474.5" y="731.96" font-size="18.8" font-family="'Liberation Serif','Times New Roman',serif">80</text>
<line x1="1461.7" y1="721.74" x2="1466.2" y2="721.74" stroke="#222" stroke-width="1.2"/>
<line x1="1461.7" y1="717.92" x2="1466.2" y2="717.92" stroke="#222" stroke-width="1.2"/>
<line x1="1461.7" y1="714.11" x2="1466.2" y2="714.11" stroke="#222" stroke-width="1.2"/>
<line x1="1461.7" y1="710.29" x2="1466.2" y2="710.29" stroke="#222" stroke-width="1.2"/>
<line x1="1461.7" y1="706.47" x2="1466.2" y2="706.47" stroke="#222" stroke-width="1.2"/>
<line x1="1461.7" y1="702.65" x2="1466.2" y2="702.65" stroke="#222" stroke-width="1.2"/>
<line x1="1461.7" y1="698.83" x2="1466.2" y2="698.83" stroke="#222" stroke-width="1.2"/>
<line x1="1461.7" y1="695.02" x2="1466.2" y2="695.02" stroke="#222" stroke-width="1.2"/>
<line x1="1461.7" y1="691.2" x2="1466.2" y2="691.2" stroke="#222" stroke-width="1.2"/>
<line x1="1459.2" y1="687.38" x2="1466.2" y2="687.38" stroke="#222" stroke-width="2"/>
<text x="1474.5" y="693.78" font-size="18.8" font-family="'Liberation Serif','Times New Roman',serif">90</text>
<line x1="1461.7" y1="683.56" x2="1466.2" y2="683.56" stroke="#222" stroke-width="1.2"/>
<line x1="1461.7" y1="679.74" x2="1466.2" y2="679.74" stroke="#222" stroke-width="1.2"/>
<line x1="1461.7" y1="675.93" x2="1466.2" y2="675.93" stroke="#222" stroke-width="1.2"/>
<line x1="1461.7" y1="672.11" x2="1466.2" y2="672.11" stroke="#222" stroke-width="1.2"/>
<line x1="1461.7" y1="668.29" x2="1466.2" y2="668.29" stroke="#222" stroke-width="1.2"/>
<line x1="1461.7" y1="664.47" x2="1466.2" y2="664.47" stroke="#222" stroke-width="1.2"/>
<line x1="1461.7" y1="660.65" x2="1466.2" y2="660.65" stroke="#222" stroke-width="1.2"/>
<line x1="1461.7" y1="656.84" x2="1466.2" y2="656.84" stroke="#222" stroke-width="1.2"/>
<line x1="1461.7" y1="653.02" x2="1466.2" y2="653.02" stroke="#222" stroke-width="1.2"/>
<line x1="1459.2" y1="649.2" x2="1466.2" y2="649.2" stroke="#222" stroke-width="2"/>
<text x="1474.5" y="655.6" font-size="18.8" font-family="'Liberation Serif','Times New Roman',serif">100</text>
<line x1="1461.7" y1="645.38" x2="1466.2" y2="645.38" stroke="#222" stroke-width="1.2"/>
<line x1="1461.7" y1="641.56" x2="1466.2" y2="641.56" stroke="#222" stroke-width="1.2"/>
<line x1="1461.7" y1="637.75" x2="1466.2" y2="637.75" stroke="#222" stroke-width="1.2"/>
<line x1="1461.7" y1="633.93" x2="1466.2" y2="633.93" stroke="#222" stroke-width="1.2"/>
<line x1="1461.7" y1="630.11" x2="1466.2" y2="630.11" stroke="#222" stroke-width="1.2"/>
<line x1="1461.7" y1="626.29" x2="1466.2" y2="626.29" stroke="#222" stroke-width="1.2"/>
<line x1="1461.7" y1="622.47" x2="1466.2" y2="622.47" stroke="#222" stroke-width="1.2"/>
<text x="1091.4" y="614.2" font-size="24.5" text-anchor="middle" font-family="'Liberation Serif','Times New Roman',serif">-13</text>
<text x="1180.5" y="1141" font-size="23" text-anchor="middle" font-family="'Liberation Serif','Times New Roman',serif">GT (°)</text>
<text transform="translate(806.5 824.5) rotate(-90)" font-size="23" text-anchor="middle" font-family="'Liberation Serif','Times New Roman',serif">Error (°)</text>
<text transform="translate(1529 825) rotate(-90)" font-size="23" text-anchor="middle" font-family="'Liberation Serif','Times New Roman',serif">Accuracy (%)</text>
<rect x="1242.5" y="536.5" width="223.8" height="55" fill="#fff" stroke="#555" stroke-width="1.2"/>
<rect x="1266.2" y="548" width="6" height="6" fill="#e8333d"/>
<circle cx="1269.2" cy="577.1" r="3.1" fill="#6b9bd2"/>
<text x="1299" y="558.1" font-size="20.8" font-family="'Liberation Serif','Times New Roman',serif">Incorrect prediction</text>
<text x="1299" y="583.7" font-size="20.8" font-family="'Liberation Serif','Times New Roman',serif">Correct prediction</text>
<text x="785" y="584" font-size="56" font-family="'Liberation Serif','Times New Roman',serif">d</text>
<defs>
<clipPath id="xc"><rect x="1561.0" y="306.8" width="427.0" height="543.0"/></clipPath>
<filter id="b12" x="-30%" y="-30%" width="160%" height="160%"><feGaussianBlur stdDeviation="12"/></filter>
<filter id="b8" x="-30%" y="-30%" width="160%" height="160%"><feGaussianBlur stdDeviation="8"/></filter>
<filter id="b5" x="-30%" y="-30%" width="160%" height="160%"><feGaussianBlur stdDeviation="5"/></filter>
<filter id="b3" x="-30%" y="-30%" width="160%" height="160%"><feGaussianBlur stdDeviation="3"/></filter>
<filter id="b2" x="-30%" y="-30%" width="160%" height="160%"><feGaussianBlur stdDeviation="2"/></filter>
<filter id="b1" x="-30%" y="-30%" width="160%" height="160%"><feGaussianBlur stdDeviation="1.1"/></filter>
<filter id="tsh" x="-20%" y="-20%" width="140%" height="140%"><feDropShadow dx="1" dy="1" stdDeviation="1.2" flood-color="#000" flood-opacity="0.8"/></filter>
<linearGradient id="gR" x1="0" y1="0" x2="1" y2="0"><stop offset="0" stop-color="#b4b4b4"/><stop offset="1" stop-color="#dcdcdc"/></linearGradient>
<linearGradient id="gS" x1="0" y1="0" x2="0" y2="1"><stop offset="0" stop-color="#b8b8b8"/><stop offset="0.5" stop-color="#555"/><stop offset="1" stop-color="#272727"/></linearGradient>
</defs>
<g clip-path="url(#xc)">
<rect x="1561.0" y="306.8" width="427.0" height="543.0" fill="#a0a0a0"/>
<g filter="url(#b12)">
<path d="M1540.0 290.0 L1720.0 290.0 L1700.0 370.0 L1640.0 385.0 L1600.0 410.0 L1540.0 415.0 Z" fill="#9c9c9c"/>
<ellipse cx="1580" cy="335" rx="22" ry="35" fill="#bababa"/>
<path d="M1830.0 290.0 L1960.0 290.0 L1962.0 350.0 L1950.0 400.0 L1915.0 425.0 L1872.0 452.0 L1831.0 455.0 Z" fill="#828282"/>
<path d="M1960.0 290.0 L2000.0 290.0 L2000.0 425.0 L1958.0 425.0 Z" fill="#d6d6d6"/>
<path d="M1840.0 430.0 L1960.0 430.0 L1960.0 640.0 L1845.0 640.0 Z" fill="url(#gR)"/>
<path d="M1956.0 420.0 L2000.0 420.0 L2000.0 650.0 L1958.0 650.0 L1952.0 600.0 L1958.0 560.0 L1950.0 520.0 L1956.0 470.0 Z" fill="#f4f4f4"/>
<path d="M1672.0 430.0 L1718.0 430.0 L1718.0 580.0 L1672.0 580.0 Z" fill="#b6b6b6"/>
<path d="M1540.0 548.0 L1672.0 548.0 L1672.0 600.0 L1540.0 600.0 Z" fill="#c8c8c8"/>
<path d="M1628.0 575.0 L1700.0 575.0 L1738.0 580.0 L1748.0 745.0 L1700.0 760.0 L1650.0 700.0 Z" fill="#d0d0d0"/>
<path d="M1850.0 600.0 L1960.0 600.0 L1960.0 650.0 L1850.0 650.0 Z" fill="#c4c4c4"/>
</g>
<g filter="url(#b8)">
<path d="M1700.0 290.0 L1960.0 290.0 L1960.0 345.0 L1830.0 350.0 L1780.0 352.0 L1700.0 350.0 Z" fill="#7c7c7c"/>
</g>
<g filter="url(#b8)">
<path d="M1714.0 470.0 L1800.0 460.0 L1840.0 520.0 L1852.0 600.0 L1855.0 680.0 L1830.0 712.0 L1790.0 738.0 L1760.0 742.0 L1740.0 680.0 L1725.0 600.0 L1716.0 530.0 Z" fill="#929292"/>
<path d="M1705.0 585.0 L1730.0 585.0 L1748.0 740.0 L1718.0 745.0 Z" fill="#b4b4b4"/>
</g>
<g filter="url(#b5)">
<path d="M1540.0 416.0 L1600.0 414.0 L1640.0 420.0 L1662.0 440.0 L1676.0 475.0 L1674.0 520.0 L1664.0 552.0 L1540.0 556.0 Z" fill="#606060"/>
<ellipse cx="1672" cy="411" rx="26" ry="19" fill="#b4b4b4"/>
<path d="M1705.0 385.0 L1760.0 368.0 L1800.0 348.0 L1830.0 378.0 L1828.0 440.0 L1800.0 462.0 L1760.0 482.0 L1722.0 472.0 L1708.0 430.0 Z" fill="#4c4c4c"/>
<ellipse cx="1800" cy="390" rx="24" ry="36" fill="#6c6c6c"/>
<path d="M1946.0 305.0 L1962.0 305.0 L1962.0 420.0 L1940.0 420.0 Z" fill="#999999"/>
<path d="M1928.0 405.0 L1948.0 385.0 L1962.0 370.0 L1964.0 428.0 L1948.0 430.0 L1935.0 424.0 Z" fill="#8e8e8e"/>
<ellipse cx="1862" cy="392" rx="30" ry="18" fill="#6e6e6e"/>
</g>
<g filter="url(#b3)">
<path d="M1655.0 372.0 L1700.0 366.0 L1740.0 364.0 L1781.0 356.0 L1790.0 372.0 L1781.0 386.0 L1750.0 398.0 L1705.0 392.0 L1668.0 384.0 Z" fill="#303030"/>
<ellipse cx="1800" cy="386" rx="27" ry="40" fill="none" stroke="#454545" stroke-width="5"/>
</g>
<g filter="url(#b3)">
<ellipse cx="1572" cy="330" rx="10" ry="22" fill="#c0c0c0"/>
<ellipse cx="1620" cy="372" rx="20" ry="26" fill="#b2b2b2"/>
<ellipse cx="1574" cy="388" rx="11" ry="20" fill="#b0b0b0"/>
<ellipse cx="1600" cy="322" rx="10" ry="14" fill="#a8a8a8"/>
</g>
<g filter="url(#b2)">
<g fill="none" stroke="#666666" stroke-width="3.2"><path d="M1562 352 C1575 357 1590 358 1605 352 C1615 348 1625 345 1640 350"/><path d="M1585 310 C1582 330 1590 345 1586 360 C1582 375 1590 395 1588 410"/><path d="M1600 345 C1615 338 1635 342 1642 360 C1648 375 1645 392 1636 400"/><path d="M1610 312 C1620 322 1618 335 1630 338"/><path d="M1640 312 C1650 325 1645 340 1655 350"/><path d="M1565 405 C1580 410 1600 412 1620 405"/><path d="M1655 340 L1690 372"/><path d="M1662 336 L1698 366"/><path d="M1652 350 L1680 376"/><path d="M1700 315 C1715 330 1730 322 1745 335 S1770 330 1790 340"/></g>
</g>
<g filter="url(#b2)">
<path d="M1598.0 449.0 L1617.0 447.0 L1621.0 470.0 L1612.0 488.0 L1600.0 480.0 Z" fill="#a8a8a8"/>
<path d="M1610.0 462.0 L1632.0 458.0 L1637.0 498.0 L1616.0 506.0 Z" fill="#474747"/>
<path d="M1575.0 470.0 L1590.0 468.0 L1595.0 500.0 L1580.0 505.0 Z" fill="#7a7a7a"/>
<circle cx="1573" cy="461" r="6" fill="#141414"/>
</g>
<g filter="url(#b3)">
<path d="M1555 420 C1600 416 1640 420 1658 432 C1672 445 1680 465 1681 492" fill="none" stroke="#363636" stroke-width="10"/>
</g>
<g filter="url(#b5)">
<path d="M1540.0 528.0 L1662.0 528.0 L1664.0 556.0 L1540.0 558.0 Z" fill="#6e6e6e"/>
</g>
<g filter="url(#b1)">
<path d="M1758 412 C1780 420 1800 425 1811 442 C1825 458 1840 460 1855 458 C1880 455 1900 440 1915 420 C1940 400 1955 380 1960 345 L1958 305" fill="none" stroke="#3a3a3a" stroke-width="6.5"/>
</g>
<g filter="url(#b5)">
<path d="M1750.0 470.0 L1800.0 462.0 L1818.0 560.0 L1838.0 690.0 L1832.0 732.0 L1795.0 738.0 L1786.0 650.0 L1766.0 565.0 Z" fill="#747474"/>
</g>
<g filter="url(#b1)">
<path d="M1772.0 478.0 L1800.0 474.0 L1840.0 492.0 L1844.0 504.0 L1836.0 510.0 L1798.0 510.0 L1776.0 505.0 Z" fill="#9a9a9a" stroke="#5c5c5c" stroke-width="1.8"/>
<path d="M1780.0 528.0 L1806.0 525.0 L1836.0 545.0 L1838.0 556.0 L1830.0 560.0 L1800.0 558.0 L1782.0 552.0 Z" fill="#9a9a9a" stroke="#5c5c5c" stroke-width="1.8"/>
<path d="M1788.0 567.0 L1812.0 565.0 L1842.0 590.0 L1837.0 599.0 L1794.0 597.0 Z" fill="#9a9a9a" stroke="#5c5c5c" stroke-width="1.8"/>
<path d="M1800.0 606.0 L1822.0 604.0 L1850.0 626.0 L1847.0 633.0 L1806.0 633.0 Z" fill="#9a9a9a" stroke="#5c5c5c" stroke-width="1.8"/>
<path d="M1812.0 643.0 L1835.0 641.0 L1867.0 660.0 L1861.0 670.0 L1822.0 677.0 Z" fill="#9a9a9a" stroke="#5c5c5c" stroke-width="1.8"/>
<path d="M1822.0 684.0 L1848.0 680.0 L1878.0 690.0 L1876.0 700.0 L1840.0 704.0 L1824.0 700.0 Z" fill="#9a9a9a" stroke="#5c5c5c" stroke-width="1.8"/>
<circle cx="1805" cy="476" r="9" fill="#8a8a8a" stroke="#555" stroke-width="3"/>
</g>
<g filter="url(#b2)">
<rect x="1717.0" y="477.0" width="44" height="46" rx="7" fill="#848484" stroke="#6e6e6e" stroke-width="1.6" transform="rotate(-8 1739.0 500.0)"/>
<rect x="1720.0" y="530.0" width="46" height="34" rx="7" fill="#848484" stroke="#6e6e6e" stroke-width="1.6" transform="rotate(-12 1743.0 547.0)"/>
<rect x="1727.0" y="570.0" width="44" height="36" rx="7" fill="#848484" stroke="#6e6e6e" stroke-width="1.6" transform="rotate(-14 1749.0 588.0)"/>
<rect x="1738.5" y="612.0" width="43" height="36" rx="7" fill="#848484" stroke="#6e6e6e" stroke-width="1.6" transform="rotate(-16 1760.0 630.0)"/>
<rect x="1751.0" y="653.0" width="42" height="36" rx="7" fill="#848484" stroke="#6e6e6e" stroke-width="1.6" transform="rotate(-18 1772.0 671.0)"/>
<rect x="1766.0" y="697.0" width="40" height="30" rx="7" fill="#848484" stroke="#6e6e6e" stroke-width="1.6" transform="rotate(-20 1786.0 712.0)"/>
</g>
<g filter="url(#b2)">
<path d="M1722 527 Q1743.0 515.0 1764 520" fill="none" stroke="#ababab" stroke-width="4.5"/>
<path d="M1726 566 Q1747.0 553.0 1768 558" fill="none" stroke="#ababab" stroke-width="4.5"/>
<path d="M1733 608 Q1755.0 593.0 1777 598" fill="none" stroke="#ababab" stroke-width="4.5"/>
<path d="M1745 650 Q1767.0 634.0 1789 639" fill="none" stroke="#ababab" stroke-width="4.5"/>
<path d="M1757 692 Q1778.5 675.0 1800 680" fill="none" stroke="#ababab" stroke-width="4.5"/>
</g>
<g filter="url(#b5)">
<path d="M1540.0 598.0 L1562.3 599.4 L1591.5 609.1 L1615.9 628.6 L1630.5 648.1 L1645.1 667.6 L1657.3 684.6 L1664.0 700.0 L1672.4 741.8 L1665.5 783.6 L1655.7 811.4 L1641.8 839.3 L1636.2 850.4 L1630.0 870.0 L1540.0 870.0 Z" fill="#f6f6f6"/>
</g>
<g filter="url(#b3)">
<path d="M1540.0 829.0 L1640.0 829.0 L1634.0 860.0 L1540.0 860.0 Z" fill="#e2e2e2"/>
</g>
<g filter="url(#b5)">
<path d="M1672.4 745.0 L1665.5 783.6 L1655.7 811.4 L1641.8 839.3 L1636.2 852.0 L1670.0 860.0 L1690.0 820.0 L1710.0 780.0 L1735.0 750.0 Z" fill="#7c7c7c"/>
</g>
<g filter="url(#b8)">
<path d="M1840.0 645.0 L2000.0 650.0 L2000.0 760.0 L1840.0 705.0 Z" fill="url(#gS)"/>
</g>
<g filter="url(#b3)">
<path d="M1660.0 870.0 L1666.9 850.4 L1683.6 825.3 L1700.3 797.5 L1714.2 769.6 L1732.3 748.7 L1753.2 739.0 L1781.0 732.0 L1811.5 703.0 L1848.1 684.6 L1884.6 674.9 L1921.2 671.2 L1960.0 700.0 L2000.0 725.0 L2000.0 870.0 Z" fill="#282828"/>
</g>
</g>
<g stroke="#8cf5c9" stroke-width="3" fill="none">
<line x1="1561.5" y1="562.6" x2="1988" y2="461.9"/>
<line x1="1616" y1="854" x2="1988" y2="600.5"/>
</g>
<g stroke="#8cf5c9" stroke-width="2.8">
<line x1="1713.2" y1="525.2" x2="1725.8" y2="525.2"/><line x1="1719.5" y1="518.9" x2="1719.5" y2="531.5"/><line x1="1750.2" y1="516.8" x2="1762.8" y2="516.8"/><line x1="1756.5" y1="510.5" x2="1756.5" y2="523.1"/>
<line x1="1777.1" y1="740.1" x2="1789.7" y2="740.1"/><line x1="1783.4" y1="733.8" x2="1783.4" y2="746.4"/><line x1="1809.1" y1="718.4" x2="1821.7" y2="718.4"/><line x1="1815.4" y1="712.1" x2="1815.4" y2="724.7"/>
</g>
<g font-size="23" fill="#fff" text-anchor="middle" font-family="'Liberation Serif','Times New Roman',serif" font-weight="bold" filter="url(#tsh)">
<text x="1740.4" y="503.8">C2</text>
<text x="1743" y="552.5">C3</text>
<text x="1750.6" y="597.7">C4</text>
<text x="1761.9" y="638.4">C5</text>
<text x="1775.5" y="680.9">C6</text>
<text x="1791.3" y="721.6">C7</text>
</g>
<text x="1963.6" y="340.8" font-size="28.2" font-weight="bold" font-family="'Liberation Sans',sans-serif" fill="#111">L</text>
<text x="1957.6" y="373.8" font-size="18" letter-spacing="1.6" font-weight="bold" font-family="'Liberation Sans',sans-serif" fill="#111">lat</text>
<rect x="1526.3" y="279" width="453.5" height="5" fill="#000"/>
<rect x="1971.9" y="279" width="7.9" height="22.4" fill="#000"/>
<rect x="1526.3" y="279" width="11.8" height="567.2" fill="#000"/>
<rect x="1526.3" y="836.7" width="20.4" height="9.5" fill="#000"/>
<text x="1537" y="270" font-size="57" font-family="'Liberation Serif','Times New Roman',serif">e</text>
</svg></body></html>
